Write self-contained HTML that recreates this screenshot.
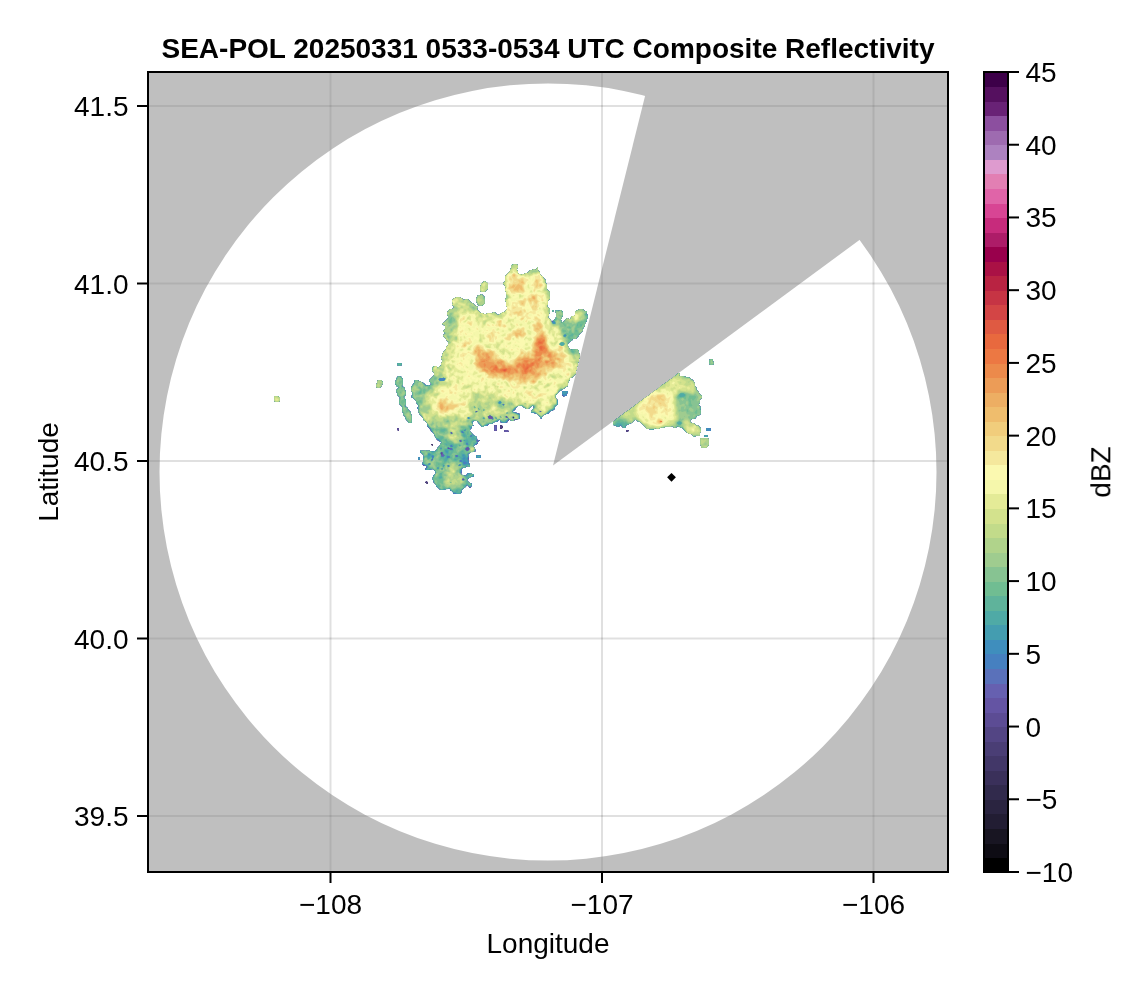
<!DOCTYPE html>
<html lang="en">
<head>
<meta charset="utf-8">
<title>SEA-POL Composite Reflectivity</title>
<style>html,body{margin:0;padding:0;background:#fff}svg{display:block}text{font-family:"Liberation Sans",sans-serif;fill:#000;-webkit-font-smoothing:antialiased}</style>
</head>
<body>
<svg width="1146" height="990" viewBox="0 0 1146 990">
<rect width="1146" height="990" fill="#fff"/>
<defs><clipPath id="ax"><rect x="148" y="72" width="800" height="800"/></clipPath></defs>
<g clip-path="url(#ax)">
<g stroke="#000" stroke-opacity="0.12" stroke-width="2">
<line x1="330.5" y1="72" x2="330.5" y2="872"/>
<line x1="602" y1="72" x2="602" y2="872"/>
<line x1="873.5" y1="72" x2="873.5" y2="872"/>
<line x1="148" y1="106" x2="948" y2="106"/>
<line x1="148" y1="283.5" x2="948" y2="283.5"/>
<line x1="148" y1="461" x2="948" y2="461"/>
<line x1="148" y1="638.5" x2="948" y2="638.5"/>
<line x1="148" y1="816" x2="948" y2="816"/>
</g>
<g opacity="0.5" fill="#808080">
<path fill-rule="evenodd" d="M146 70H950V874H146Z M159.5 472a388.5 388.5 0 1 0 777 0a388.5 388.5 0 1 0 -777 0Z"/>
<polygon points="553,465.5 660,36 960,36 960,166"/>
</g>
<g transform="scale(0.5)" fill-rule="evenodd">
<path fill="#3a305a" d="M921 988l-14 0l-2-6l-4 0l-1-1l0-4l-1-1l-2 2l-6 0l-2 2l-8 0l-6-6l-2 0l-1-1l0-4l-6-6l0-4l-2-2l2-2l0-4l3-1l3-3l-2-6l-5-3l-2 0l-2 2l-10 0l-1-3l3-1l1-3l-1-1l-4 0l-5-3l0-2l2-2l0-10l2-2l0-2l-5-5l-2 0l-1-3l3-3l2 2l2 0l2-2l2 0l2 2l2 0l2-2l2 2l12 0l3-3l0-2l6-6l0-2l4-4l-5-3l-2 0l-5-5l0-2l-2-2l-2-6l-3-3l-3-1l0-2l-8-10l0-6l-8-6l0-4l-8-8l0-2l-2-2l2-2l0-2l-4-2l0-2l3-1l1-3l-4-2l0-2l-2-2l0-4l-5-5l-2 0l-3-3l2-2l0-8l-2-2l0-6l8-12l-2-2l1-1l6 0l6 4l6 2l4 4l2 0l2 2l2-2l2 2l3-3l0-2l-4-6l10-10l0-6l-4-4l0-6l5-3l4 0l2 4l7-5l0-4l2-2l0-6l-2-2l0-2l2-2l0-4l2-2l0-2l6-6l0-4l4-4l0-8l-4-4l0-2l-6-6l4-4l0-2l-4-2l4-4l0-8l-3-1l-3-3l3-1l9-9l0-6l-2-2l0-4l2-2l0-2l5-3l4 0l3-3l0-2l-4-4l2-2l-2-6l5-5l2 0l2-2l6 0l2 2l2 0l4 4l2 0l2-2l4 0l8 8l2 0l6 6l2 0l3 3l-2 2l0 2l7 7l4 0l2 2l6 0l2-2l10 0l2-2l2 0l6 6l2 0l2-2l2 0l6-4l2 0l5-5l0-6l-2-2l0-8l-2-2l0-2l2-2l0-14l-2-2l0-2l2-2l0-2l-2-2l0-2l-4-4l4-4l0-10l10-10l0-4l2-2l0-6l5-3l6 0l3 3l0 4l-2 2l0 4l2 2l0 4l1 1l4 0l2 2l2-2l4 0l2-2l4 0l6-6l4 0l2-2l2 0l2 2l3-3l1-3l1 1l0 6l4 4l0 4l3 3l2 0l1 3l6 6l0 2l-2 2l4 4l0 10l3 3l3 1l0 14l-4 4l0 8l-2 2l0 2l3 3l3 1l0 8l-2 2l0 4l-2 2l0 2l6 6l1 3l2 0l1-3l3-1l3-5l0-10l-2-2l3-3l2 0l2 2l6-2l3 5l0 6l-4 6l0 4l2 2l-2 2l1 1l2-2l2 0l3-3l1-3l2 0l2-2l2 2l4 0l2-6l6 0l1-1l0-8l5-3l2 0l2-2l6 0l4 4l4 0l1 1l0 2l-2 2l4 4l0 4l-2 2l0 4l-4 6l0 4l-4 6l0 4l-8 8l0 2l-7 7l-6 0l-1 3l-3 1l-5 5l0 6l3 5l2 0l2 2l2-2l10 0l3 5l0 4l2 2l0 6l-2 2l0 6l-2 2l0 6l-2 2l0 6l-2 2l0 6l-9 9l-4 0l-1 1l2 2l-4 6l0 6l-3 3l-2 0l-4 4l-2 0l-4 4l-2 0l-3 3l0 2l-4 2l0 4l-2 2l6 6l0 8l-3 1l-3 3l0 4l-3 3l-6 2l-3 3l-1 3l-6 0l-2 2l-2 0l-3 3l0 4l-1 1l-3-3l0-2l-5-5l-4 0l-2-2l-6 0l-1-1l0-2l4-4l0-2l2-2l-1-3l-4 0l-6 6l-4 0l-2-2l-2 0l-4-4l-10 0l-3 3l0 2l-5 5l-3 1l1 1l6 0l2 2l4 0l2 2l1 1l0 8l-1 1l-4 0l-2 2l-4 0l-2 2l-4 0l-4-4l-6 8l-10 0l-3-3l0-4l-1-1l-3 3l-1 3l-6 0l-6 4l-6 0l-2 4l-8 0l-2 2l-3-1l0-2l-6-6l-1-3l-8 0l-1 1l0 2l-2 2l2 2l-2 2l0 4l-4 4l0 4l9 9l2 0l3 3l0 4l1 1l4 0l1 1l-4 2l0 2l-3 5l-4 0l-3 3l4 4l0 2l2 2l-3 3l-8 0l-5 5l0 2l2 2l0 4l-2 2l2 2l0 6l2 2l0 4l-3 1l-2-2l-2 0l-2 4l-6 0l-3 3l2 2l0 4l-2 2l0 2l9 3l3-3l1-3l6 0l2 2l4 0l1 1l0 4l-1 1l-6 0l-7 5l0 2l5 5l4 0l1 1l0 4l-2 2l0 2l-3 1l-1-3l-3-3l-2 0l-1 3l-8 6l0 4zM969 584l-6 0l-3-3l0-8l2-2l0-4l3-1l4-4l7 5l0 10zM963 612l-4 0l-5-5l0-2l-2-2l0-6l2-2l0-2l3-3l4 0l2-2l7 7l0 12zM1105 624l-1-3l3-1l1 1zM1425 730l-4 0l-3-3l0-6l3-3l4 0l1 1l0 4l2 2l0 2zM801 732l-4 0l-3-3l0-2l1-1l8 0l1 3zM1389 874l-2 0l-1-3l-3-3l-4 0l-2-2l-2 0l-4-4l-2 0l-1-3l-3-3l-2 0l-2-2l-4 0l-2-2l-4 4l-2 0l-4-4l-2 0l-2 2l-12 0l-2 2l-2 0l-2-2l-6 4l-4 0l-2-2l-6 4l-4 0l-2-2l-6 0l-1-3l-13-13l-2 2l-4-4l-4 0l-6 6l-6 2l-2 2l-2 0l-3 3l2 2l-1 1l-4 0l-6-6l-4 4l-2 0l-2-2l-6-2l-1-1l0-6l3-1l6-6l2 0l6-6l2 0l6-6l2 0l4-4l2 0l6-6l2 0l6-6l2 0l6-6l2 0l6-6l2 0l4-4l2 0l6-6l2 0l6-6l2 0l14-12l2 0l4-4l2 0l6-6l2 0l14-12l2 0l1 1l0 2l-2 2l1 1l10 0l2 2l6 0l4 4l2 0l5 5l0 2l2 2l0 6l4 4l-2 2l6 6l0 2l3 3l3 1l0 4l-4 4l0 6l-2 2l0 4l4 4l0 2l-2 2l2 2l0 6l-3 3l-6 2l-1 3l-3 3l-6 0l-3 3l0 2l3 3l4 0l6 6l2-2l7 7l0 6l-2 2l0 6l-1 1l-8 0zM823 846l-6 0l-1-3l-4-4l-2-6l-4-4l0-4l-2-2l0-10l-6-6l0-8l2-2l0-2l-6-6l0-4l-2-2l0-2l6-6l-5-3l-3-5l0-4l2-2l2-6l3-3l6 2l3 5l0 10l-2 2l0 2l3 1l3 3l0 4l2 2l0 6l-4 4l0 2l4 6l0 8l-2 2l0 2l3 1l3 3l0 2l6 6l0 4l2 2l0 14zM759 776l-4 0l-3-3l0-4l2-2l0-4l3-3l6 0l3 5l0 2l-2 2l0 2zM1127 794l-3-5l0-6l1-1l10 0l1 3l-2 2l0 4l-1 1l-4 0zM557 804l-6 0l-3-3l0-8l1-1l6 0l5 3l0 6zM947 852l-1-1l1-1l1 1zM993 862l-4 0l-1-1l0-10l1-1l4 0l1 1l0 10zM1003 858l-3-1l0-6l1-1l2 0l3 3l0 2zM797 862l-3-3l1-3l3 1l0 4zM1421 862l-8 0l-1-1l0-4l1-1l8 0l1 1l0 4zM1017 864l-8 0l-1-3l1-1l6 0l3 3zM1255 864l-3-1l1-3l4 0l1 1zM1415 874l-6 0l-1-3l1-1l6 0l1 1zM1413 896l-10 0l-1-1l0-4l-2-2l0-12l1-1l14 0l3 3l0 10zM865 892l-3-3l1-1l3 1zM961 916l-8 0l-1-1l0-4l1-1l8 0l1 1l0 4zM839 920l-3-1l0-4l1-1l3 1l0 4zM855 968l-5-3l3-3l3 3z"/>
<path fill="#423768" d="M921 988l-14 0l-2-6l-4 0l-1-1l0-4l-1-1l-2 2l-6 0l-2 2l-8 0l-6-6l-2 0l-1-1l0-4l-6-6l0-4l-2-2l2-2l0-4l3-1l3-3l-2-6l-5-3l-2 0l-2 2l-10 0l-1-3l3-1l1-3l-1-1l-4 0l-5-3l0-2l2-2l0-10l2-2l0-2l-5-5l-2 0l-1-3l3-3l2 2l2 0l2-2l2 0l2 2l2 0l2-2l2 2l12 0l3-3l0-2l6-6l0-2l4-4l-5-3l-2 0l-5-5l0-2l-2-2l-2-6l-3-3l-3-1l0-2l-8-10l0-6l-8-6l0-4l-8-8l0-2l-2-2l2-2l0-2l-4-2l0-2l3-1l1-3l-4-2l0-2l-2-2l0-4l-5-5l-2 0l-3-3l2-2l0-8l-2-2l0-6l8-12l-2-2l1-1l6 0l6 4l6 2l4 4l2 0l2 2l2-2l2 2l3-3l0-2l-4-6l10-10l0-6l-4-4l0-6l5-3l4 0l2 4l7-5l0-4l2-2l0-6l-2-2l0-2l2-2l0-4l2-2l0-2l6-6l0-4l4-4l0-8l-4-4l0-2l-6-6l4-4l0-2l-4-2l4-4l0-8l-3-1l-3-3l3-1l9-9l0-6l-2-2l0-4l2-2l0-2l5-3l4 0l3-3l0-2l-4-4l2-2l-2-6l5-5l2 0l2-2l6 0l2 2l2 0l4 4l2 0l2-2l4 0l8 8l2 0l6 6l2 0l3 3l-2 2l0 2l7 7l4 0l2 2l6 0l2-2l10 0l2-2l2 0l6 6l2 0l2-2l2 0l6-4l2 0l5-5l0-6l-2-2l0-8l-2-2l0-2l2-2l0-14l-2-2l0-2l2-2l0-2l-2-2l0-2l-4-4l4-4l0-10l10-10l0-4l2-2l0-6l5-3l6 0l3 3l0 4l-2 2l0 4l2 2l0 4l1 1l4 0l2 2l2-2l4 0l2-2l4 0l6-6l4 0l2-2l2 0l2 2l3-3l1-3l1 1l0 6l4 4l0 4l3 3l2 0l1 3l6 6l0 2l-2 2l4 4l0 10l3 3l3 1l0 14l-4 4l0 8l-2 2l0 2l3 3l3 1l0 8l-2 2l0 4l-2 2l0 2l6 6l1 3l2 0l1-3l3-1l3-5l0-10l-2-2l3-3l2 0l2 2l6-2l3 5l0 6l-4 6l0 4l2 2l-2 2l1 1l2-2l2 0l3-3l1-3l2 0l2-2l2 2l4 0l2-6l6 0l1-1l0-8l5-3l2 0l2-2l6 0l4 4l4 0l1 1l0 2l-2 2l4 4l0 4l-2 2l0 4l-4 6l0 4l-4 6l0 4l-8 8l0 2l-7 7l-6 0l-1 3l-3 1l-5 5l0 6l3 5l2 0l2 2l2-2l10 0l3 5l0 4l2 2l0 6l-2 2l0 6l-2 2l0 6l-2 2l0 6l-2 2l0 6l-9 9l-4 0l-1 1l2 2l-4 6l0 6l-3 3l-2 0l-4 4l-2 0l-4 4l-2 0l-3 3l0 2l-4 2l0 4l-2 2l6 6l0 8l-3 1l-3 3l0 4l-3 3l-6 2l-3 3l-1 3l-6 0l-2 2l-2 0l-3 3l0 4l-1 1l-3-3l0-2l-5-5l-4 0l-2-2l-6 0l-1-1l0-2l4-4l0-2l2-2l-1-3l-4 0l-6 6l-4 0l-2-2l-2 0l-4-4l-10 0l-3 3l0 2l-5 5l-3 1l1 1l6 0l2 2l4 0l2 2l1 1l0 8l-1 1l-4 0l-2 2l-4 0l-2 2l-4 0l-4-4l-6 8l-10 0l-3-3l0-4l-1-1l-3 3l-1 3l-6 0l-6 4l-6 0l-2 4l-8 0l-2 2l-3-1l0-2l-6-6l-1-3l-8 0l-1 1l0 2l-2 2l2 2l-2 2l0 4l-4 4l0 4l9 9l2 0l3 3l0 4l1 1l4 0l1 1l-4 2l0 2l-3 5l-4 0l-3 3l4 4l0 2l2 2l-3 3l-8 0l-5 5l0 2l2 2l0 4l-2 2l2 2l0 6l2 2l0 4l-3 1l-2-2l-2 0l-2 4l-6 0l-3 3l2 2l0 4l-2 2l0 2l9 3l3-3l1-3l6 0l2 2l4 0l1 1l0 4l-1 1l-6 0l-7 5l0 2l5 5l4 0l1 1l0 4l-2 2l0 2l-3 1l-1-3l-3-3l-2 0l-1 3l-8 6l0 4zM969 584l-6 0l-3-3l0-8l2-2l0-4l3-1l4-4l7 5l0 10zM963 612l-4 0l-5-5l0-2l-2-2l0-6l2-2l0-2l3-3l4 0l2-2l7 7l0 12zM1105 624l-1-3l3-1l1 1zM1425 730l-4 0l-3-3l0-6l3-3l4 0l1 1l0 4l2 2l0 2zM801 732l-4 0l-3-3l0-2l1-1l8 0l1 3zM1389 874l-2 0l-1-3l-3-3l-4 0l-2-2l-2 0l-4-4l-2 0l-1-3l-3-3l-2 0l-2-2l-4 0l-2-2l-4 4l-2 0l-4-4l-2 0l-2 2l-12 0l-2 2l-2 0l-2-2l-6 4l-4 0l-2-2l-6 4l-4 0l-2-2l-6 0l-1-3l-13-13l-2 2l-4-4l-4 0l-6 6l-6 2l-2 2l-2 0l-3 3l2 2l-1 1l-4 0l-6-6l-4 4l-2 0l-2-2l-6-2l-1-1l0-6l3-1l6-6l2 0l6-6l2 0l6-6l2 0l4-4l2 0l6-6l2 0l6-6l2 0l6-6l2 0l6-6l2 0l4-4l2 0l6-6l2 0l6-6l2 0l14-12l2 0l4-4l2 0l6-6l2 0l14-12l2 0l1 1l0 2l-2 2l1 1l10 0l2 2l6 0l4 4l2 0l5 5l0 2l2 2l0 6l4 4l-2 2l6 6l0 2l3 3l3 1l0 4l-4 4l0 6l-2 2l0 4l4 4l0 2l-2 2l2 2l0 6l-3 3l-6 2l-1 3l-3 3l-6 0l-3 3l0 2l3 3l4 0l6 6l2-2l7 7l0 6l-2 2l0 6l-1 1l-8 0zM823 846l-6 0l-1-3l-4-4l-2-6l-4-4l0-4l-2-2l0-10l-6-6l0-8l2-2l0-2l-6-6l0-4l-2-2l0-2l6-6l-5-3l-3-5l0-4l2-2l2-6l3-3l6 2l3 5l0 10l-2 2l0 2l3 1l3 3l0 4l2 2l0 6l-4 4l0 2l4 6l0 8l-2 2l0 2l3 1l3 3l0 2l6 6l0 4l2 2l0 14zM759 776l-4 0l-3-3l0-4l2-2l0-4l3-3l6 0l3 5l0 2l-2 2l0 2zM1127 794l-3-5l0-6l1-1l10 0l1 3l-2 2l0 4l-1 1l-4 0zM557 804l-6 0l-3-3l0-8l1-1l6 0l5 3l0 6zM1029 835l-2-2l-2 0l0 2l2 2zM947 852l-1-1l1-1l1 1zM993 862l-4 0l-1-1l0-10l1-1l4 0l1 1l0 10zM1003 858l-3-1l0-6l1-1l2 0l3 3l0 2zM797 862l-3-3l1-3l3 1l0 4zM1421 862l-8 0l-1-1l0-4l1-1l8 0l1 1l0 4zM1017 864l-8 0l-1-3l1-1l6 0l3 3zM1255 864l-3-1l1-3l4 0l1 1zM1415 874l-6 0l-1-3l1-1l6 0l1 1zM1413 896l-10 0l-1-1l0-4l-2-2l0-12l1-1l14 0l3 3l0 10zM865 892l-3-3l1-1l3 1zM961 916l-8 0l-1-1l0-4l1-1l8 0l1 1l0 4zM839 920l-3-1l0-4l1-1l3 1l0 4zM855 968l-5-3l3-3l3 3z"/>
<path fill="#4a3e75" d="M921 988l-14 0l-2-6l-4 0l-1-1l0-4l-1-1l-2 2l-6 0l-2 2l-8 0l-6-6l-2 0l-1-1l0-4l-6-6l0-4l-2-2l2-2l0-4l3-1l3-3l-2-6l-5-3l-2 0l-2 2l-10 0l-1-3l3-1l1-3l-1-1l-4 0l-5-3l0-2l2-2l0-10l2-2l0-2l-5-5l-2 0l-1-3l3-3l2 2l2 0l2-2l2 0l2 2l2 0l2-2l2 2l12 0l3-3l0-2l6-6l0-2l4-4l-5-3l-2 0l-5-5l0-2l-2-2l-2-6l-3-3l-3-1l0-2l-8-10l0-6l-8-6l0-4l-8-8l0-2l-2-2l2-2l0-2l-4-2l0-2l3-1l1-3l-4-2l0-2l-2-2l0-4l-5-5l-2 0l-3-3l2-2l0-8l-2-2l0-6l8-12l-2-2l1-1l6 0l6 4l6 2l4 4l2 0l2 2l2-2l2 2l3-3l0-2l-4-6l10-10l0-6l-4-4l0-6l5-3l4 0l2 4l7-5l0-4l2-2l0-6l-2-2l0-2l2-2l0-4l2-2l0-2l6-6l0-4l4-4l0-8l-4-4l0-2l-6-6l4-4l0-2l-4-2l4-4l0-8l-3-1l-3-3l3-1l9-9l0-6l-2-2l0-4l2-2l0-2l5-3l4 0l3-3l0-2l-4-4l2-2l-2-6l5-5l2 0l2-2l6 0l2 2l2 0l4 4l2 0l2-2l4 0l8 8l2 0l6 6l2 0l3 3l-2 2l0 2l7 7l4 0l2 2l6 0l2-2l10 0l2-2l2 0l6 6l2 0l2-2l2 0l6-4l2 0l5-5l0-6l-2-2l0-8l-2-2l0-2l2-2l0-14l-2-2l0-2l2-2l0-2l-2-2l0-2l-4-4l4-4l0-10l10-10l0-4l2-2l0-6l5-3l6 0l3 3l0 4l-2 2l0 4l2 2l0 4l1 1l4 0l2 2l2-2l4 0l2-2l4 0l6-6l4 0l2-2l2 0l2 2l3-3l1-3l1 1l0 6l4 4l0 4l3 3l2 0l1 3l6 6l0 2l-2 2l4 4l0 10l3 3l3 1l0 14l-4 4l0 8l-2 2l0 2l3 3l3 1l0 8l-2 2l0 4l-2 2l0 2l6 6l1 3l2 0l1-3l3-1l3-5l0-10l-2-2l3-3l2 0l2 2l6-2l3 5l0 6l-4 6l0 4l2 2l-2 2l1 1l2-2l2 0l3-3l1-3l2 0l2-2l2 2l4 0l2-6l6 0l1-1l0-8l5-3l2 0l2-2l6 0l4 4l4 0l1 1l0 2l-2 2l4 4l0 4l-2 2l0 4l-4 6l0 4l-4 6l0 4l-8 8l0 2l-7 7l-6 0l-1 3l-3 1l-5 5l0 6l3 5l2 0l2 2l2-2l10 0l3 5l0 4l2 2l0 6l-2 2l0 6l-2 2l0 6l-2 2l0 6l-2 2l0 6l-9 9l-4 0l-1 1l2 2l-4 6l0 6l-3 3l-2 0l-4 4l-2 0l-4 4l-2 0l-3 3l0 2l-4 2l0 4l-2 2l6 6l0 8l-3 1l-3 3l0 4l-3 3l-6 2l-3 3l-1 3l-6 0l-2 2l-2 0l-3 3l0 4l-1 1l-3-3l0-2l-5-5l-4 0l-2-2l-6 0l-1-1l0-2l4-4l0-2l2-2l-1-3l-4 0l-6 6l-4 0l-2-2l-2 0l-4-4l-10 0l-3 3l0 2l-5 5l-3 1l1 1l6 0l2 2l4 0l2 2l1 1l0 8l-1 1l-4 0l-2 2l-4 0l-2 2l-4 0l-4-4l-6 8l-10 0l-3-3l0-4l-1-1l-3 3l-1 3l-6 0l-6 4l-6 0l-2 4l-8 0l-2 2l-3-1l0-2l-6-6l-1-3l-8 0l-1 1l0 2l-2 2l2 2l-2 2l0 4l-4 4l0 4l9 9l2 0l3 3l0 4l1 1l4 0l1 1l-4 2l0 2l-3 5l-4 0l-3 3l4 4l0 2l2 2l-3 3l-8 0l-5 5l0 2l2 2l0 4l-2 2l2 2l0 6l2 2l0 4l-3 1l-2-2l-2 0l-2 4l-6 0l-3 3l2 2l0 4l-2 2l0 2l9 3l3-3l1-3l6 0l2 2l4 0l1 1l0 4l-1 1l-6 0l-7 5l0 2l5 5l4 0l1 1l0 4l-2 2l0 2l-3 1l-1-3l-3-3l-2 0l-1 3l-8 6l0 4zM969 584l-6 0l-3-3l0-8l2-2l0-4l3-1l4-4l7 5l0 10zM963 612l-4 0l-5-5l0-2l-2-2l0-6l2-2l0-2l3-3l4 0l2-2l7 7l0 12zM1105 624l-1-3l3-1l1 1zM1425 730l-4 0l-3-3l0-6l3-3l4 0l1 1l0 4l2 2l0 2zM801 732l-4 0l-3-3l0-2l1-1l8 0l1 3zM1389 874l-2 0l-1-3l-3-3l-4 0l-2-2l-2 0l-4-4l-2 0l-1-3l-3-3l-2 0l-2-2l-4 0l-2-2l-4 4l-2 0l-4-4l-2 0l-2 2l-12 0l-2 2l-2 0l-2-2l-6 4l-4 0l-2-2l-6 4l-4 0l-2-2l-6 0l-1-3l-13-13l-2 2l-4-4l-4 0l-6 6l-6 2l-2 2l-2 0l-3 3l2 2l-1 1l-4 0l-6-6l-4 4l-2 0l-2-2l-6-2l-1-1l0-6l3-1l6-6l2 0l6-6l2 0l6-6l2 0l4-4l2 0l6-6l2 0l6-6l2 0l6-6l2 0l6-6l2 0l4-4l2 0l6-6l2 0l6-6l2 0l14-12l2 0l4-4l2 0l6-6l2 0l14-12l2 0l1 1l0 2l-2 2l1 1l10 0l2 2l6 0l4 4l2 0l5 5l0 2l2 2l0 6l4 4l-2 2l6 6l0 2l3 3l3 1l0 4l-4 4l0 6l-2 2l0 4l4 4l0 2l-2 2l2 2l0 6l-3 3l-6 2l-1 3l-3 3l-6 0l-3 3l0 2l3 3l4 0l6 6l2-2l7 7l0 6l-2 2l0 6l-1 1l-8 0zM823 846l-6 0l-1-3l-4-4l-2-6l-4-4l0-4l-2-2l0-10l-6-6l0-8l2-2l0-2l-6-6l0-4l-2-2l0-2l6-6l-5-3l-3-5l0-4l2-2l2-6l3-3l6 2l3 5l0 10l-2 2l0 2l3 1l3 3l0 4l2 2l0 6l-4 4l0 2l4 6l0 8l-2 2l0 2l3 1l3 3l0 2l6 6l0 4l2 2l0 14zM759 776l-4 0l-3-3l0-4l2-2l0-4l3-3l6 0l3 5l0 2l-2 2l0 2zM1127 794l-3-5l0-6l1-1l10 0l1 3l-2 2l0 4l-1 1l-4 0zM557 804l-6 0l-3-3l0-8l1-1l6 0l5 3l0 6zM1028 837l2-2l-3-3l-2 0l-1 3zM947 852l-1-1l1-1l1 1zM993 862l-4 0l-1-1l0-10l1-1l4 0l1 1l0 10zM1003 858l-3-1l1-7l2 0l3 3l-1 2zM797 862l-3-3l1-3l3 1l0 4zM1421 862l-8 0l-1-1l0-4l1-1l8 0l1 1l0 4zM1017 864l-8 0l-1-3l1-1l6 0l3 3zM1255 864l-3-1l1-3l4 0l1 1zM1415 874l-6 0l-1-3l1-1l6 0l1 1zM1413 896l-10 0l-1-1l0-4l-2-2l0-12l1-1l14 0l3 3l0 10zM865 892l-2-4l3 1zM961 916l-8 0l-1-1l0-4l1-1l8 0l1 1l0 4zM839 920l-3-1l0-4l1-1l3 1l0 4zM855 968l-5-3l3-3l3 3l0 2z"/>
<path fill="#534584" d="M921 988l-14 0l-2-6l-4 0l-1-1l0-4l-1-1l-2 2l-6 0l-2 2l-8 0l-6-6l-2 0l-1-1l0-4l-6-6l0-4l-2-2l2-2l0-4l3-1l3-3l-2-6l-5-3l-2 0l-2 2l-10 0l-1-3l3-1l1-3l-1-1l-4 0l-5-3l0-2l2-2l0-10l2-2l0-2l-5-5l-2 0l-1-3l3-3l2 2l2 0l2-2l2 0l2 2l2 0l2-2l2 2l12 0l3-3l0-2l6-6l0-2l4-4l-5-3l-2 0l-5-5l0-2l-2-2l-2-6l-3-3l-3-1l0-2l-8-10l0-6l-8-6l0-4l-8-8l0-2l-2-2l2-2l0-2l-4-2l0-2l3-1l1-3l-4-2l0-2l-2-2l0-4l-5-5l-2 0l-3-3l2-2l0-8l-2-2l0-6l8-12l-2-2l1-1l6 0l6 4l6 2l4 4l2 0l2 2l2-2l2 2l3-3l0-2l-4-6l10-10l0-6l-4-4l0-6l5-3l4 0l2 4l7-5l0-4l2-2l0-6l-2-2l0-2l2-2l0-4l2-2l0-2l6-6l0-4l4-4l0-8l-4-4l0-2l-6-6l4-4l0-2l-4-2l4-4l0-8l-3-1l-3-3l3-1l9-9l0-6l-2-2l0-4l2-2l0-2l5-3l4 0l3-3l0-2l-4-4l2-2l-2-6l5-5l2 0l2-2l6 0l2 2l2 0l4 4l2 0l2-2l4 0l8 8l2 0l6 6l2 0l3 3l-2 2l0 2l7 7l4 0l2 2l6 0l2-2l10 0l2-2l2 0l6 6l2 0l2-2l2 0l6-4l2 0l5-5l0-6l-2-2l0-8l-2-2l0-2l2-2l0-14l-2-2l0-2l2-2l0-2l-2-2l0-2l-4-4l4-4l0-10l10-10l0-4l2-2l0-6l5-3l6 0l3 3l0 4l-2 2l0 4l2 2l0 4l1 1l4 0l2 2l2-2l4 0l2-2l4 0l6-6l4 0l2-2l2 0l2 2l3-3l1-3l1 1l0 6l4 4l0 4l3 3l2 0l1 3l6 6l0 2l-2 2l4 4l0 10l3 3l3 1l0 14l-4 4l0 8l-2 2l0 2l3 3l3 1l0 8l-2 2l0 4l-2 2l0 2l6 6l1 3l2 0l1-3l3-1l3-5l0-10l-2-2l3-3l2 0l2 2l6-2l3 5l0 6l-4 6l0 4l2 2l-2 2l1 1l2-2l2 0l3-3l1-3l2 0l2-2l2 2l4 0l2-6l6 0l1-1l0-8l5-3l2 0l2-2l6 0l4 4l4 0l1 1l0 2l-2 2l4 4l0 4l-2 2l0 4l-4 6l0 4l-4 6l0 4l-8 8l0 2l-7 7l-6 0l-1 3l-3 1l-5 5l0 6l3 5l2 0l2 2l2-2l10 0l3 5l0 4l2 2l0 6l-2 2l0 6l-2 2l0 6l-2 2l0 6l-2 2l0 6l-9 9l-4 0l-1 1l2 2l-4 6l0 6l-3 3l-2 0l-4 4l-2 0l-4 4l-2 0l-3 3l0 2l-4 2l0 4l-2 2l6 6l0 8l-3 1l-3 3l0 4l-3 3l-6 2l-3 3l-1 3l-6 0l-2 2l-2 0l-3 3l0 4l-1 1l-3-3l0-2l-5-5l-4 0l-2-2l-6 0l-1-1l0-2l4-4l0-2l2-2l-1-3l-4 0l-6 6l-4 0l-2-2l-2 0l-4-4l-10 0l-3 3l0 2l-5 5l-3 1l1 1l6 0l2 2l4 0l2 2l1 1l0 8l-1 1l-4 0l-2 2l-4 0l-2 2l-4 0l-4-4l-6 8l-10 0l-3-3l0-4l-1-1l-3 3l-1 3l-6 0l-6 4l-6 0l-2 4l-8 0l-2 2l-3-1l0-2l-6-6l-1-3l-8 0l-1 1l0 2l-2 2l2 2l-2 2l0 4l-4 4l0 4l9 9l2 0l3 3l0 4l1 1l4 0l1 1l-4 2l0 2l-3 5l-4 0l-3 3l4 4l0 2l2 2l-3 3l-8 0l-5 5l0 2l2 2l0 4l-2 2l2 2l0 6l2 2l0 4l-3 1l-2-2l-2 0l-2 4l-6 0l-3 3l2 2l0 4l-2 2l0 2l9 3l3-3l1-3l6 0l2 2l4 0l1 1l0 4l-1 1l-6 0l-7 5l0 2l5 5l4 0l1 1l0 4l-2 2l0 2l-3 1l-1-3l-3-3l-2 0l-1 3l-8 6l0 4zM969 584l-6 0l-3-3l0-8l2-2l0-4l3-1l4-4l7 5l0 10zM963 612l-4 0l-5-5l0-2l-2-2l0-6l2-2l0-2l3-3l4 0l2-2l7 7l0 12zM1105 624l-1-3l3-1l1 1zM1425 730l-4 0l-3-3l0-6l3-3l4 0l1 1l0 4l2 2l0 2zM801 732l-4 0l-3-3l0-2l1-1l8 0l1 3zM1389 874l-2 0l-1-3l-3-3l-4 0l-2-2l-2 0l-4-4l-2 0l-1-3l-3-3l-2 0l-2-2l-4 0l-2-2l-4 4l-2 0l-4-4l-2 0l-2 2l-12 0l-2 2l-2 0l-2-2l-6 4l-4 0l-2-2l-6 4l-4 0l-2-2l-6 0l-1-3l-13-13l-2 2l-4-4l-4 0l-6 6l-6 2l-2 2l-2 0l-3 3l2 2l-1 1l-4 0l-6-6l-4 4l-2 0l-2-2l-6-2l-1-1l0-6l3-1l6-6l2 0l6-6l2 0l6-6l2 0l4-4l2 0l6-6l2 0l6-6l2 0l6-6l2 0l6-6l2 0l4-4l2 0l6-6l2 0l6-6l2 0l14-12l2 0l4-4l2 0l6-6l2 0l14-12l2 0l1 1l0 2l-2 2l1 1l10 0l2 2l6 0l4 4l2 0l5 5l0 2l2 2l0 6l4 4l-2 2l6 6l0 2l3 3l3 1l0 4l-4 4l0 6l-2 2l0 4l4 4l0 2l-2 2l2 2l0 6l-3 3l-6 2l-1 3l-3 3l-6 0l-3 3l0 2l3 3l4 0l6 6l2-2l7 7l0 6l-2 2l0 6l-1 1l-8 0zM823 846l-6 0l-1-3l-4-4l-2-6l-4-4l0-4l-2-2l0-10l-6-6l0-8l2-2l0-2l-6-6l0-4l-2-2l0-2l6-6l-5-3l-3-5l0-4l2-2l2-6l3-3l6 2l3 5l0 10l-2 2l0 2l3 1l3 3l0 4l2 2l0 6l-4 4l0 2l4 6l0 8l-2 2l0 2l3 1l3 3l0 2l6 6l0 4l2 2l0 14zM759 776l-4 0l-3-3l0-4l2-2l0-4l3-3l6 0l3 5l0 2l-2 2l0 2zM1127 794l-3-5l0-6l1-1l10 0l1 3l-2 2l0 4l-1 1l-4 0zM557 804l-6 0l-3-3l0-8l1-1l6 0l5 3l0 6zM1028 837l2-2l-3-3l-2 0l-1 3l3 3zM947 852l-1-1l1-1l1 1zM993 862l-4 0l-1-1l0-10l1-1l4 0l1 1l0 10zM1003 857l-2 0l0-6l2 0l2 2zM797 862l-3-3l1-3l3 1l0 4zM1421 862l-8 0l-1-1l0-4l1-1l8 0l1 1l0 4zM1017 864l-8 0l-1-3l1-1l6 0l3 3zM1255 864l-3-1l1-3l5 1zM1415 874l-6 0l-1-3l1-1l6 0l1 1zM1413 896l-10 0l-1-1l0-4l-2-2l0-12l1-1l14 0l3 3l0 10zM961 916l-8 0l-1-1l0-4l1-1l8 0l1 1l0 4zM839 920l-3-1l0-4l1-1l3 1l0 4zM855 968l-4-3l2-3l2 3z"/>
<path fill="#5c4c94" d="M921 988l-14 0l-2-6l-4 0l-1-1l0-4l-1-1l-2 2l-6 0l-2 2l-8 0l-6-6l-2 0l-1-1l0-4l-6-6l0-4l-2-2l2-2l0-4l3-1l3-3l-2-6l-5-3l-2 0l-2 2l-10 0l-1-3l3-1l1-3l-1-1l-4 0l-5-3l0-2l2-2l0-10l2-2l0-2l-5-5l-2 0l-1-3l3-3l2 2l2 0l2-2l2 0l2 2l2 0l2-2l2 2l12 0l3-3l0-2l6-6l0-2l4-4l-5-3l-2 0l-5-5l0-2l-2-2l-2-6l-3-3l-3-1l0-2l-8-10l0-6l-8-6l0-4l-8-8l0-2l-2-2l2-2l0-2l-4-2l0-2l3-1l1-3l-4-2l0-2l-2-2l0-4l-5-5l-2 0l-3-3l2-2l0-8l-2-2l0-6l8-12l-2-2l1-1l6 0l6 4l6 2l4 4l2 0l2 2l2-2l2 2l3-3l0-2l-4-6l10-10l0-6l-4-4l0-6l5-3l4 0l2 4l7-5l0-4l2-2l0-6l-2-2l0-2l2-2l0-4l2-2l0-2l6-6l0-4l4-4l0-8l-4-4l0-2l-6-6l4-4l0-2l-4-2l4-4l0-8l-3-1l-3-3l3-1l9-9l0-6l-2-2l0-4l2-2l0-2l5-3l4 0l3-3l0-2l-4-4l2-2l-2-6l5-5l2 0l2-2l6 0l2 2l2 0l4 4l2 0l2-2l4 0l8 8l2 0l6 6l2 0l3 3l-2 2l0 2l7 7l4 0l2 2l6 0l2-2l10 0l2-2l2 0l6 6l2 0l2-2l2 0l6-4l2 0l5-5l0-6l-2-2l0-8l-2-2l0-2l2-2l0-14l-2-2l0-2l2-2l0-2l-2-2l0-2l-4-4l4-4l0-10l10-10l0-4l2-2l0-6l5-3l6 0l3 3l0 4l-2 2l0 4l2 2l0 4l1 1l4 0l2 2l2-2l4 0l2-2l4 0l6-6l4 0l2-2l2 0l2 2l3-3l1-3l1 1l0 6l4 4l0 4l3 3l2 0l1 3l6 6l0 2l-2 2l4 4l0 10l3 3l3 1l0 14l-4 4l0 8l-2 2l0 2l3 3l3 1l0 8l-2 2l0 4l-2 2l0 2l6 6l1 3l2 0l1-3l3-1l3-5l0-10l-2-2l3-3l2 0l2 2l6-2l3 5l0 6l-4 6l0 4l2 2l-2 2l1 1l2-2l2 0l3-3l1-3l2 0l2-2l2 2l4 0l2-6l6 0l1-1l0-8l5-3l2 0l2-2l6 0l4 4l4 0l1 1l0 2l-2 2l4 4l0 4l-2 2l0 4l-4 6l0 4l-4 6l0 4l-8 8l0 2l-7 7l-6 0l-1 3l-3 1l-5 5l0 6l3 5l2 0l2 2l2-2l10 0l3 5l0 4l2 2l0 6l-2 2l0 6l-2 2l0 6l-2 2l0 6l-2 2l0 6l-9 9l-4 0l-1 1l2 2l-4 6l0 6l-3 3l-2 0l-4 4l-2 0l-4 4l-2 0l-3 3l0 2l-4 2l0 4l-2 2l6 6l0 8l-3 1l-3 3l0 4l-3 3l-6 2l-3 3l-1 3l-6 0l-2 2l-2 0l-3 3l0 4l-1 1l-3-3l0-2l-5-5l-4 0l-2-2l-6 0l-1-1l0-2l4-4l0-2l2-2l-1-3l-4 0l-6 6l-4 0l-2-2l-2 0l-4-4l-10 0l-3 3l0 2l-5 5l-3 1l1 1l6 0l2 2l4 0l2 2l1 1l0 8l-1 1l-8 1l-4 3l-4 0l-4-4l-6 8l-10 0l-3-3l0-4l-1-1l-3 3l-1 3l-6 0l-6 4l-6 0l-2 4l-8 0l-2 2l-3-1l0-2l-6-6l-1-3l-8 0l-1 1l0 2l-2 2l2 2l-2 2l0 4l-4 4l0 4l9 9l2 0l3 3l0 4l1 1l4 0l1 1l-4 2l0 2l-3 5l-4 0l-3 3l4 4l0 2l2 2l-3 3l-8 0l-5 5l0 2l2 2l0 4l-2 2l2 2l0 6l2 2l0 4l-3 1l-2-2l-2 0l-2 4l-6 0l-3 3l2 2l0 4l-2 2l0 2l9 3l3-3l1-3l6 0l2 2l4 0l1 1l0 4l-1 1l-6 0l-7 5l0 2l5 5l4 0l1 1l0 4l-2 2l0 2l-3 1l-1-3l-3-3l-2 0l-1 3l-8 6l0 4zM969 584l-6 0l-3-3l0-8l2-2l0-4l3-1l4-4l7 5l0 10zM963 612l-4 0l-5-5l0-2l-2-2l0-6l2-2l0-2l3-3l4 0l2-2l7 7l0 12zM1105 624l-1-3l3-1l1 1zM1425 730l-4 0l-3-3l0-6l3-3l4 0l1 1l0 4l2 2l0 2zM801 732l-4 0l-3-3l0-2l1-1l8 0l1 3zM1389 874l-2 0l-1-3l-3-3l-4 0l-2-2l-2 0l-4-4l-2 0l-1-3l-3-3l-2 0l-2-2l-4 0l-2-2l-4 4l-2 0l-4-4l-2 0l-2 2l-12 0l-2 2l-2 0l-2-2l-6 4l-4 0l-2-2l-6 4l-4 0l-2-2l-6 0l-1-3l-13-13l-2 2l-4-4l-4 0l-6 6l-6 2l-2 2l-2 0l-3 3l2 2l-1 1l-4 0l-6-6l-4 4l-2 0l-2-2l-6-2l-1-1l0-6l3-1l6-6l2 0l6-6l2 0l6-6l2 0l4-4l2 0l6-6l2 0l6-6l2 0l6-6l2 0l6-6l2 0l4-4l2 0l6-6l2 0l6-6l2 0l14-12l2 0l4-4l2 0l6-6l2 0l14-12l2 0l1 1l0 2l-2 2l1 1l10 0l2 2l6 0l4 4l2 0l5 5l0 2l2 2l0 6l4 4l-2 2l6 6l0 2l3 3l3 1l0 4l-4 4l0 6l-2 2l0 4l4 4l0 2l-2 2l2 2l0 6l-3 3l-6 2l-1 3l-3 3l-6 0l-3 3l0 2l3 3l4 0l6 6l2-2l7 7l0 6l-2 2l0 6l-1 1l-8 0zM823 846l-6 0l-1-3l-4-4l-2-6l-4-4l0-4l-2-2l0-10l-6-6l0-8l2-2l0-2l-6-6l0-4l-2-2l0-2l6-6l-5-3l-3-5l0-4l2-2l2-6l3-3l6 2l3 5l0 10l-2 2l0 2l3 1l3 3l0 4l2 2l0 6l-4 4l0 2l4 6l0 8l-2 2l0 2l3 1l3 3l0 2l6 6l0 4l2 2l0 14zM759 776l-4 0l-3-3l0-4l2-2l0-4l3-3l6 0l3 5l0 2l-2 2l0 2zM1127 794l-3-5l0-6l1-1l10 0l1 3l-2 2l0 4l-1 1l-4 0zM557 804l-6 0l-3-3l0-8l1-1l6 0l5 3l0 6zM1028 837l2-2l-3-3l-2 0l-1 3l3 3zM947 852l-1-1l1-1l1 1zM993 862l-4 0l-1-1l0-10l1-1l4 0l1 1l0 10zM797 862l-3-3l1-3l3 1zM1421 862l-8 0l-1-1l0-4l1-1l8 0l1 1l0 4zM1017 864l-8 0l-1-3l1-1l6 0l3 3zM1255 863l-2 0l0-2l4 0zM1415 874l-6 0l-1-3l1-1l6 0l1 1zM1413 896l-10 0l-1-1l0-4l-2-2l0-12l1-1l14 0l3 3l0 10zM961 916l-8 0l-1-1l0-4l1-1l8 0l1 1l0 4zM839 920l-3-1l0-4l1-1l3 1l0 4zM853 965l-1 0l1-2l1 2z"/>
<path fill="#6454a3" d="M921 988l-14 0l-2-6l-4 0l-1-1l0-4l-1-1l-2 2l-6 0l-2 2l-8 0l-6-6l-2 0l-1-1l0-4l-6-6l0-4l-2-2l2-2l0-4l3-1l3-3l-2-6l-5-3l-2 0l-2 2l-10 0l-1-3l4-2l0-2l-1-1l-4 0l-2-2l-3-1l0-2l2-2l0-10l2-2l0-2l-5-5l-2 0l-1-3l3-3l2 2l2 0l2-2l2 0l2 2l2 0l2-2l2 2l12 0l3-3l0-2l6-6l0-2l4-4l-7-3l-5-5l0-2l-2-2l-2-6l-3-3l-3-1l0-2l-8-10l0-6l-8-6l0-4l-8-8l0-2l-2-2l2-2l0-2l-4-2l0-2l3-1l1-3l-4-2l0-2l-2-2l0-4l-5-5l-2 0l-3-3l2-2l0-8l-2-2l0-6l8-12l-2-2l1-1l6 0l6 4l6 2l4 4l2 0l2 2l2-2l2 2l3-3l0-2l-4-6l10-10l0-6l-4-4l0-6l5-3l4 0l2 4l7-5l0-4l2-2l0-6l-2-2l0-2l2-2l0-4l2-2l0-2l6-6l0-4l4-4l0-8l-4-4l0-2l-6-6l4-4l0-2l-4-2l4-4l0-8l-3-1l-3-3l3-1l9-9l0-6l-2-2l0-4l2-2l0-2l5-3l4 0l3-3l0-2l-4-4l2-2l-2-6l5-5l2 0l2-2l6 0l2 2l2 0l4 4l2 0l2-2l4 0l8 8l2 0l6 6l2 0l3 3l-2 2l0 2l7 7l4 0l2 2l6 0l2-2l10 0l2-2l2 0l6 6l2 0l2-2l2 0l6-4l2 0l5-5l0-6l-2-2l0-8l-2-2l0-2l2-2l0-14l-2-2l0-2l2-2l0-2l-2-2l0-2l-4-4l4-4l0-10l10-10l0-4l2-2l0-6l5-3l6 0l3 3l0 4l-2 2l0 4l2 2l0 4l1 1l4 0l2 2l2-2l4 0l2-2l4 0l6-6l4 0l2-2l2 0l2 2l3-3l1-3l1 1l0 6l4 4l0 4l3 3l2 0l1 3l6 6l0 2l-2 2l4 4l0 10l3 3l3 1l0 14l-4 4l0 8l-2 2l0 2l3 3l3 1l0 8l-2 2l0 4l-2 2l0 2l6 6l1 3l2 0l1-3l3-1l3-5l0-10l-2-2l3-3l2 0l2 2l6-2l3 5l0 6l-4 6l0 4l2 2l-2 2l1 1l2-2l2 0l3-3l1-3l2 0l2-2l2 2l4 0l2-6l6 0l1-1l0-8l5-3l2 0l2-2l6 0l4 4l4 0l1 1l0 2l-2 2l4 4l0 4l-2 2l0 4l-4 6l0 4l-4 6l0 4l-8 8l0 2l-7 7l-6 0l-1 3l-3 1l-5 5l0 6l3 5l2 0l2 2l2-2l10 0l3 5l0 4l2 2l0 6l-2 2l0 6l-2 2l0 6l-2 2l0 6l-2 2l0 6l-9 9l-4 0l-1 1l2 2l-4 6l0 6l-3 3l-2 0l-4 4l-2 0l-4 4l-2 0l-3 3l0 2l-4 2l0 4l-2 2l6 6l0 8l-3 1l-3 3l0 4l-3 3l-6 2l-3 3l-1 3l-6 0l-2 2l-2 0l-3 3l0 4l-1 1l-3-3l0-2l-5-5l-4 0l-2-2l-6 0l-1-1l0-2l4-4l0-2l2-2l-1-3l-4 0l-6 6l-4 0l-2-2l-2 0l-4-4l-10 0l-3 3l0 2l-5 5l-3 1l1 1l6 0l2 2l4 1l2 1l1 1l0 8l-1 1l-8 1l-4 3l-4 0l-4-4l-3 3l-1 3l-2 2l-2 0l-8 0l-3-3l0-4l-1-1l-3 3l-1 3l-6 0l-6 4l-6 0l-2 4l-8 0l-2 2l-3-1l0-2l-6-6l-1-3l-8 0l-1 1l0 2l-2 2l2 2l-2 2l0 4l-4 4l0 4l9 9l2 0l3 3l0 4l1 1l4 0l1 1l-4 2l0 2l-3 5l-4 0l-3 3l4 4l0 2l2 2l-3 3l-8 0l-5 5l0 2l2 2l0 4l-2 2l2 2l0 6l2 2l0 4l-3 1l-2-2l-2 0l-2 4l-6 0l-3 3l2 2l0 4l-2 2l0 2l9 3l3-3l1-3l6 0l2 2l4 0l1 1l0 4l-1 1l-6 0l-7 5l0 2l5 5l4 0l1 1l0 4l-2 2l0 2l-3 1l-1-3l-3-3l-2 0l-1 3l-8 6l0 4zM969 584l-6 0l-3-3l0-8l2-2l0-4l3-1l4-4l7 5l0 10zM963 612l-4 0l-5-5l0-2l-2-2l0-6l2-2l0-2l3-3l4 0l2-2l7 7l0 12zM1105 624l-1-3l3-1l1 1zM1425 730l-4 0l-3-3l0-6l3-3l4 0l1 1l0 4l2 2l0 2zM801 732l-4 0l-3-3l0-2l1-1l8 0l1 3zM1389 874l-2 0l-1-3l-3-3l-4 0l-2-2l-2 0l-4-4l-2 0l-1-3l-3-3l-2 0l-2-2l-4 0l-2-2l-4 4l-2 0l-4-4l-2 0l-2 2l-12 0l-2 2l-2 0l-2-2l-6 4l-4 0l-2-2l-6 4l-4 0l-2-2l-6 0l-1-3l-13-13l-2 2l-4-4l-4 0l-6 6l-6 2l-2 2l-2 0l-3 3l2 2l-1 1l-4 0l-6-6l-4 4l-2 0l-2-2l-6-2l-1-1l0-6l3-1l6-6l2 0l6-6l2 0l6-6l2 0l4-4l2 0l6-6l2 0l6-6l2 0l6-6l2 0l6-6l2 0l4-4l2 0l6-6l2 0l6-6l2 0l14-12l2 0l4-4l2 0l6-6l2 0l14-12l2 0l1 1l0 2l-2 2l1 1l10 0l2 2l6 0l4 4l2 0l5 5l0 2l2 2l0 6l4 4l-2 2l6 6l0 2l3 3l3 1l0 4l-4 4l0 6l-2 2l0 4l4 4l0 2l-2 2l2 2l0 6l-3 3l-6 2l-1 3l-3 3l-6 0l-3 3l0 2l3 3l4 0l6 6l2-2l7 7l0 6l-2 2l0 6l-1 1l-8 0zM823 846l-6 0l-1-3l-4-4l-2-6l-4-4l0-4l-2-2l0-10l-6-6l0-8l2-2l0-2l-6-6l0-4l-2-2l0-2l6-6l-5-3l-3-5l0-4l2-2l2-6l3-3l6 2l3 5l0 10l-2 2l0 2l3 1l3 3l0 4l2 2l0 6l-4 4l0 2l4 6l0 8l-2 2l0 2l3 1l3 3l0 2l6 6l0 4l2 2l0 14zM759 776l-4 0l-3-3l0-4l2-2l0-4l3-3l6 0l3 5l0 2l-2 2l0 2zM1127 794l-3-5l0-6l1-1l10 0l1 3l-2 2l0 4l-1 1l-4 0zM557 804l-6 0l-3-3l0-8l1-1l6 0l5 3l0 6zM959 819l-2-2l0 2zM969 821l0-2l-2 0l0 2zM953 825l2-2l-4 0l0 2zM1015 827l0-2l-2 0l0 2zM1003 835l-2-2l0 2zM1015 835l0-2l-4 0l0 2zM1028 837l2-2l-3-3l-2 0l-1 3l3 3zM947 852l-1-1l1-1l1 1zM993 862l-5-1l1-11l5 1zM797 861l-2-2l0-2l2 0zM1421 862l-8 0l-1-1l0-4l1-1l8 0l1 1l0 4zM931 861l0-2l-2 2zM1017 864l-8 0l-1-3l7-1l3 3zM1415 874l-6 0l-1-3l1-1l6 0l1 1zM1413 896l-10 0l-1-1l0-4l-2-2l0-12l1-1l14 0l3 3l0 10zM900 897l-3-2l-2 0l0 2zM883 909l2-2l0-2l-4 0l0 2zM961 916l-8 0l-1-1l0-4l1-1l8 0l1 1l0 4zM839 920l-3-1l0-4l1-1l3 1l0 4zM865 921l0-2l-2 0l0 2zM885 939l0-2l-2 0l0 2z"/>
<path fill="#6660b0" d="M921 988l-14 0l-1-1l0-4l-1-1l-4 0l-2-6l-2 2l-6 0l-2 2l-8 0l-6-6l-2 0l-1-1l0-4l-6-6l0-4l-2-2l2-2l0-4l3-1l3-3l-2-6l-5-3l-2 0l-2 2l-10 0l-1-3l4-2l0-2l-10-4l0-2l2-2l0-10l2-2l0-2l-5-5l-2 0l-1-3l3-3l2 2l2 0l2-2l2 0l2 2l2 0l2-2l2 2l12 0l3-3l0-2l6-6l0-2l4-4l-7-4l-5-4l0-2l-2-2l-2-6l-3-3l-3-1l0-2l-4-4l0-2l-4-4l0-6l-8-6l0-4l-8-8l0-2l-2-2l2-2l0-2l-4-2l0-2l4-2l0-2l-4-2l0-2l-2-2l0-4l-5-5l-2 0l-3-3l2-2l0-8l-2-2l0-6l8-12l-2-2l1-1l6 0l6 4l6 2l4 4l2 0l2 2l2-2l2 2l3-3l0-2l-4-6l10-10l0-6l-4-4l0-6l5-3l4 0l2 4l7-5l0-4l2-2l0-6l-2-2l0-2l2-2l0-4l2-2l0-2l6-6l0-4l4-4l0-8l-4-4l0-2l-6-6l4-4l0-2l-4-2l4-4l0-8l-3-1l-3-3l3-1l9-9l0-6l-2-2l0-4l2-2l0-2l5-3l4 0l3-3l0-2l-4-4l2-2l-2-6l5-5l2 0l2-2l6 0l2 2l2 0l4 4l2 0l2-2l4 0l8 8l2 0l6 6l2 0l3 3l-2 2l0 2l7 7l4 0l2 2l6 0l2-2l10 0l2-2l2 0l6 6l2 0l2-2l2 0l6-4l2 0l5-5l0-6l-2-2l0-8l-2-2l0-2l2-2l0-14l-2-2l0-2l2-2l0-2l-2-2l0-2l-4-4l4-4l0-10l10-10l0-4l2-2l0-6l5-3l6 0l3 3l0 4l-2 2l0 4l2 2l0 4l1 1l4 0l2 2l2-2l4 0l2-2l4 0l6-6l4 0l2-2l2 0l2 2l3-3l1-3l1 1l0 6l4 4l0 4l3 3l2 0l1 3l6 6l0 2l-2 2l4 4l0 10l3 3l3 1l0 14l-4 4l0 8l-2 2l0 2l3 3l3 1l0 8l-2 2l0 4l-2 2l0 2l6 6l1 3l2 0l1-3l3-1l3-5l0-10l-2-2l3-3l2 0l2 2l6-2l3 5l0 6l-4 6l0 4l2 2l-2 2l1 1l2-2l2 0l3-3l1-3l2 0l2-2l2 2l4 0l2-6l6 0l1-1l0-8l5-3l2 0l2-2l6 0l4 4l4 0l1 1l0 2l-2 2l4 4l0 4l-2 2l0 4l-4 6l0 4l-4 6l0 4l-8 8l0 2l-7 7l-6 0l-1 3l-3 1l-5 5l0 6l3 5l2 0l2 2l2-2l10 0l3 5l0 4l2 2l0 6l-2 2l0 6l-2 2l0 6l-2 2l0 6l-2 2l0 6l-9 9l-4 0l-1 1l2 2l-4 6l0 6l-3 3l-2 0l-4 4l-2 0l-4 4l-2 0l-3 3l0 2l-4 2l0 4l-2 2l6 6l0 8l-3 1l-3 3l0 4l-3 3l-6 2l-3 3l-1 3l-6 0l-2 2l-2 0l-3 3l0 4l-1 1l-3-3l0-2l-5-5l-4 0l-2-2l-6 0l-1-1l0-2l4-4l0-2l2-2l-1-3l-4 0l-6 6l-4 0l-2-2l-2 0l-4-4l-10 0l-7 9l-4 2l1 1l6 0l2 2l6 2l1 1l0 8l-1 1l-8 0l-4 4l-4 0l-4-4l-3 3l0 2l-3 3l-2 0l-8 0l-3-3l0-4l-1-1l-3 3l-1 3l-6 0l-6 4l-6 0l-2 4l-8 0l-2 2l-3-1l0-2l-6-6l-1-3l-8 0l-1 1l0 2l-2 2l2 2l-2 2l0 4l-4 4l0 4l9 9l2 0l3 3l1 6l2-1l3 1l-5 2l1 2l-3 5l-4 0l-3 3l4 4l0 2l2 2l-3 3l-8 0l-5 5l0 2l2 2l-2 6l2 2l0 6l2 2l0 4l-3 1l-2-2l-2 0l-2 4l-6 0l-3 3l2 2l-2 8l9 3l3-3l1-3l6 0l2 2l4 0l1 1l0 4l-1 1l-6 0l-7 5l0 2l5 5l4 0l1 1l0 4l-3 4l-2 0l-4-5l-2 0l-1 3l-8 6l0 4zM969 584l-6 0l-3-3l0-8l2-2l0-4l3-1l4-4l7 5l0 10zM963 612l-4 0l-5-5l0-2l-2-2l0-6l2-2l0-2l3-3l4 0l2-2l7 7l0 12zM1105 624l-1-3l3-1l1 1zM1425 730l-4 0l-3-3l0-6l3-3l4 0l1 1l0 4l2 2l0 2zM801 732l-4 0l-3-3l0-2l1-1l8 0l1 3zM1389 874l-2 0l-1-3l-3-3l-4 0l-2-2l-2 0l-4-4l-2 0l-1-3l-3-3l-2 0l-2-2l-4 0l-2-2l-4 4l-2 0l-4-4l-2 0l-2 2l-12 0l-2 2l-2 0l-2-2l-6 4l-4 0l-2-2l-6 4l-4 0l-2-2l-6 0l-1-3l-13-13l-2 2l-4-4l-4 0l-6 6l-6 2l-2 2l-2 0l-3 3l2 2l-1 1l-4 0l-6-6l-4 4l-2 0l-2-2l-6-2l-1-1l0-6l3-1l6-6l2 0l6-6l2 0l6-6l2 0l4-4l2 0l6-6l2 0l6-6l2 0l6-6l2 0l6-6l2 0l4-4l2 0l6-6l2 0l6-6l2 0l14-12l2 0l4-4l2 0l6-6l2 0l14-12l2 0l1 1l0 2l-2 2l1 1l10 0l2 2l6 0l4 4l2 0l5 5l0 2l2 2l0 6l4 4l-2 2l6 6l0 2l3 3l3 1l0 4l-4 4l0 6l-2 2l0 4l4 4l0 2l-2 2l2 2l0 6l-3 3l-6 2l-1 3l-3 3l-6 0l-3 3l0 2l3 3l4 0l6 6l2-2l7 7l0 6l-2 2l0 6l-1 1l-8 0zM823 846l-6 0l-1-3l-4-4l-2-6l-4-4l0-4l-2-2l0-10l-6-6l0-8l2-2l0-2l-6-6l0-4l-2-2l0-2l6-6l-5-3l-3-5l0-4l2-2l2-6l3-3l6 2l3 5l0 10l-2 2l0 2l3 1l3 3l0 4l2 2l0 6l-4 4l0 2l4 6l0 8l-2 2l0 2l3 1l3 3l0 2l6 6l0 4l2 2l0 14zM759 776l-4 0l-3-3l0-4l2-2l0-4l3-3l6 0l3 5l0 2l-2 2l0 2zM1127 794l-3-5l0-6l1-1l10 0l1 3l-2 2l0 4l-1 1l-4 0zM557 804l-6 0l-3-3l0-8l1-1l6 0l5 3l0 6zM960 819l-3-3l-1 1l1 3zM970 821l-1-3l-3 1l1 3zM954 825l2-2l-1-1l-5 1l1 3zM1084 823l-1-1l-5 1l1 1zM1016 827l-1-3l-3 1l1 3zM984 837l1-4l-2 0l-2-2l-6 2l2 2l0 2zM1004 835l-3-3l-1 1l1 3zM1016 835l-1-3l-5 1l1 3zM1028 837l2-2l-3-3l-2 0l-1 3l3 3zM947 852l-1-1l1-1l1 1zM993 861l-4 0l0-10l4 0zM1421 862l-8 0l-1-1l0-4l1-1l8 0l1 1l0 4zM932 861l-1-3l-3 3zM1017 863l-8 0l0-2l6 0zM905 867l0-2l-4 0l0 2zM943 873l0-2l-2 0l0 2zM1415 874l-6 0l-1-3l1-1l6 0l1 1zM1413 896l-10 0l-1-1l0-4l-2-2l0-12l1-1l14 0l3 3l0 10zM923 883l0-2l-4 0l0 2zM900 897l-3-3l-3 1l1 3zM937 901l2-2l0-2l-2-2l-4 0l-2 2l0 2l2 2zM884 909l2-4l-5-1l-1 3l3 3zM961 916l-8 0l-1-1l0-4l1-1l8 0l1 1l0 4zM839 920l-3-1l0-4l1-1l3 1l0 4zM866 921l-1-3l-3 1l1 3zM886 939l-1-3l-3 1l1 3zM927 961l2-2l-2-2l-2 0l0 4z"/>
<path fill="#5a71ba" d="M921 988l-14 0l-1-5l-5-1l-2-6l-2 2l-6 0l-2 2l-8 0l-6-6l-2 0l-1-1l0-4l-6-6l0-4l-2-2l2-2l0-4l3-1l3-3l-2-6l-5-3l-2 0l-2 2l-10 0l0-3l3-2l0-2l-10-4l0-2l2-2l0-10l2-2l0-2l-5-5l-2 0l-1-3l3-3l2 2l2 0l2-2l2 0l2 2l2 0l2-2l2 2l12 0l3-3l0-2l6-6l0-2l4-4l-3-1l-9-7l0-2l-2-2l-2-6l-3-3l-3-1l-4-8l-4-4l0-6l-8-6l0-4l-8-8l0-2l-2-2l2-2l0-2l-4-2l0-2l4-2l0-2l-4-2l0-2l-2-2l0-4l-5-5l-2 0l-3-3l2-2l0-8l-2-2l0-6l8-12l-2-2l1-1l6 0l6 4l6 2l4 4l2 0l2 2l2-2l2 2l3-3l0-2l-4-6l10-10l0-6l-4-4l0-6l5-3l4 0l2 4l7-5l0-4l2-2l0-6l-2-2l0-2l2-2l0-4l2-2l0-2l6-6l0-4l4-4l0-8l-4-4l0-2l-6-6l4-4l0-2l-4-2l4-4l0-8l-3-1l-3-3l3-1l9-9l0-6l-2-2l0-4l2-2l0-2l5-3l4 0l3-3l0-2l-4-4l2-2l-2-6l5-5l2 0l2-2l6 0l2 2l2 0l4 4l2 0l2-2l4 0l8 8l2 0l6 6l2 0l3 3l-2 2l0 2l7 7l4 0l2 2l6 0l2-2l10 0l2-2l2 0l6 6l2 0l2-2l2 0l6-4l2 0l5-5l0-6l-2-2l0-8l-2-2l0-2l2-2l0-14l-2-2l0-2l2-2l0-2l-2-2l0-2l-4-4l4-4l0-10l10-10l0-4l2-2l0-6l5-3l6 0l3 3l0 4l-2 2l0 4l2 2l0 4l1 1l4 0l2 2l2-2l4 0l2-2l4 0l6-6l4 0l2-2l2 0l2 2l3-3l1-3l1 1l0 6l4 4l0 4l3 3l2 0l1 3l6 6l0 2l-2 2l4 4l0 10l3 3l3 1l0 14l-4 4l0 8l-2 2l0 2l3 3l3 1l0 8l-2 2l0 4l-2 2l0 2l6 6l1 3l2 0l1-3l3-1l3-5l0-10l-2-2l3-3l2 0l2 2l6-2l3 5l0 6l-4 6l0 4l2 2l-2 2l1 1l2-2l2 0l3-3l1-3l2 0l2-2l2 2l4 0l2-6l6 0l1-1l0-8l5-3l2 0l2-2l6 0l4 4l4 0l1 1l0 2l-2 2l4 4l0 4l-2 2l0 4l-4 6l0 4l-4 6l0 4l-8 8l0 2l-7 7l-6 0l-1 3l-3 1l-5 5l0 6l3 5l2 0l2 2l2-2l10 0l3 5l0 4l2 2l0 6l-2 2l0 6l-2 2l0 6l-2 2l0 6l-2 2l0 6l-9 9l-4 0l-1 1l2 2l-4 6l0 6l-3 3l-2 0l-4 4l-2 0l-4 4l-2 0l-3 3l0 2l-4 2l0 4l-2 2l6 6l0 8l-3 1l-3 3l0 4l-3 3l-6 2l-3 3l-1 3l-6 0l-2 2l-2 0l-3 3l0 4l-1 1l-3-3l0-2l-5-5l-4 0l-2-2l-6 0l-1-1l0-2l4-4l0-2l2-2l-1-3l-4 0l-6 6l-4 0l-2-2l-2 0l-4-4l-10 0l-7 9l-4 2l1 1l6 1l8 3l1 1l0 8l-9 1l-4 4l-4 0l-4-4l-6 7l-8 1l-5-3l0-4l-1-1l-4 6l-6 0l-6 4l-6 0l-2 3l-8 1l-2 2l-3-1l0-2l-6-6l-1-3l-8 0l-1 1l0 2l-2 2l2 2l-2 2l0 4l-4 4l0 4l9 9l2 0l3 3l-1 8l2 0l1 2l-3 4l-4 1l-3 3l4 4l0 2l2 2l-3 3l-8 0l-5 5l0 2l2 2l-2 6l2 2l0 6l2 2l0 4l-3 1l-2-2l-2 0l-2 4l-6 0l-3 3l2 2l-2 8l9 3l3-3l1-3l6 0l2 2l4 0l1 1l0 4l-1 1l-6 0l-7 5l0 2l5 5l4 0l1 1l0 4l-3 4l-2 0l-4-5l-2 0l-1 3l-8 6l0 4zM969 584l-6 0l-3-3l0-8l2-2l0-4l3-1l4-4l7 5l0 10zM963 612l-4 0l-5-5l0-2l-2-2l0-6l2-2l0-2l3-3l4 0l2-2l7 7l0 12zM1105 624l-1-3l3-1l1 1zM1425 730l-4 0l-3-3l0-6l3-3l4 0l1 1l0 4l2 2l0 2zM801 732l-4 0l-3-3l0-2l1-1l8 0l1 3zM1389 874l-2 0l-1-3l-3-3l-4 0l-2-2l-2 0l-4-4l-2 0l-1-3l-3-3l-2 0l-2-2l-4 0l-2-2l-4 4l-2 0l-4-4l-2 0l-2 2l-12 0l-2 2l-2 0l-2-2l-6 4l-4 0l-2-2l-6 4l-4 0l-2-2l-6 0l-1-3l-13-13l-2 2l-4-4l-4 0l-6 6l-6 2l-2 2l-2 0l-3 3l2 2l-1 1l-4 0l-6-6l-4 4l-2 0l-2-2l-6-2l-1-1l0-6l3-1l6-6l2 0l6-6l2 0l6-6l2 0l4-4l2 0l6-6l2 0l6-6l2 0l6-6l2 0l6-6l2 0l4-4l2 0l6-6l2 0l6-6l2 0l14-12l2 0l4-4l2 0l6-6l2 0l14-12l2 0l1 1l0 2l-2 2l1 1l10 0l2 2l6 0l4 4l2 0l5 5l0 2l2 2l0 6l4 4l-2 2l6 6l0 2l3 3l3 1l0 4l-4 4l0 6l-2 2l0 4l4 4l0 2l-2 2l2 2l0 6l-3 3l-6 2l-1 3l-3 3l-6 0l-3 3l0 2l3 3l4 0l6 6l2-2l7 7l0 6l-2 2l0 6l-1 1l-8 0zM823 846l-6 0l-1-3l-4-4l-2-6l-4-4l0-4l-2-2l0-10l-6-6l0-8l2-2l0-2l-6-6l0-4l-2-2l0-2l6-6l-5-3l-3-5l0-4l2-2l2-6l3-3l6 2l3 5l0 10l-2 2l0 2l3 1l3 3l0 4l2 2l0 6l-4 4l0 2l4 6l0 8l-2 2l0 2l3 1l3 3l0 2l6 6l0 4l2 2l0 14zM759 776l-4 0l-3-3l0-4l2-2l0-4l3-3l6 0l3 5l0 2l-2 2l0 2zM1127 794l-1-3l-2-2l0-6l1-1l10 0l1 3l-2 2l0 4l-1 1l-4 0zM557 804l-6 0l-3-3l0-8l1-1l6 0l5 3l0 6zM1007 811l2-2l-4 0zM960 819l-3-3l-1 1l1 3zM970 821l-1-3l-3 1l1 3zM954 825l2-2l-1-1l-4 0l-1 1l1 3zM1084 823l-1-1l-4 0l-1 1l1 1l4 0zM1016 827l-1-3l-3 1l1 3zM987 839l-1-6l-3-1l-2-2l-2 0l-2 2l-3 1l2 2l1 3l6 0l2 1zM1004 835l-3-3l-1 1l1 3zM1016 835l-1-3l-4 0l-1 1l1 3l4 0zM1028 837l2-2l-3-3l-2 0l-1 3l3 3zM947 852l-1-1l1-1l1 1zM991 855l-1-2l1-1l1 1zM991 860l-1-1l1-3l1 3zM1421 862l-8 0l-1-1l0-4l1-1l8 0l1 3zM932 861l-1-3l-3 3l1 1zM906 867l-1-3l-5 1l1 3zM944 873l-1-3l-3 1l1 3zM1415 874l-6 0l-1-3l1-1l6 0l1 1zM1413 896l-10 0l-1-1l0-4l-2-2l0-12l1-1l14 0l3 3l0 10zM924 883l-1-3l-5 1l1 3zM959 881l-2 1l-2-1l2-1zM935 889l0-2l-2 0l0 2zM905 899l0-2l-4 0l-4-3l-3 1l1 3zM938 901l2-2l0-2l-3-3l-4 0l-3 3l0 2l3 3zM884 897l-1-1l-3 1l1 1zM887 913l2-2l-3-4l0-2l-1-1l-4 0l-1 3l2 2l1 4zM915 913l0-2l-4 0l0 2zM961 916l-8 0l-1-1l0-4l1-1l8 0l1 1l0 4zM839 920l-3-1l0-4l1-1l3 1l0 4zM866 921l-1-3l-3 1l1 3zM886 939l-1-3l-3 1l1 3zM928 961l2-2l-3-3l-2 0l-1 5z"/>
<path fill="#4680c0" d="M921 988l-8 0l-2-1l-4 0l-1-4l-5-2l-2-5l-2 2l-6 0l-2 2l-8 0l-6-6l-3-1l0-4l-4-4l-2-6l-2-2l2-2l0-4l3-1l3-3l-2-6l-5-3l-2 0l-2 2l-10-1l0-2l3-2l0-2l-7-4l-2 0l-1-2l2-2l0-10l2-2l0-2l-5-5l-2 0l-1-3l3-3l2 2l2 0l2-2l2 0l2 2l2 0l2-2l2 2l12 0l3-3l0-2l6-6l0-2l4-4l-3-1l-9-7l0-2l-2-2l-2-6l-5-4l-2-6l-2 0l-5-6l0-6l-8-6l0-4l-8-8l0-2l-2-2l2-2l0-2l-3-2l0-2l3-2l0-2l-4-2l0-2l-2-2l0-4l-5-5l-2 0l-3-3l2-2l0-8l-2-2l0-6l8-12l-2-2l1-1l6 0l6 4l6 2l4 4l2 0l2 2l2-2l2 2l3-3l0-2l-4-6l10-10l0-6l-4-4l0-6l5-3l4 0l2 4l7-5l0-4l2-2l0-6l-2-2l0-2l2-2l0-4l2-2l0-2l6-6l0-4l4-4l0-8l-4-4l0-2l-6-6l4-4l0-2l-4-2l4-4l0-8l-3-1l-3-3l3-1l9-9l0-6l-2-2l0-4l2-2l0-2l5-3l4 0l3-3l0-2l-4-4l2-2l-2-6l5-5l2 0l2-2l6 0l2 2l2 0l4 4l2 0l2-2l4 0l8 8l2 0l6 6l2 0l3 3l-2 2l0 2l7 7l4 0l2 2l6 0l2-2l10 0l2-2l2 0l6 6l2 0l2-2l2 0l6-4l2 0l5-5l0-6l-2-2l0-8l-2-2l0-2l2-2l0-14l-2-2l0-2l2-2l0-2l-2-2l0-2l-4-4l4-4l0-10l10-10l0-4l2-2l0-6l5-3l6 0l3 3l0 4l-2 2l0 4l2 2l0 4l1 1l4 0l2 2l2-2l4 0l2-2l4 0l6-6l4 0l2-2l2 0l2 2l3-3l1-3l1 1l0 6l4 4l0 4l3 3l2 0l1 3l6 6l0 2l-2 2l4 4l0 10l3 3l3 1l0 14l-4 4l0 8l-2 2l0 2l3 3l3 1l0 8l-2 2l0 4l-2 2l0 2l6 6l1 3l2 0l1-1l0-2l3-1l3-5l0-10l-2-2l3-3l2 0l2 2l6-2l3 5l0 6l-4 6l0 4l2 2l-2 2l1 1l2-2l2 0l3-3l1-3l2 0l2-2l2 2l4 0l2-6l6 0l1-1l0-8l5-3l2 0l2-2l6 0l4 4l4 0l1 1l0 2l-2 2l4 4l0 4l-2 2l0 4l-4 6l0 4l-4 6l0 4l-8 8l0 2l-7 7l-6 0l-1 3l-3 1l-5 5l0 6l3 5l2 0l2 2l2-2l10 0l3 5l0 4l2 2l0 6l-2 2l0 6l-2 2l0 6l-2 2l0 6l-2 2l0 6l-9 9l-4 0l-1 1l2 2l-4 6l0 6l-3 3l-2 0l-4 4l-2 0l-4 4l-2 0l-3 3l0 2l-4 2l0 4l-2 2l6 6l0 8l-3 1l-3 3l0 4l-3 3l-2 0l-2 2l-2 0l-4 5l-6 1l-2 2l-2 0l-3 3l-1 5l-8-10l-13-3l0-2l4-4l0-2l2-2l-1-3l-4 0l-6 6l-4 0l-2-2l-2 0l-4-4l-10 0l-7 9l-4 2l15 5l1 1l-1 8l-2 1l-6 0l-4 4l-4 0l-6-5l-2-5l-4 0l-1 1l1 3l6 1l-2 6l-4 3l-8-1l-2-2l-2-5l-4 5l-2 1l-4 0l-6 4l-6 0l-4 4l-6 0l-2 2l-3-1l0-2l-6-6l-1-3l-8 0l-1 1l0 2l-2 2l2 2l-2 2l0 4l-4 4l0 4l9 9l2 0l3 3l0 4l-2 2l0 2l3 1l1 1l-4 4l-3 1l-3 3l4 4l1 4l-1 2l-9 1l-5 5l0 2l2 2l-2 2l0 4l1 2l1 6l2 2l0 4l-3 1l-2-2l-2 0l-2 4l-6 0l-3 3l1 2l-1 8l9 3l3-3l1-3l6 0l2 2l4 0l1 1l0 4l-7 1l-7 5l0 2l5 5l5 1l0 4l-3 3l-2 0l-4-4l-2 0l-3 5l-3 1l-3 3l0 4zM969 584l-6 0l-3-3l0-8l2-2l0-4l3-1l4-4l7 5l0 10zM963 612l-4 0l-5-5l0-2l-2-2l0-6l2-2l0-2l3-3l4 0l2-2l7 7l0 12zM1105 624l-1-3l3-1l1 1zM1425 730l-4 0l-3-3l0-6l3-3l4 0l1 1l0 4l2 2l0 2zM801 732l-4 0l-3-3l0-2l1-1l8 0l1 3zM1389 874l-2 0l-1-3l-3-3l-4 0l-2-2l-2 0l-4-4l-2 0l-1-3l-3-3l-2 0l-2-2l-4 0l-2-2l-4 4l-2 0l-4-4l-2 0l-2 2l-12 0l-2 2l-2 0l-2-2l-6 4l-4 0l-2-2l-6 4l-4 0l-2-2l-6 0l-1-3l-13-13l-2 2l-4-4l-4 0l-6 6l-6 2l-2 2l-2 0l-3 3l2 2l-1 1l-4 0l-6-6l-4 4l-2 0l-2-2l-6-2l-1-1l0-6l3-1l6-6l2 0l6-6l2 0l6-6l2 0l4-4l2 0l6-6l2 0l6-6l2 0l6-6l2 0l6-6l2 0l4-4l2 0l6-6l2 0l6-6l2 0l14-12l2 0l4-4l2 0l6-6l2 0l14-12l2 0l1 1l0 2l-2 2l1 1l10 0l2 2l6 0l4 4l2 0l5 5l0 2l2 2l0 6l4 4l-2 2l6 6l0 2l3 3l3 1l0 4l-4 4l0 6l-2 2l0 4l4 4l0 2l-2 2l2 2l0 6l-3 3l-6 2l-1 3l-3 3l-6 0l-3 3l0 2l3 3l4 0l6 6l2-2l7 7l0 6l-2 2l0 6l-1 1l-8 0zM823 846l-6 0l-1-3l-4-4l-2-6l-4-4l0-4l-2-2l0-10l-6-6l0-8l2-2l0-2l-6-6l0-4l-2-2l0-2l6-6l-5-3l-3-5l0-4l2-2l2-6l3-3l6 2l3 5l0 10l-2 2l0 2l3 1l3 3l0 4l2 2l0 6l-4 4l0 2l4 6l0 8l-2 2l0 2l3 1l3 3l0 2l6 6l0 4l2 2l0 14zM759 776l-4 0l-3-3l0-4l2-2l0-4l3-3l6 0l3 5l0 2l-2 2l0 2zM1127 793l-1-2l-2-2l0-6l1-1l10 0l1 3l-2 2l0 4l-5 1zM557 804l-6 0l-3-3l0-8l1-1l6 0l5 3l0 6zM1008 811l2-2l-1-1l-5 1l3 3zM960 819l-3-3l-1 1l1 3zM970 821l-1-3l-3 1l1 3zM954 825l2-2l-1-1l-4 0l-1 1l1 3zM1084 823l-1-1l-4 0l-1 1l1 1l4 0zM1016 827l-1-3l-3 1l1 3zM988 839l-2-6l-3-1l-2-2l-2 0l-2 2l-3 1l2 2l1 3l6 0l2 2zM1004 835l-3-3l-1 1l1 3zM1028 837l2-2l-3-3l-2 0l-1 3l3 3zM969 837l0-2l-2 0l0 2zM993 837l0-2l-2 0l0 2zM947 852l-1-1l1-1l1 1zM1421 862l-8 0l-1-1l0-4l1-1l8 0l1 5zM932 861l-1-3l-3 3l1 1zM927 865l-2-2l-2 0l0 2zM906 867l-1-3l-4 0l-1 1l1 3l4 0zM944 873l-1-3l-3 1l1 3zM1415 874l-6 0l-1-3l1-1l6 0l1 1zM1413 896l-10 0l-1-1l0-4l-2-2l0-12l1-1l14 0l3 3l0 10zM924 883l-1-3l-4 0l-1 1l1 3l4 0zM957 882l-1-1l1-1l2 1zM936 889l-1-3l-3 1l1 3zM905 893l-2-2l-2 0l0 2zM906 899l-1-3l-6 0l-2-2l-3 1l1 3l4 0l2 2zM938 901l2-2l0-2l-3-3l-4 0l-3 3l0 2l3 3l4 0zM884 897l-1-1l-3 1l1 1zM888 913l2-2l-4-4l0-2l-1-1l-4 0l-1 3l2 2l0 4zM916 913l-1-3l-5 1l1 3zM961 916l-8 0l-1-1l0-4l1-1l8 0l1 1l0 4zM899 915l0-2l-4 0l0 2zM839 920l-3-1l0-4l1-1l3 1l0 4zM866 921l-1-4l-3 2l1 3zM924 923l-1-2l-4 0l0 2zM931 927l0-2l-4 0l0 2zM921 931l0-2l-2 0l-2 2zM899 933l0-2l-4 0l0 2zM886 939l-1-3l-3 1l1 3zM928 961l2-2l-3-3l-2 0l-1 1l0 4l1 1zM904 965l-1-1l-3 1l1 1z"/>
<path fill="#3f8ebd" d="M921 988l-8 0l-2-2l-4 1l-1-4l-5-2l-2-5l-2 2l-6 0l-2 2l-8 0l-6-6l-2-1l-1-4l-4-4l-2-6l-2-2l2-2l0-4l6-4l-2-6l-5-3l-2 0l-2 2l-8 0l-2-1l1-2l2-2l0-2l-7-5l-2 0l-1-1l2-2l0-8l2-6l-5-5l-3-1l0-2l2-2l1-1l2 2l2 0l2-2l2 0l2 2l2 0l2-2l2 2l12 0l3-3l0-2l6-6l0-2l4-4l-12-8l-2-6l-2-2l0-2l-5-4l-1-6l-3-1l-5-5l0-6l-8-6l0-4l-8-8l0-2l-2-2l2-2l0-2l-3-2l0-2l3-2l0-2l-4-2l0-2l-2-2l0-4l-10-8l2-2l0-8l-2-2l0-6l8-12l-2-2l1-1l6 0l2 2l2 0l2 2l6 2l4 4l2 0l2 2l2-2l2 2l3-3l0-2l-4-6l10-10l0-6l-4-4l0-6l5-3l4 0l2 4l7-5l0-4l2-2l0-6l-2-2l0-2l2-2l0-4l2-2l0-2l6-6l0-4l4-4l0-8l-4-4l0-2l-6-6l4-4l0-2l-4-2l4-4l0-8l-3-1l-3-3l3-1l9-9l0-6l-2-2l0-4l2-2l0-2l5-3l4 0l3-3l0-2l-4-4l2-2l-2-6l5-5l2 0l2-2l6 0l2 2l2 0l4 4l2 0l2-2l4 0l8 8l2 0l6 6l2 0l3 3l-2 2l0 2l7 7l4 0l2 2l6 0l2-2l10 0l2-2l2 0l6 6l2 0l2-2l2 0l6-4l2 0l5-5l0-6l-2-2l0-8l-2-2l0-2l2-2l0-14l-2-2l0-2l2-2l0-2l-2-2l0-2l-4-4l4-4l0-10l10-10l0-4l2-2l0-6l5-3l6 0l3 3l0 4l-2 2l0 4l2 2l0 4l1 1l4 0l2 2l2-2l4 0l2-2l4 0l6-6l4 0l2-2l2 0l2 2l3-3l1-3l1 1l0 6l4 4l0 4l3 3l2 0l1 3l6 6l0 2l-2 2l4 4l0 10l3 3l3 1l0 14l-4 4l0 8l-2 2l0 2l3 3l3 1l0 8l-2 2l0 4l-2 2l0 2l6 6l1 3l2 0l1-1l0-2l3-1l3-5l0-10l-2-2l3-3l2 0l2 2l6-2l3 5l0 6l-4 6l0 4l2 2l-2 2l1 1l2-2l2 0l3-3l1-3l2 0l2-2l2 2l4 0l2-6l6 0l1-1l0-8l5-3l2 0l2-2l6 0l4 4l4 0l1 1l0 2l-2 2l4 4l0 4l-2 2l0 4l-4 6l0 4l-4 6l0 4l-8 8l0 2l-7 7l-6 0l-1 3l-3 1l-5 5l0 6l3 5l2 0l2 2l2-2l10 0l3 5l0 4l2 2l0 6l-2 2l0 6l-2 2l0 6l-2 2l0 6l-2 2l0 6l-9 9l-4 0l-1 1l2 2l-4 6l0 6l-3 3l-2 0l-4 4l-2 0l-4 4l-2 0l-3 3l0 2l-4 2l0 4l-2 2l6 6l0 8l-3 1l-3 3l-1 4l-2 2l-4 3l-2 0l-4 5l-2-1l-2 2l-2 0l-2 2l-2 0l-3 3l-1 4l-3-2l0-2l-5-5l-6-2l-7-1l0-2l4-4l0-2l2-2l-1-3l-4 0l-6 6l-4 0l-2-2l-2 0l-4-4l-10 0l-7 7l0 2l-4 2l15 5l1 3l0 4l-1 2l-2 1l-6 0l-2 1l-2 3l-4 0l-6-6l-2-4l-4 0l-1 1l1 3l4 0l1 1l-1 6l-4 2l-6 1l-2-1l-2-2l-2-5l-6 6l-4 0l-6 4l-6 0l-4 4l-6 0l-2 2l-3-1l0-2l-6-6l-1-3l-8 0l-1 1l0 2l-2 2l2 2l-2 2l-1 4l-3 4l0 4l8 8l3 1l3 3l0 4l-2 2l0 2l4 2l-10 8l4 4l1 4l-2 2l-2 1l-6 0l-5 5l0 2l2 2l-2 2l0 4l2 6l-1 2l3 2l0 4l-3 1l-2-2l-2 0l-2 4l-6 0l-3 3l1 2l-1 4l0 4l1 1l4 0l2 2l3-1l3-4l6-1l2 2l4 0l1 1l-1 4l-6 1l-7 5l0 2l5 5l4 1l1 4l-3 3l-2 0l-4-4l-2 0l-3 5l-3 1l-3 3zM969 584l-6 0l-3-3l0-8l2-2l0-4l3-1l4-4l7 5l0 10zM963 612l-4 0l-5-5l0-2l-2-2l0-6l2-2l0-2l3-3l4 0l2-2l7 7l0 12zM1105 624l-1-3l3-1l1 1zM1425 730l-4 0l-3-3l0-6l3-3l4 0l1 1l0 4l2 2l0 2zM801 732l-4 0l-3-3l0-2l1-1l8 0l1 3zM1389 874l-2 0l-1-3l-3-3l-4 0l-2-2l-2 0l-4-4l-2 0l-1-3l-3-3l-2 0l-2-2l-4 0l-2-2l-4 4l-2 0l-4-4l-2 0l-2 2l-12 0l-2 2l-2 0l-2-2l-6 4l-4 0l-2-2l-6 4l-4 0l-2-2l-6 0l-1-3l-13-13l-2 2l-4-4l-4 0l-6 6l-6 2l-2 2l-2 0l-3 3l2 2l-1 1l-4 0l-6-6l-4 4l-2 0l-2-2l-6-2l-1-1l0-6l3-1l6-6l2 0l6-6l2 0l6-6l2 0l4-4l2 0l6-6l2 0l6-6l2 0l6-6l2 0l6-6l2 0l4-4l2 0l6-6l2 0l6-6l2 0l14-12l2 0l4-4l2 0l6-6l2 0l14-12l2 0l1 1l0 2l-2 2l1 1l10 0l2 2l6 0l4 4l2 0l5 5l0 2l2 2l0 6l4 4l-2 2l6 6l0 2l3 3l3 1l0 4l-4 4l0 6l-2 2l0 4l4 4l0 2l-2 2l2 2l0 6l-3 3l-6 2l-1 3l-3 3l-6 0l-3 3l0 2l3 3l4 0l6 6l2-2l7 7l0 6l-2 2l0 6l-1 1l-8 0zM823 846l-6 0l-1-3l-4-4l-2-6l-4-4l0-4l-2-2l0-10l-6-6l0-8l2-2l0-2l-6-6l0-4l-2-2l0-2l6-6l-5-3l-3-5l0-4l2-2l2-6l3-3l6 2l3 5l0 10l-2 2l0 2l3 1l3 3l0 4l2 2l0 6l-4 4l0 2l4 6l0 8l-2 2l0 2l3 1l3 3l0 2l6 6l0 4l2 2l0 14zM889 761l2-2l0-2l-2 0l-2-2l-2 2l-6 0l-2 2l2 2zM759 776l-4 0l-3-3l0-4l2-2l0-4l3-3l6 0l3 5l0 2l-2 2l0 2zM1133 791l-6 0l-2-2l0-7l11 1l0 2l-3 2zM557 804l-6 0l-3-3l0-8l1-1l6 0l5 3l0 6zM1052 807l-1-1l-3 1l1 1zM1008 811l2-2l-1-1l-5 1l3 3zM951 815l-2-2l0 2zM960 819l-3-3l-1 1l1 3zM970 821l-1-3l-3 1l1 3zM954 825l2-2l-1-1l-4 0l-1 1l1 3zM1084 823l-1-1l-4 0l-1 1l1 1l4 0zM1016 827l-1-3l-3 1l1 3zM988 839l-2-6l-5-3l-2 0l-5 3l3 5l6 0l2 2zM1004 835l-3-3l-1 1l1 3zM1028 837l2-2l-3-3l-2 0l-1 3l3 3zM939 837l0-2l-4 0l0 2zM970 837l-1-3l-3 1l1 3zM994 837l-1-3l-3 1l1 3zM1421 862l-3-1l-1-2l-1 2l-3 1l-1-5l9 0zM932 861l-1-3l-3 3l1 1zM928 865l-3-3l-3 1l1 3zM906 867l-1-3l-4 0l-1 1l1 3l4 0zM944 873l0-2l-1-1l-3 1l1 3zM1415 874l-6 0l-1-3l1-1l6 0l1 1zM1413 896l-10 0l-1-1l0-4l-2-2l0-12l1-1l14 0l3 3l0 10zM924 883l-1-3l-4 0l-1 1l1 3l4 0zM930 881l-1-1l-3 1l1 1zM957 882l-1-1l1-1l1 1zM936 889l-1-3l-3 1l1 3zM906 893l-3-3l-3 1l1 3zM906 899l-1-3l-6 0l-2-2l-3 1l1 3l4 0l2 2zM938 901l2-2l0-2l-3-3l-4 0l-3 3l0 2l3 3l4 0zM884 897l-1-1l-3 1l1 1zM888 913l2-2l-4-4l0-2l-1-1l-4 0l-1 3l2 2l0 4l1 1l4 0zM857 909l2-2l-2 0zM866 921l-1-4l2-2l0-4l-2 0l-2 2l2 2l0 2l-3 2l1 3zM916 913l-1-3l-4 0l-1 1l1 3l4 0zM961 916l-8 0l-1-5l9-1zM900 915l-1-3l-5 1l1 3zM839 920l-3-1l1-5l3 1zM924 923l-1-3l-5 1l1 3zM932 927l1-2l-6-2l-1 2l1 3l4 0zM861 929l0-2l-4 0l0 2zM922 931l-1-3l-2 0l-3 3zM887 933l2-2l-2 0zM900 933l-1-3l-5 1l1 3zM877 937l0-2l-2 0l0 2zM886 939l-1-3l-3 1l1 3zM928 961l2-2l-3-3l-2 0l-1 1l0 4l1 1zM904 965l-1-1l-3 1l1 1z"/>
<path fill="#449db0" d="M921 988l-8-1l-2-1l-4 0l-1-3l-4-2l-3-5l-2 2l-16 2l-8-7l-1-4l-4-4l-2-6l-2-2l2-2l1-4l5-4l-2-6l-5-3l-4 1l-2 0l-2 1l-4 0l-1-1l3-4l0-2l-4-3l-7-3l2-2l0-8l2-6l-7-6l-1-2l2-2l1-1l2 2l2 0l2-2l2 0l2 2l2 0l2-2l2 2l6 1l6-1l3-3l0-2l6-6l0-2l4-4l-3-1l-4-5l-5-2l-2-4l0-2l-2-2l0-2l-5-6l-1-4l-3-1l-4-5l-1-6l-8-6l0-4l-8-8l0-2l-2-2l2-2l0-2l-2-4l2-2l0-2l-4-2l0-2l-2-2l0-4l-9-8l1-2l0-4l0-4l-2-2l0-6l8-12l-2-2l1-1l6 0l2 2l2 0l2 2l2 0l2 2l2 0l4 5l2-1l2 2l2-2l2 2l3-3l0-2l-4-6l10-10l0-6l-4-4l0-6l5-3l4 0l2 4l7-5l0-4l2-2l0-6l-2-2l0-2l2-2l0-4l2-2l0-2l6-6l0-4l4-4l0-8l-4-4l0-2l-6-6l4-4l0-2l-4-2l4-4l0-8l-3-1l-3-3l3-1l9-9l0-6l-2-2l0-4l2-2l0-2l5-3l4 0l3-3l0-2l-4-4l2-2l-2-6l5-5l2 0l2-2l6 0l2 2l2 0l4 4l2 0l2-2l4 0l8 8l2 0l6 6l2 0l3 3l-2 2l0 2l7 7l4 0l2 2l6 0l2-2l10 0l2-2l2 0l6 6l2 0l2-2l2 0l6-4l2 0l5-5l0-6l-2-2l0-8l-2-2l0-2l2-2l0-14l-2-2l0-2l2-2l0-2l-2-2l0-2l-4-4l4-4l0-10l10-10l0-4l2-2l0-6l5-3l6 0l3 3l0 4l-2 2l0 4l2 2l0 4l1 1l4 0l2 2l2-2l4 0l2-2l4 0l6-6l4 0l2-2l2 0l2 2l3-3l1-3l1 1l0 6l4 4l0 4l3 3l2 0l1 3l6 6l0 2l-2 2l4 4l0 10l3 3l3 1l0 14l-4 4l0 8l-2 2l0 2l3 3l3 1l0 8l-2 2l0 4l-2 2l0 2l6 6l0 2l3 2l0 2l6 0l0-2l-2-2l-2 0l-1-2l3-1l3-5l0-10l-2-2l3-3l2 0l2 2l6-2l3 5l0 6l-4 6l0 4l2 2l-2 2l1 1l2-2l2 0l3-3l1-3l2 0l2-2l2 2l4 0l2-6l6 0l1-1l0-8l5-3l2 0l2-2l6 0l4 4l4 0l1 1l0 2l-2 2l4 4l0 4l-2 2l0 4l-4 6l0 4l-4 6l0 4l-8 8l0 2l-7 7l-6 0l-1 3l-3 1l-5 5l0 6l3 5l2 0l2 2l2-2l10 0l3 5l0 4l2 2l0 6l-2 2l0 6l-2 2l0 6l-2 2l0 6l-2 2l0 6l-9 9l-4 0l-1 1l2 2l-4 6l0 6l-3 3l-2 0l-4 4l-2 0l-4 4l-2 0l-3 3l0 2l-4 2l0 4l-2 2l5 6l0 8l-5 4l0 2l-3 4l-4 3l-2-1l-4 5l-2 0l-2 2l-6 2l-3 3l-1 4l-3-2l0-2l-5-5l-6-3l-6 0l-1-2l4-4l0-2l2-2l-1-3l-4 0l-6 6l-4 0l-2-2l-2 0l-4-4l-10 0l-7 7l-1 2l-3 2l15 6l1 2l-1 4l-2 3l-8 1l-1-2l2-2l-3-3l-2 0l-1 3l5 4l-2 3l-4 0l-7-7l-1-3l-4 0l-1 1l1 3l4 0l1 1l-2 6l-3 2l-6 0l-2-1l-3-3l-1-3l-6 5l-4 1l-6 4l-6 0l-4 3l-6 1l-2 2l-2-1l-8-11l-8-1l-2 2l-1 4l2 2l-6 10l0 4l7 8l4 1l3 3l-1 2l1 2l-2 2l0 2l3 2l-9 8l4 4l0 4l-1 2l-2 1l-6 0l-5 5l1 4l-3 4l2 4l-1 2l2 2l-2 2l4 2l1 4l-3 1l-2-2l-2 0l-2 4l-6 0l-3 3l-1 6l2 5l4 0l2 2l4-1l4-4l4-1l2 2l4 0l1 1l-1 3l-10 4l-3 3l0 2l5 5l4 1l0 4l-2 2l-2 0l-4-3l-2 0l-3 5l-3 1l-3 3zM969 584l-6 0l-3-3l0-8l2-2l0-4l3-1l4-4l7 5l0 10zM963 612l-4 0l-5-5l0-2l-2-2l0-6l2-2l0-2l3-3l4 0l2-2l7 7l0 12zM1105 624l-1-3l3-1l1 1zM1131 673l2-2l-2-2l-2 0l-2 2l0 2zM1425 730l-4 0l-3-3l0-6l3-3l4 0l1 1l0 4l2 2l0 2zM801 732l-4 0l-3-3l0-2l1-1l8 0l1 3zM1389 874l-2 0l-1-3l-3-3l-4 0l-2-2l-2 0l-4-4l-2 0l-1-3l-3-3l-2 0l-2-2l-4 0l-2-2l-4 4l-2 0l-4-4l-2 0l-2 2l-12 0l-2 2l-2 0l-2-2l-6 4l-4 0l-2-2l-6 4l-4 0l-2-2l-6 0l-1-3l-13-13l-2 2l-4-4l-4 0l-6 6l-2 0l-6 4l-2 0l-3 3l2 2l-1 1l-4 0l-6-6l-4 4l-2 0l-2-2l-6-2l-1-1l0-6l3-1l6-6l2 0l6-6l2 0l6-6l2 0l4-4l2 0l6-6l2 0l6-6l2 0l6-6l2 0l6-6l2 0l4-4l2 0l6-6l2 0l6-6l2 0l14-12l2 0l4-4l2 0l6-6l2 0l14-12l2 0l1 1l0 2l-2 2l1 1l10 0l2 2l6 0l4 4l2 0l2 2l5 7l0 6l4 4l-2 2l6 6l0 2l3 3l3 1l0 4l-4 4l0 6l-2 2l0 4l4 4l0 2l-2 2l2 2l0 6l-3 3l-6 2l-1 3l-3 3l-6 0l-3 3l0 2l3 3l4 0l6 6l2-2l7 7l0 6l-2 2l0 6l-1 1l-8 0zM823 846l-6 0l-1-3l-4-4l-2-6l-4-4l0-4l-2-2l0-10l-6-6l0-8l2-2l0-2l-6-6l0-4l-2-2l0-2l6-6l-5-3l-3-5l0-4l2-2l2-6l3-3l6 2l3 5l0 10l-2 2l0 2l3 1l3 3l0 4l2 2l0 6l-4 4l0 2l4 6l0 8l-2 2l0 2l3 1l3 3l0 2l6 6l0 4l2 2l0 14zM890 761l2-2l0-2l-3-1l-2-2l-2 2l-6 0l-3 3l3 3zM759 776l-4 0l-3-3l0-4l2-2l0-4l3-3l6 0l3 5l0 2l-2 2l0 2zM1129 789l-4-1l0-5l10 0l0 2zM557 804l-6 0l-3-3l0-8l1-1l6 0l5 3l0 6zM1001 807l2-2l-2-2l-2 0l-2 2l0 2zM1052 807l-1-1l-3 1l1 1zM1008 811l2-2l-1-1l-4 0l-1 1l3 3zM952 815l-3-3l-1 1l1 3zM960 819l-3-3l-1 1l1 3zM970 821l-1-3l-3 1l1 3zM954 825l2-2l-1-1l-4 0l-1 1l1 3zM1084 823l-1-1l-4 0l-1 1l1 1l4 0zM1016 827l-1-3l-3 1l1 3zM988 839l-2-6l-5-3l-2 0l-5 3l3 5l6 0l2 2zM1004 835l-3-3l-1 1l1 3zM940 837l-1-3l-5 1l1 3zM970 837l-1-3l-3 1l1 3zM994 837l-1-3l-3 1l1 3zM1413 861l0-4l2 0l-1 4zM932 861l-1-3l-3 3l1 1zM928 865l-3-3l-3 1l1 3l4 0zM906 867l-1-3l-4 0l-1 1l1 3l4 0zM944 873l0-2l-1-1l-3 1l0 2l1 1zM1415 874l-6 0l-1-3l7-1zM1413 896l-10 0l-1-1l0-4l-2-2l0-12l1-1l14 0l3 3l0 10zM924 883l-1-3l-4 0l-1 1l1 3l4 0zM930 881l-1-1l-3 1l1 1zM936 889l-1-3l-2 0l-1 1l1 3zM906 893l-3-3l-3 1l1 3l4 0zM922 891l-1-1l-3 1l1 1zM906 899l-1-3l-6 0l-2-2l-3 1l1 3l4 0l2 2l4 0zM938 901l2-2l0-2l-3-3l-4 0l-3 3l0 2l3 3l4 0zM884 897l-1-1l-3 1l1 1zM894 903l-1 0l0 1zM888 913l2-2l-4-4l0-2l-1-1l-4 0l-1 3l2 2l0 4l1 1l4 0zM859 909l1-2l-3-1l0 4zM866 921l0-4l2-2l0-4l-3-1l-3 3l2 2l0 2l-2 2l0 2l1 1zM916 913l0-2l-1-1l-4 0l-1 1l1 3l4 0zM928 911l-1-1l-1 1l1 1zM961 915l-8 0l0-4l8 0zM900 915l-1-3l-4 0l-1 1l0 2l1 1zM839 919l-2 0l0-4l2 0zM930 929l5-2l0-2l-8-6l2 0l1-2l-1-3l-3 3l1 4l-1 4l1 4zM925 923l-2-3l-4 0l-1 1l1 3l4 0zM862 929l-1-3l-5 1l1 3zM922 931l-1-3l-2 0l-3 3l1 1zM888 933l2-2l-1-1l-3 1l0 2zM900 933l-1-3l-5 1l1 3zM878 937l-1-3l-3 1l1 3zM886 939l-1-3l-3 1l1 3zM928 961l2-2l-3-3l-2 0l-1 1l0 4l1 1zM904 965l-1-1l-3 1l1 1z"/>
<path fill="#4faaa6" d="M921 988l-8-1l-2-2l-4 0l-1-2l-3-2l-4-5l-2 1l-6 1l-6 2l-4-1l-8-7l-1-3l-4-4l0-2l-4-6l2-2l2-4l4-4l-2-6l-5-3l-6 0l-2 2l-4-1l0-2l2-2l1-2l-5-4l-6-2l1-2l1-8l1-4l0-2l-6-6l-1-2l1-2l1-1l2 2l2 0l4-2l2 2l2 0l2-2l2 2l5 1l1 1l6-2l3-3l0-2l6-6l0-2l4-4l-7-7l-4-1l-3-4l-2-6l-5-6l-1-4l-3-1l-4-5l-1-6l-3-3l-3-1l-2-2l0-4l-8-8l0-2l-2-2l2-2l-2-6l2-2l0-2l-4-2l1-2l-3-2l0-4l-9-8l2-2l0-4l-1-4l-2-2l0-6l8-12l-2-2l3-1l4 0l6 4l2 0l8 7l4 1l2-2l2 2l3-3l0-2l-4-6l10-10l0-6l-4-4l0-6l5-3l4 0l2 4l7-5l0-4l2-2l0-6l-2-2l0-2l2-2l0-4l2-2l0-2l6-6l0-4l4-4l0-8l-4-4l0-2l-6-6l4-4l0-2l-4-2l4-4l0-8l-3-1l-3-3l3-1l9-9l0-6l-2-2l0-4l2-2l0-2l5-3l4 0l3-3l0-2l-4-4l2-2l-2-6l5-5l2 0l2-2l6 0l2 2l2 0l4 4l2 0l2-2l4 0l8 8l2 0l6 6l2 0l3 3l-2 2l0 2l7 7l4 0l2 2l6 0l2-2l10 0l2-2l2 0l6 6l2 0l2-2l2 0l6-4l2 0l5-5l0-6l-2-2l0-8l-2-2l0-2l2-2l0-14l-2-2l0-2l2-2l0-2l-2-2l0-2l-4-4l4-4l0-10l10-10l0-4l2-2l0-6l5-3l6 0l3 3l0 4l-2 2l0 4l2 2l0 4l1 1l4 0l2 2l2-2l4 0l2-2l4 0l6-6l4 0l2-2l2 0l2 2l3-3l1-3l1 1l0 6l4 4l0 4l3 3l2 0l1 3l6 6l0 2l-2 2l4 4l0 10l3 3l3 1l0 14l-4 4l0 8l-2 2l0 2l3 3l3 1l0 8l-2 2l0 4l-2 2l0 2l6 6l0 2l2 2l1 3l7-1l0-2l-6-4l4-2l0-2l2-2l0-10l-2-2l3-3l6 2l2-2l2 0l3 5l0 6l-4 6l0 4l2 2l-2 2l1 1l2-2l2 0l3-3l1-3l2 0l2-2l2 2l4 0l2-6l6 0l1-1l0-8l5-3l2 0l2-2l6 0l4 4l4 0l1 1l0 2l-2 2l4 4l0 4l-2 2l0 4l-2 2l0 2l-2 2l0 4l-4 6l0 4l-8 8l0 2l-7 7l-6 0l-1 1l0 2l-3 1l-5 5l0 6l3 5l2 0l2 2l2-2l10 0l3 5l0 4l2 2l0 6l-2 2l0 6l-2 2l0 6l-2 2l0 6l-2 2l0 6l-9 9l-4 0l-1 1l2 2l-4 6l0 6l-9 7l-2 0l-6 4l-3 3l0 2l-4 2l0 4l-2 2l4 4l1 10l-6 4l1 2l-4 4l-3 2l-2 0l-4 4l-2 0l-2 3l-6 2l-3 3l-1 3l-2-1l-1-2l-5-5l-6-3l-6 0l-1-2l6-8l0-2l-1-1l-4 0l-6 6l-2 0l-6-2l-4-4l-10 0l-11 11l3 2l2 0l10 5l1 1l-2 2l0 4l-1 1l-8 0l-1-1l2-2l-3-3l-2 0l-1 3l4 4l-1 3l-4 0l-7-7l-1-3l-4 0l-1 3l6 2l0 2l-3 2l0 2l-4 2l-6-1l-3-3l-1-3l-6 5l-4 1l-6 4l-6-1l-12 7l-2-1l-8-11l-8-1l-2 1l-1 5l2 2l-3 5l-2 1l-1 8l4 4l2 4l5 1l2 3l-1 2l1 2l-1 2l0 2l3 2l-4 2l-5 6l4 4l0 4l-3 3l-6 0l-5 3l-1 2l1 4l-3 3l-4-7l-2-1l-2 1l-1 2l2 4l-3 2l2 2l-6 1l-1 3l1 1l6 0l2 6l2 1l10-2l1 2l0 2l-3 1l-2-2l-2-1l-2 4l-6 0l-4 4l-1 6l3 5l4 0l2 2l4 0l2-3l4-1l2-2l2 2l4 0l1 1l-4 4l-7 3l-3 3l0 2l2 2l3 3l3 1l1 2l0 2l-2 2l-2 0l-4-4l-2 1l-4 5l-5 4zM969 584l-6 0l-3-3l0-8l2-2l0-4l3-1l4-4l7 5l0 10zM963 612l-4 0l-5-5l0-2l-2-2l0-6l2-2l0-2l3-3l4 0l2-2l7 7l0 2l0 10zM1105 624l-1-3l3-1l1 1zM1132 673l2-2l-3-3l-2 0l-3 3l1 3zM1425 730l-4 0l-3-3l0-6l3-3l4 0l1 1l0 4l2 2l0 2zM801 732l-4 0l-3-3l0-2l9-1l1 3zM1389 873l-2 1l-1-3l-3-3l-4 0l-2-2l-2 0l-6-5l-4-5l-2 0l-2-2l-4 0l-2-2l-4 4l-2 0l-4-4l-2 0l-2 2l-12 0l-2 2l-2 0l-2-2l-6 4l-4 0l-2-2l-2 2l-4 1l-4 1l-2-2l-6 0l-1-3l-13-13l-2 2l-4-4l-4 0l-6 6l-2 0l-6 4l-2 0l-3 3l2 2l-1 1l-4 0l-6-7l-4 0l2 0l0 2l-2 2l-2 1l-2-3l-6-1l-1-1l0-6l3-1l6-6l2 0l6-6l2 0l6-6l2 0l4-4l2 0l6-6l2 0l6-6l2 0l6-6l2 0l6-6l2 0l4-4l2 0l6-6l2 0l6-6l2 0l14-12l2 0l4-4l2 0l6-6l2 0l14-12l2 0l1 1l0 2l-2 2l1 1l8 0l4 2l6 0l11 9l0 2l2 2l0 6l4 4l-2 2l6 6l0 2l3 3l3 1l0 4l-4 4l0 6l-2 2l0 4l4 4l-2 4l2 2l0 6l-3 3l-6 2l-1 3l-3 2l-6 1l-3 3l0 2l3 3l4 0l6 6l2-2l7 7l0 6l-2 2l0 6l-1 1l-8 0zM823 846l-6 0l-1-3l-4-4l-2-6l-4-4l0-4l-2-2l0-10l-6-6l0-8l2-2l0-2l-6-6l0-4l-2-2l0-2l6-6l-3-1l-5-7l0-4l2-2l2-6l3-3l6 2l3 5l0 10l-2 2l0 2l3 1l3 3l0 4l2 2l0 6l-4 4l0 2l4 6l0 8l-2 2l0 2l3 1l3 3l0 2l6 6l0 4l2 2l0 14zM890 761l2-2l0-2l-3-1l-2-2l-2 2l-6 0l-3 3l3 3l10 0zM759 776l-4 0l-3-3l0-4l2-2l0-4l3-3l6 0l3 5l0 2l-2 2l0 2zM557 804l-6 0l-3-3l0-8l1-1l6 0l5 3l0 6zM1002 807l2-2l-3-3l-2 0l-3 3l1 3zM1052 807l-1-1l-3 1l1 1zM1008 811l2-2l-1-1l-4 0l-1 1l3 3zM952 815l-3-3l-1 1l1 3zM960 819l-3-3l-1 1l1 3zM970 821l-1-3l-3 1l1 3zM954 825l2-2l-1-1l-4 0l-1 1l1 3zM1084 823l-1-1l-4 0l-1 1l1 1l4 0zM1016 827l-1-3l-3 1l1 3zM988 839l-2-6l-5-3l-2 0l-5 3l3 5l6 0l2 2zM1004 835l-3-3l-1 1l1 3zM940 837l-1-3l-4 0l-1 1l1 3l4 0zM970 837l-1-3l-3 1l1 3zM994 837l-1-3l-3 1l1 3zM932 861l-1-3l-3 3l1 1zM928 865l-3-3l-2 0l-1 1l1 3l4 1zM906 867l-1-3l-4 0l-1 1l1 3l4 0zM945 873l0-2l-2-1l-3 1l0 2l1 1l2 0zM1415 873l-6 0l0-2l6 0zM1413 896l-10 0l-1-1l0-4l-2-2l0-12l1-1l14 0l3 3l0 10zM924 883l-1-3l-4 0l-1 1l1 3l4 0zM931 881l-2-1l-3 1l3 1zM937 889l-2-4l-2 0l-1 2l1 3l2 0zM906 893l-3-4l-2 1l-1 1l1 3l4 0zM922 891l-3-1l-1 1l1 1zM906 899l-1-3l-6 0l-2-2l-3 1l1 3l4 1l2 1l4 1zM938 901l2-2l0-2l-3-3l-4 0l-3 3l0 2l3 3l4 0zM884 897l-1-1l-2 0l-1 1l1 1l2 0zM896 905l0-4l-5-1l-1 1l2 4l3 2zM888 913l2-2l-4-4l0-2l-1-1l-4 0l-1 3l2 2l0 4l1 1l4 0zM866 921l0-4l2-2l0-4l-3-1l-2 2l-2-1l1-2l-3-3l-2 0l-1 3l1 5l4-3l3 4l0 2l-2 2l0 2l1 1zM917 913l0-2l-2-1l-4 0l-1 1l1 3l4 0zM893 917l6-1l1-1l0-2l-1-1l-4-1l-2 2zM959 914l-4 0l-1-1l1-1l4 0l1 1zM935 921l-2 0l0-1zM862 929l-1-3l-5 1l1 3zM922 931l-1-3l-2 0l-3 3l1 1l4 0zM888 933l2-2l-3-1l-1 3l1 1zM900 933l-1-3l-4 0l-1 1l1 3l4 0zM878 937l-1-3l-3 1l1 3zM886 939l-1-3l-3 1l1 3zM928 961l2-2l-3-3l-2 0l-1 1l0 4l1 1zM904 965l-1-1l-3 1l1 1z"/>
<path fill="#5fb39b" d="M919 986l-7-1l1-1l3-1l-1-3l-2 0l-1 3l-1 1l-4 0l-4-3l-4-5l-4 1l-6 0l-4 2l-4 0l-8-8l-1-2l-4-4l1-2l-4-6l2-2l0-2l5-6l-1-6l-6-4l-6 0l-2 2l-4 0l3-4l1-2l-2-2l6-1l1-3l-1-1l-4 0l-2 5l-6-3l-2-2l-1-5l3-8l-4-6l-3-2l0-4l1-1l2 2l2 0l4-2l2 2l2 0l2-1l5 2l3 4l6-4l4-4l0-2l9-12l-7-8l-4-1l-3-3l-2-6l-3-4l-3-6l-3-2l-5-10l-3-3l-3-1l-2-6l-8-8l0-2l-2-2l2-2l-1-6l1-4l-3-2l0-2l-3-2l0-4l-8-8l1-2l0-4l-1-4l-2-2l0-6l5-6l3-6l-1-2l2-1l4 0l2 2l6 2l8 8l4 0l2-2l2 2l4-3l-1-2l-4-6l10-10l0-6l-4-4l1-2l-1-4l5-3l4 0l2 4l7-5l0-4l2-2l0-6l-2-2l0-2l2-2l0-4l2-2l0-2l6-6l0-4l4-4l0-8l-4-4l0-2l-6-6l4-4l-1-3l-3-1l4-4l0-8l-3-1l-3-3l3-1l9-9l0-6l-2-2l0-4l2-2l0-2l5-3l4 0l3-3l0-2l-4-4l2-2l-2-6l5-5l2 0l2-2l6 0l2 2l2 0l4 4l2 0l2-2l4 0l8 8l2 0l6 6l2 0l3 3l-2 2l0 2l7 7l4 0l2 2l6 0l2-2l10 0l2-2l2 0l6 6l2 0l2-2l2 0l6-4l2 0l5-5l0-6l-2-2l0-8l-2-2l0-2l2-2l0-14l-2-2l0-2l2-2l0-2l-2-2l0-2l-4-4l4-4l0-10l10-10l0-4l2-2l0-6l5-3l6 0l3 3l0 4l-2 2l0 4l2 2l0 4l1 1l4 0l2 2l2-2l4 0l2-2l4 0l6-6l4 0l2-2l2 0l2 2l3-3l1-3l1 1l0 6l4 4l0 4l3 3l3 1l0 2l6 6l0 2l-2 2l4 4l0 10l3 3l3 1l0 14l-4 4l0 8l-2 2l0 2l3 3l3 1l0 8l-2 2l0 4l-2 2l0 2l6 6l0 2l2 2l1 3l6 0l1-1l0-2l-3-3l-2 0l-1-1l4-2l0-2l2-2l0-10l-2-2l3-3l2 0l2 2l2 0l2-2l2 0l1 3l2 2l0 6l-4 6l0 4l2 2l-2 2l1 1l2-2l2 0l3-3l1-3l2 0l2-2l2 2l4 0l2-6l6 0l1-1l0-8l5-3l2 0l2-2l6 0l4 4l4 0l1 1l0 2l-2 2l3 4l1 4l-2 2l0 4l-4 6l0 4l-4 6l0 4l-8 8l0 2l-7 7l-6 0l-2 1l1 2l-3 1l-5 5l0 6l3 5l2 0l2 2l2-2l10 0l3 5l0 4l2 2l0 6l-2 2l0 6l-2 2l0 6l-2 2l0 6l-2 2l0 6l-9 9l-4 0l-1 1l2 2l-4 6l0 6l-3 3l-2 0l-4 4l-4 1l-4 3l-3 3l0 2l-4 2l0 4l-2 2l4 4l0 10l-5 3l0 3l-4 4l-6 2l-6 6l-6 3l-3 3l-1 2l-2 0l-6-7l-6-4l-6 0l-1-1l7-8l0-2l-2-1l-2-1l-8 7l-4 0l-2-2l-2 0l-4-4l-2-1l-8 1l-7 5l-4 6l2 2l13 6l-1 2l0 4l-3 1l-6 0l-1-1l2-2l-3-3l-2 0l-1 3l4 4l-1 3l-4 0l-7-7l-1-3l-4 0l-1 3l6 2l-1 2l-6 5l-6-1l-4-5l-16 9l-7 0l-7 3l-4 4l-10-12l-6-2l-4 1l-1 4l0 2l2 2l-3 4l-4-1l-1 1l2 4l0 6l4 4l0 2l-4 2l-1 2l2 2l3 0l-2 2l1 3l8-1l1 2l1 4l-4 2l-3 6l4 4l0 4l-3 3l-6 0l-6 3l-1 2l1 4l-2 0l-1-2l-3-3l-5-1l-1-2l3-2l-1-1l-2 1l0 11l-8-4l-4 0l-1 1l1 4l4 0l2-2l2 2l4 4l-4 1l-1 3l6 2l2 6l5 1l0 1l-1 2l-5 0l-5 4l0 6l1 2l2 3l4 0l2 2l3 1l3 4l-1 4l5 5l3 1l1 2l-2 3l-4-1l-2-2l0-3l-4 5l-2 0l0 4l-6 4l-3 6zM969 584l-6 0l-3-3l0-8l2-2l0-4l3-1l4-4l7 5l0 10zM963 612l-4 0l-5-5l0-2l-2-2l0-6l2-2l0-2l3-3l4 0l2-2l7 7l0 4l0 8zM1105 624l-1-3l3-1l1 1zM1132 673l2-2l-3-3l-2 0l-3 3l1 3l4 0zM1127 691l2-2l0-2l-2-2l-6 0l-2 2l0 2l2 2zM1425 730l-4 0l-3-3l0-6l3-3l4 0l1 1l0 4l2 2l0 2zM801 731l-4 0l-2-2l0-2l8 0l0 2zM1387 874l-1-3l-3-3l-4 0l-2-2l-2 0l-6-5l-4-5l-8-2l-2-2l-4 4l-2 0l-4-4l-2 0l-2 2l-12 0l-2 2l-2 0l-2-2l-6 4l-4 0l-2-2l-2 2l-8 1l-2-1l-6 0l-1-3l-13-13l-2 2l-4-4l-4 0l-6 6l-2 0l-2 2l-2 0l-2 1l-2 0l-4 4l2 2l-4 0l-2-2l0-4l-2-2l-8-1l-2 2l-2 3l-4-1l-1-1l0-6l3-1l6-6l2 0l6-6l2 0l6-6l2 0l4-4l2 0l6-6l2 0l6-6l2 0l6-6l2 0l6-6l2 0l4-4l2 0l6-6l2 0l6-6l2 0l14-12l2 0l4-4l2 0l6-6l2 0l14-12l2 0l1 3l-2 2l1 1l8 0l4 2l6 0l11 9l0 2l2 2l0 6l4 4l-2 2l6 6l0 2l3 3l3 1l0 4l-4 4l0 6l-2 2l0 4l3 4l-1 4l2 2l0 6l-3 3l-6 2l-2 4l-4 2l-4 0l-3 3l0 2l3 3l4 0l6 6l2-2l7 7l0 6l-2 2l0 6l-1 1l-8 0zM823 846l-6 0l-1-3l-4-4l-2-6l-4-4l0-4l-2-2l0-10l-6-6l0-8l2-2l0-2l-6-6l0-4l-2-2l0-2l6-6l-1-1l-2 0l-5-7l0-4l2-2l2-6l3-3l6 2l1 3l2 2l0 10l-2 2l0 2l1 1l2 0l3 3l0 4l2 2l0 6l-4 4l0 2l4 6l0 8l-2 2l0 2l1 1l2 0l3 3l0 2l6 6l0 4l2 2zM890 761l2-2l0-2l-5-3l-2 2l-6 0l-3 3l3 3l10 0zM759 776l-4 0l-3-3l0-4l2-2l0-4l3-3l6 0l3 5l0 2l-2 2l0 2zM1368 793l2-2l0-2l-3-2l-6 0l-2 2l0 4l2 1zM557 804l-6 0l-3-3l0-8l1-1l6 0l5 3l0 6zM1002 807l2-2l-3-3l-2 0l-3 3l1 3l4 0zM1052 807l-1-1l-3 1l1 1zM1008 811l2-2l-1-1l-4 0l-1 1l3 3zM952 815l-3-3l-1 1l1 3zM960 819l-3-3l-1 1l1 3zM970 821l-1-3l-3 1l1 3zM954 825l2-2l-1-1l-4 0l-1 1l1 3zM1084 823l-1-1l-4 0l-1 1l1 1l4 0zM1016 827l-1-3l-3 1l1 3zM988 839l-2-6l-5-3l-2 0l-5 3l3 5l6 0l2 2zM1004 835l-3-3l-1 1l1 3zM940 837l-1-3l-4 0l-1 1l1 3l4 0zM970 837l-1-3l-3 1l1 3zM994 837l-1-3l-3 1l1 3zM1361 849l2-2l0-2l-2-1l-2-1l-2 2l-2 0l0 2l2 2zM1235 853l0-1l2 1zM932 861l0-2l-1-1l-4 3l2 1zM931 873l0-3l-3-3l1-2l-4-4l-2 0l-1 2l0 2l5 2l-1 4l1 2l2 1zM906 867l-1-3l-4 0l-1 1l1 3l4 0zM951 877l-2-1l-1-3l3 0l2 2zM884 877l-1-1l0 1zM1413 896l-10 0l-1-1l0-4l-2-2l0-12l1-1l14 0l3 3l0 10zM937 891l2-2l0-1l-2 0l0-5l-2-4l-2 0l-2 2l-2-1l-3 1l3 1l2 0l1 7l1 1zM924 883l0-2l-1-1l-4 0l-1 1l1 3l4 0zM894 889l-1-1l-2 1l2 1zM907 893l1-2l-3-3l-4 1l-2 2l2 4l4-1zM922 891l-3-1l-1 1l1 1zM911 895l0-2l-2 1l0 1zM897 907l1-6l1-2l2 2l4 0l1-2l-1-3l-6 0l-2-2l-2 0l-2 5l-2-1l-2 2l1 5l3 3l2 1l2-1zM938 901l2-2l0-2l-3-4l-4 1l-3 3l0 2l3 3l4 0zM884 897l-1-2l-2 0l-1 2l1 2l2 0zM897 900l-3-1l5 0zM888 913l3-2l-4-4l0-2l-2-1l-4 0l-1 3l2 2l0 4l1 2l4 0zM866 921l0-4l2-2l0-4l-5-3l-6-2l-3 7l3 5l2-1l2-5l3 3l0 2l-2 2l0 2l1 1zM891 923l3-2l2-4l5-2l-2-4l-3 0l-1-2l-3 2l-1 4l-2 3l-2-1l2 2l0 4zM959 914l-4-1l4-1zM912 921l1-2l-2-1l-2 1l0 2zM922 931l0-2l-1-1l-2 0l-3 3l1 1l4 0zM888 933l2-2l-3-2l-1 2l0 2l1 1zM900 933l-1-3l-4 0l-1 1l1 3l4 0zM939 934l-2 0l-3-3l5-1zM878 937l-1-3l-3 1l0 2l1 1l2 0zM886 939l-1-3l-3 1l1 3zM939 955l-4 0l6-8l2 1l5 1zM881 957l3-2l-1-2l-2 0l-3 2l1 1zM928 961l2-2l-3-3l-2 0l-1 1l0 4l1 1zM904 965l-1-1l-3 1l1 1z"/>
<path fill="#70bd92" d="M909 982l-6-2l-4-5l-4 2l-4 0l-4-3l0 3l-4 2l-5-4l2-2l0-2l-3-3l-2 3l-2-1l-4-5l0-2l-3-6l2-2l0-2l4-6l1-2l-2-4l-6-4l-2 0l-5-2l-1-4l5-2l-1-3l-4 0l-2 3l-2 0l-4-1l-2-4l0-3l1-4l3-4l2 1l4 5l6-4l1 2l-2 2l0 2l1 1l3-1l1-4l1-2l1-4l-4-2l4-2l1-2l5-4l0-4l6-6l-1-2l4-4l-2-4l4-4l1-2l-2-2l-4 0l-2 2l0 2l-2-1l-4 0l-7-13l-1-4l-6-5l-5-9l-3-3l-3-1l-3-8l-7-6l1-2l-2-2l1-2l-1-6l1-4l-2-2l0-2l-1-2l-2 0l-1-4l-8-8l2-2l-1-6l-3-4l1-2l-1-4l6-6l2-6l-1-2l2-1l4 0l2 2l6 2l8 8l4 0l2-1l2 2l2-3l4-1l-2-1l-5-7l10-10l0-6l-4-4l1-2l-1-4l5-3l4 0l2 4l7-5l0-4l2-2l0-6l-2-2l0-2l2-2l0-4l2-2l0-2l6-6l0-4l4-4l0-8l-4-4l0-2l-6-6l4-4l0-2l-4-2l4-4l0-8l-3-1l-3-3l3-1l9-9l0-6l-2-2l0-4l2-2l0-2l5-3l4 0l3-3l0-2l-4-4l2-2l-2-6l5-5l2 0l2-2l6 0l2 2l2 0l4 4l2 0l2-2l4 0l8 8l2 0l6 6l2 0l3 3l-2 2l0 2l7 7l4 0l2 2l6 0l2-2l10 0l2-2l2 0l6 6l2 0l2-2l2 0l6-4l2 0l5-5l0-6l-2-2l0-8l-2-2l0-2l2-2l0-4l0-10l-2-2l0-2l2-2l0-2l-2-2l0-2l-4-4l4-4l0-10l10-10l0-4l2-2l0-6l5-3l6 0l3 3l0 4l-2 2l0 4l2 2l0 4l1 1l4 0l2 2l2-2l4 0l2-2l4 0l6-6l4 0l2-2l2 0l2 2l3-3l1-3l1 1l0 6l4 4l0 4l3 3l3 1l0 2l6 6l0 2l-2 2l4 4l0 10l3 3l3 1l0 14l-4 4l0 8l-2 2l0 2l3 3l3 1l0 8l-2 2l0 4l-2 2l0 2l6 6l0 2l3 5l6 0l1-1l0-2l-3-4l-3 0l3 0l2-2l0-2l2 0l-1-4l0-8l-2-2l3-2l4 2l2-1l2-2l2 0l1 3l2 2l0 6l-2 2l0 2l-2 4l-1 2l3 2l-2 2l1 1l2-2l2 0l3-3l0-2l5-3l2 2l4 0l2-6l6 0l1-1l0-8l5-3l2 0l2-2l6 0l4 4l5 1l0 2l-4 4l1 2l4 1l0 3l-2 2l0 4l-2 2l1 2l-2 2l0 4l-5 6l1 4l-9 8l0 2l-6 7l-6 0l-2 1l-3-4l1-3l1 1l3 0l2-4l-2-2l-2 1l-2 2l-2 0l-3 5l1 2l4 3l2-1l0 2l-6 3l-1 3l0 6l2 2l0 2l4 2l1 2l0 2l2 2l2 0l1-2l-3-2l0-2l10-1l3 5l0 4l2 2l0 6l-2 2l0 6l-2 2l0 6l-2 2l0 6l-2 2l0 6l-7 7l-7 3l2 2l-4 6l0 6l-3 3l-2 0l-6 4l-2 0l-6 5l-2 4l-3 2l-2 6l4 4l0 10l-5 2l-1 4l-2 2l-7 4l-7 6l-5 3l-4 4l-14-10l-6 0l-1-1l5-4l0-2l3-2l-1-3l-4-2l-8 7l-4 1l-2-3l-2 0l-4-4l-2 0l-8 1l-8 5l-3 6l1 2l13 6l-1 2l0 4l-2 1l-6 0l-1-1l2-2l-3-3l-2 0l-1 3l4 4l-1 3l-4-1l-2-1l-5-5l-1-3l-4 0l-1 3l6 2l-7 6l-8-2l-2-3l-4 1l-12 7l-4 0l-4 1l-10 6l-4-4l-2-4l-2-2l-6-3l-6 1l-2 2l0 2l3 4l-3 3l-4-1l-2 2l2 4l1 6l3 4l-4 5l-3 1l1 3l-2 1l-1-2l1-2l-6-10l2 0l1-2l1-2l-2-2l-3 2l-7 2l1 4l3 2l-1 4l2 2l3 2l3 0l0 2l-2 2l-4 2l3 2l0 5l5 3l0 2l-5 4l0 2l4 4l4-1l3-3l0-2l-3-4l4-4l1-4l3-3l6-1l0 2l-5 2l1 6l-1 2l4 4l-1 4l-2 3l-12 2l-2 3l-3-2l-2-6l-3-1l-4 3l-4 6l-6 1l-1 1l0 4l-4 6l7 1l4-4l2 0l2 1l-3 2l0 2l5 2l2 6l6 2l-6 1l-6 5l0 6l4 5l4 0l3 3l4 6l-1 3l-2 1l2 2l-1 2l-1 2l-4 1l-1 1l2 4l-7 4l-2-2l-6 1zM969 584l-6 0l-3-3l0-8l2-2l0-4l3-1l4-4l7 5l0 10zM963 612l-4 0l-5-5l0-2l-2-2l0-6l2-2l0-2l3-3l4 0l2-2l6 7l1 6l0 6zM1105 624l0-3l2 0zM1156 651l0-2l-1-1l-1 3l1 2zM1161 653l2-1l1-3l-3-1l-1 1zM1140 655l-1-1l-1 1l1 1zM1155 663l0-2l-2-1l-2 0l0 3zM1140 665l-1-1l0 2zM1132 673l2-2l-3-3l-2 0l-3 3l1 3l4 0zM1128 691l2-2l0-2l-3-3l-6 0l-3 3l0 2l3 3zM1425 730l-4 0l-3-3l1-6l2-3l5 1l0 4l2 2l0 2zM1387 874l-1-3l-3-3l-4 0l-2-2l-2 0l-10-11l-8-2l-2-1l-4 4l-2 0l-4-4l-2 0l-2 2l-10 0l-4 2l-2 0l-2-2l-6 4l-4 0l-2-2l-2 2l-16 0l-1-3l-13-13l-2 1l-4-3l-4 0l-6 6l-8 2l-3-3l-1-1l-2 2l-4-3l-4 2l-2-4l-2 0l-6 5l-1 3l-3 1l-1-7l3-1l6-6l2 0l6-6l2 0l6-6l2 0l4-4l2 0l6-6l2 0l6-6l2 0l6-6l2 0l6-6l2 0l4-4l2 0l6-6l2 0l6-6l2 0l14-12l2 0l4-4l2 0l6-6l2 0l14-12l2 0l1 3l-2 2l1 1l8 0l4 2l6 1l11 8l0 2l2 2l0 6l3 4l-1 2l6 6l0 2l5 4l1 2l0 2l-4 4l0 6l-2 2l0 4l3 4l-1 4l2 2l-1 6l-2 3l-6 2l-2 3l-4 3l-4 0l-3 3l0 2l3 3l4 0l6 6l2-2l7 7l0 6l-2 2l0 6l-1 1l-10 0zM823 845l-6 0l0-2l-4-4l-2-6l-4-4l0-4l-2-2l0-10l-6-6l0-8l2-2l0-2l-6-6l0-4l-2-2l0-2l6-6l-6-4l0-2l-2-2l0-4l4-6l0-2l2-2l6 2l0 2l2 2l0 10l-2 2l0 2l6 4l0 4l2 2l0 6l-4 4l0 2l2 2l2 6l0 6l-2 2l0 2l2 2l2 0l2 2l0 2l6 6l0 4l2 2zM890 761l2-2l0-2l-5-3l-2 2l-6 0l-3 3l3 3l10 0zM759 776l-4 0l-3-3l0-4l2-2l0-4l3-3l6 0l3 5l0 2l-2 2l0 2zM841 787l1-4l-1-1l-3 5zM1364 795l5-1l2-3l0-2l-4-3l-6 0l-3 3l-1 4l1 2zM557 804l-6 0l-3-3l0-8l1-1l6 0l5 3l0 6zM1002 807l2-2l-3-3l-2 0l-3 3l1 3l4 0zM1052 807l-1-1l-3 1l1 1zM1008 811l2-2l-1-1l-4 0l-1 1l3 3zM952 815l-3-3l-1 1l1 3zM960 819l-3-3l-1 1l1 3zM970 821l-1-3l-3 1l1 3zM954 825l2-2l-1-1l-4 0l-1 1l1 3zM1084 823l-1-1l-4 0l-1 1l1 1l4 0zM1016 827l-1-3l-3 1l1 3zM988 839l-2-6l-5-3l-2 0l-5 3l2 2l1 3l6 0l2 2zM1004 835l-3-3l-1 1l1 3zM940 837l-1-3l-4 0l-1 1l1 3l4 0zM970 837l-1-3l-3 1l0 2l1 1l2 0zM994 837l-1-3l-3 1l1 3zM1362 849l2-2l-1-3l-4-2l-5 3l0 2l3 3l4 0zM888 863l3-2l0-2l-2-1l-8 1l0 4l6 1zM937 869l0-6l-2 0l-1 2l0 4l1 1zM906 867l-1-3l-4 0l-1 1l1 3l4 0zM951 876l-1-1l1-1zM1413 896l-10 0l-1-1l0-4l-2-2l0-12l1-1l14 0l3 3l0 10zM888 933l2-2l-3-2l4-4l3-2l3-6l4-1l2 1l1-2l-1-2l-2 0l0-2l6-8l1-2l-1-2l0-4l2 3l2-1l2-2l1-4l-1-2l-4 1l-6-4l-4 0l-4-3l-2-4l-2 0l-2 2l3 2l1 2l-5 2l1 2l4 3l4-1l2 1l1 3l-5-2l-2 5l-4-1l-2 6l-6 1l-1 3l1 2l0 8l-2 2l0 1l4-2l3 1l2 6l-5 4l2 1l0 3l2 2zM924 883l0-2l-1-1l-4 0l-1 1l1 3l4 0zM922 891l-3-2l-1 2l1 1zM884 899l0-4l-1-2l-2 0l-2 4l1 2l1 1zM905 895l-3 0l5 0zM853 911l-4 2l-2-4l-1-2l-3-2l0-4l2 1l6-1l2 1l4-1l6 4l-2 1l-4-1l-2 5zM901 905l-2 1l0-4l3 1zM889 909l0-1l1 1zM879 929l0-2l-4 0l2 3zM922 931l1-2l-2-1l-2 0l-3 3l1 1l4 0zM900 933l-1-3l-4 0l-1 1l1 3l4 0zM939 933l-3 0l1-2l2 0zM878 937l0-2l-1-2l-4 2l0 2l2 2l2 0zM857 938l-1-1l1-1zM886 939l0-2l-1-1l-3 1l1 3l2 0zM884 957l1-2l-2-4l1-4l-1-1l-2 0l-2 3l1 2l-3 4l0 2l2 2zM941 953l-2 2l-1-2l4-4l3 0l0 2zM928 961l2-2l-3-3l-2 0l-1 1l0 4l1 1zM904 965l-1-1l-3 1l1 1zM941 970l-2 1l-2-2l-1-4l1 0l4 2z"/>
<path fill="#87c392" d="M917 905l-2 2l-2-4l-1-4l5-8l2 2l4-2l-2-2l-2-1l-10 0l-6-5l-8-2l-2-3l-4 0l-2-5l-2-1l-10-1l0 4l-2 0l-7-12l1-3l2-1l4 3l4-2l2 1l0 4l10 2l2-4l2 0l1-2l-1-3l-4-2l-4 1l-2-1l-6 2l-4-1l-4 2l-2-3l-4 0l-12-14l-2-1l-4-8l-6-6l0-2l-2-2l2-6l0-6l-2-2l0-2l2-2l4 1l0-5l-4-1l-2 2l-4 0l-8-9l1-2l0-6l-4-4l2-2l-1-2l2-4l6-8l-1-4l5 0l2 2l6 1l8 9l5 0l0 4l1 2l4-3l0-5l4 0l2-2l-1-2l-3-3l-2 1l0-2l-2-2l9-10l0-6l-4-4l2-2l-1-4l4-3l4 0l2 4l7-5l0-4l2-2l0-4l-2-6l2-2l0-4l2-2l0-2l6-6l0-4l4-4l0-8l-10-12l5-4l-1-2l-4-2l4-4l0-8l-3-1l-3-3l3-1l10-9l-1-6l-2-2l0-2l0-2l2-2l0-2l5-3l4 0l3-3l0-2l-4-4l2-2l-2-6l5-5l2 0l2-2l6 0l2 2l2 0l4 4l2 0l2-2l4 0l8 8l2 0l6 6l2 0l3 3l-2 2l0 2l7 7l4 0l2 2l6 0l2-2l10 0l2-2l2 0l6 6l2 0l6-4l6-2l5-5l0-6l-2-2l0-8l-2-2l2-6l0-12l-2-2l2-6l-2-2l0-2l-4-4l4-4l0-10l10-10l0-4l2-2l0-6l3-1l2-2l6 0l3 3l0 4l-2 2l0 4l2 2l0 4l1 1l4 0l2 2l2-2l4 0l2-2l4 0l6-6l4 0l2-2l2 0l2 2l3-3l1-3l1 1l0 6l4 4l0 4l3 3l3 1l0 2l5 6l1 2l-2 2l4 4l0 10l3 3l3 1l0 14l-4 4l0 8l-2 2l0 2l3 3l3 1l0 8l-2 2l0 4l-2 2l0 2l6 6l0 2l3 5l6 0l1-3l-1-2l4-6l-3-4l0-8l-1-2l2-1l4 1l4-3l2 1l0 2l2 2l0 6l-2 2l0 2l-1 2l-1 4l-2-2l0 1l4 3l-2 2l4 2l4 5l4 3l8 3l1-3l-1-1l-2-2l-6 3l-2-2l1-2l-1-3l-4-3l-2 2l0-2l2 0l3-4l1-2l4-3l2 2l4 0l2-6l6 0l1-1l0-8l5-3l2 0l2-2l6 0l4 4l5 1l-1 2l-4 4l4 6l0 2l-2 2l-2 0l-2 4l-4-1l-2 2l-4 0l-3 3l-4 10l-1 8l-2 2l-4-2l-1-4l-1-1l-3 3l-1 4l-4-2l-7 6l1 3l4 1l4-6l1 2l-2 4l3 4l-2 4l1 10l2 2l1 4l2 0l0 2l2 4l4 2l5-4l-2-2l1-2l4-1l1 3l2 2l0 4l2 2l0 6l-2 2l0 6l-2 2l0 6l-2 2l0 6l-2 2l0 6l-7 7l-7 3l2 2l-2 2l-2 4l0 6l-11 7l-2-1l-4 3l-2 1l-2 6l-4 2l-1 6l4 4l-1 10l-4 1l-4 7l-6 3l-7 7l-5 2l-4 4l-2-1l-12-9l-6 0l7-8l-1-4l-4-1l-10 8l-2 0l-2-3l-8-5l-8 2l-6 3l-5 6l0 4l9 3l4 3l0 6l-2 1l-6 0l-1-1l2-2l-3-3l-3 1l0 2l4 4l-1 2l-4-1l-4-2l-3-3l-1-3l-4 0l-1 1l0 2l5 1l1 1l-1 1l-8 4l-8-4l-4 1l-1-4l-3-1l-1 1l0 2l4 2l-9 5l-2 2l-4-1l-6 2l-8 5l-8-10l-10-2l-3 1l-2 2l0 2l4 4l-3 3l-4-2l-2 0l-2 6l-8-3l-5 0l0 2l4 2l-2 2l-3 1l-1 1l0 2l3 4l0 4l6 6l-4 4l2 2l-1 6l7 2l-1 2zM969 584l-6 0l-3-3l0-8l2-2l0-4l3-1l4-4l7 5l0 10zM963 612l-4 0l-5-5l0-2l-2-2l0-6l2-2l0-2l3-3l4 0l2-2l6 8l1 5l0 6zM903 645l1-10l-1 0l-4 4l-1 4l1 2l2 1zM1161 666l-2 1l-2-2l-3-8l9-3l2-4l2-1l1-4l3 0l-4 10l-3 2l1 1l1 3zM1146 651l-2 0l1 1zM1133 663l-2-3l-6-1l0 3l2 3l4-1zM1151 678l-4-1l0-6l2-2l4 2l2 2zM1128 691l2-2l0-2l-3-3l-6 0l-3 3l0 2l3 3l6 0zM1425 729l-4 0l-2-2l1-4l-1-2l2-2l4 0l0 4l2 2l0 2zM1387 873l-1-2l-3-3l-4 0l-2-2l-2 0l-10-12l-2 1l-4-2l0-2l-4 0l-4 4l-2 1l-4-4l-2 0l-2 2l-10-1l-6 3l-2-2l-6 4l-4 0l-2-2l-2 2l-16 0l-1-3l-13-13l-2 1l-4-3l-4 0l-6 6l-2 0l-2 1l-2 0l-6-5l-2 1l-2-1l-2-2l-6-2l-6 3l-1-2l3-3l2 0l6-6l2 0l6-6l2 0l4-4l2 0l6-6l2 0l6-6l2 0l6-6l2 0l6-6l2 0l4-4l2 0l6-6l2 0l6-6l2 0l6-6l2 0l6-6l2 0l4-4l2 0l6-6l2 0l6-6l2 0l6-6l2 1l1 2l-2 2l1 1l8 0l2 2l6 2l2-1l11 8l0 2l2 2l0 6l3 4l-1 2l6 6l0 2l6 6l0 2l-4 4l0 6l-3 2l0 4l3 2l-1 6l2 2l-1 2l1 4l-2 3l-6 1l-2 3l-4 3l-4 0l-3 4l1 4l2 1l4 0l6 6l2-2l7 7l0 6l-2 2l0 6l-1 1l-10 0zM801 808l-1-1l2-12l-6-6l1-2l-3-4l0-2l6-6l-3-6l-2 2l-3-4l2-8l3-5l2 0l5 5l-1 3l-2-1l-2 2l-1 4l1 1l2 0l2-4l1 5l-2 2l1 4l-1 2l1 2l2-3l2 0l4 9l-1 4l-4 4l0 2l2 2l-1 2l-4 2l-2 4l2 2zM871 759l2-2l-1-2l-3 0l-1 4zM890 761l2-2l0-2l-5-3l-2 2l-6 0l-3 3l3 3l10 0zM759 776l-4 0l-2-2l-1-5l2-2l0-4l3-3l6 0l1 3l2 2l0 2l-2 2l0 2zM836 765l-1-1l-2 1l2 1zM837 789l6-2l2-6l-1-2l-5-5l-3 1l5 4l-1 2l-6 6zM850 785l1-4l2 0l-4-4l-3 2l0 4l1 3l2 1zM802 785l-1-3l-1 3l1 1zM1372 797l1-8l-6-3l-6 0l-4 3l-2 4l0 2l2 3l8-3l2 1l4 3zM1383 813l2-2l-3-4l0-4l-1-4l2-2l2 4l2 0l5-6l0-2l-3-2l-2 1l-8-1l-3 8l3 6l-2 6l2 2zM557 804l-6 0l-3-3l0-8l1-1l6 0l5 3l0 6zM1002 807l2-2l-3-3l-2 0l-3 3l1 3l4 1zM809 810l-2-1l0-2l2-3l1 3zM1052 807l-1-1l-3 1l1 1zM803 810l-1-1l1-2l2 2zM1008 811l2-2l-1-1l-4 0l-2 1l4 3zM821 844l-2 0l-5-5l-3-7l-3-3l1-2l0-2l-3-2l0-10l-2-2l1-2l2 0l2 5l5 3l-2 6l1 2l4-3l3 3l3 8l-1 10zM952 815l-3-3l-1 1l1 3zM960 819l-3-3l-1 1l1 3zM970 821l-1-3l-3 1l0 2l1 1zM1377 823l-2-5l-2 1l2 6zM1394 827l1-6l-2-2l-4 6l1 2l3 1zM954 825l2-2l-1-1l-4 0l-1 1l1 3zM1084 823l-1-1l-4 0l-1 1l1 1l4 0zM1016 827l0-2l-1-1l-3 1l1 3zM988 839l-2-6l-3-1l-2-2l-2 0l-5 3l2 2l1 3l6 0l2 2zM1004 835l-3-3l-1 1l1 3zM941 837l-1-2l-1-1l-4 0l-1 1l1 3l4 0zM970 837l-1-3l-2 0l-1 1l-1 2l2 1l2 0zM1379 837l1-2l-1-1zM1227 849l-1-6l3 0l2-2l2 0l-4 4l-1 4zM897 843l-2-1l-1 1l1 1zM1362 849l2-2l0-2l-3-3l-2-1l-6 4l0 2l4 4l4 0zM941 868l-2-1l-2-8l-1 0l1 0l2 0l0 4l3 4zM933 862l0-2l2 1zM906 867l-1-3l-4 0l-1 1l1 3l4 0zM1413 896l-10 0l-1-1l0-4l-2-2l0-12l1-1l14 0l3 3l0 10zM885 886l-1-3l1-2l2 2zM925 883l0-2l-2-2l-4 1l-1 1l1 3l4 0zM945 890l-2-1l2-2zM881 890l0-1l1 0zM887 893l-3-2l1-2l3 2zM893 896l-4-1l1-2l3 1zM947 903l-8 1l-3-1l4-4l0-2l-2-2l1-2l2-2l4 1l5 5zM871 939l-2 0l-4-4l-4 0l-2-2l-1-2l4-2l-1-3l-4 0l-2 2l-6-1l1-4l-2-2l0-2l1-2l2-2l2 0l2 4l2 1l4-3l0 4l2 2l2-1l4-8l4-3l1-2l-2-2l0-2l4-2l1-7l2 1l0 4l3 2l-2 2l-1 4l2 2l-3 4l-1 6l2 1l4-1l1 2l0 2l-3 1l-8-3l-2 2l1 2l-1 4l2 4l0 2zM851 911l-2 1l-2-3l2-2l0-2l-4 0l-2-2l8-2l2 2l7 0l-1 1l-2 0l-2 1l-1 4zM907 917l-2-2l1-4l-2-2l1-2l4-1l4 1l2 2l-4 0l-2 2l0 4zM907 979l-2 1l-6-5l-6 1l-6-5l-2 0l-1 2l1 4l-2 1l-4-3l3-2l0-2l-3-4l2-1l4 3l1-2l0-4l1-4l-2-6l0-6l1-2l-1-1l-6 2l-2 5l-4 4l-2 1l-2-3l1-4l3-4l-1-2l1-3l2 1l2-1l2-3l1-6l3 1l3 3l-5 2l1 2l3 1l2-5l2 0l0-2l1-2l-1-2l6-5l2 2l2-1l-1-4l1-4l3 2l3 4l8 1l3-1l1-2l0 2l2 2l3 0l1 3l-4 0l-3 3l1 1l4 0l2-2l2 3l-7 6l0 6l5 5l4 1l4 6l-2 1l-2-2l-3 1l0 4l1 1l2 0l2-1l2 0l-1 2l1 4l-7 2l2 6l-3 2l-8-1zM900 933l-1-3l-4 0l-1 1l1 3l4 0zM875 933l-1 0l1-1l2 1zM873 968l-3-3l-1-7l1 1l4 2l1 2zM933 960l-2 1l0-4l2 1zM904 965l-3-1l-1 1l1 1zM939 969l-1-2l1 0l1 0z"/>
<path fill="#9fcc8f" d="M913 887l-4 0l-4-4l-12-7l-3-1l-3-3l-2-1l10-4l1-2l-1-8l-12-3l-6 1l-2-3l-2-2l-2 7l-10-3l-10-13l-2 0l-2-4l-2-6l-4-4l-2-6l1-2l-1-4l1-6l3 0l2-3l0-7l1-4l-5 0l0 2l-1 0l1-2l-4-1l-5 1l-1 3l-2-1l-2-4l0-2l0-6l-5-4l7-12l4 3l3 1l-1 1l0 2l4 3l0 2l-6 2l-4 4l2 5l2-2l4 1l8-3l4 0l4-5l2 0l6-5l3-1l-1-4l5-4l0-6l5-3l2-5l-6-3l-1-7l-4-4l2-2l0-4l3-2l4-1l2 4l7-5l0-4l2-2l0-4l0-2l-2-2l0-2l2-2l0-4l2-2l0-2l6-6l0-4l4-4l1-6l0-2l-5-4l0-2l-6-6l6-4l-3-3l-3-1l4-4l0-8l-6-4l3-1l8-7l1 0l0 6l5 4l6-6l3 0l0-2l0-2l-3-4l-4-2l-1-2l3-4l-4-1l-1 1l-2 6l-1 1l0-3l-3-2l0-4l3-2l0-2l2-1l2-2l4 0l4-3l-1-2l-4-4l2-2l-2-6l5-5l2 0l2-2l6 0l2 2l2 0l4 4l2 0l2-2l4 0l8 8l2 0l6 6l3 1l2 2l-2 2l0 2l7 7l4 0l2 2l6 0l2-2l10 0l2-2l2 1l6 5l2 0l6-4l6-2l5-5l0-6l-2-2l0-8l-2-2l0-2l2-2l1-4l-1-10l-2-2l2-6l-2-2l0-2l-4-4l4-4l0-10l10-10l0-4l2-2l0-6l3 0l2-3l6 0l2 2l1 1l0 4l-2 2l0 4l2 2l0 4l1 1l4 0l2 2l2-2l4 0l2-2l4 0l6-6l4 0l2-2l2 0l2 2l3-3l1-3l1 1l0 6l4 4l0 4l3 3l3 1l0 2l5 6l0 2l-1 2l4 4l0 10l3 3l2 1l1 14l-4 4l0 8l-2 2l0 2l3 3l2 1l1 8l-2 2l0 4l-2 2l0 2l6 6l2 6l3 2l4 0l1-2l-1-4l4-4l2 1l4 5l-3 2l3 8l6-1l1 1l-3 1l-2 5l2 5l2 1l-1 6l1 1l6 3l1 2l-2 2l3 8l1 4l2 2l2 8l3 3l4 3l4-2l4 0l2-4l0 4l2 2l1 6l-2 2l0 6l-2 2l0 6l-2 2l0 6l-2 2l0 6l-7 7l-7 3l2 2l-3 2l-1 4l0 6l-11 7l-2-1l-2 0l-4 4l-2 5l-4 3l-1 6l3 4l0 8l-6 4l-3 6l-5 2l-8 8l-4 2l-4 3l-6-3l-4-4l-7-4l5-6l0-4l-6-2l-2 2l-2 1l-6 6l-2 0l-1-3l-7-5l-2 0l-14 4l-6 7l0 4l2 1l8 3l3 2l0 6l-1 1l-6 0l-1-1l2-2l-3-3l-3 1l-1 2l5 4l-1 2l-8-3l-3-3l-1-3l-4 0l-2 1l1 2l5 2l-4 2l-2 1l-2-2l-2 3l-6-3l-4 0l-1-3l-3-1l-2 1l1 2l4 2l-7 3l-2 0l-2-1l4-1l1-3l-3-5l-2 0l-2-2l-2 0l-2 2l-3 1l2 2l0 2l1 2l6 0l-1 2l2 2l-1 2l-4-1l-2 1l-4-1l-2 3l-6 4l-8-9l-6-2l-6-1l-3 2l-1 2l0 2l4 4l-2 2l-2-2l-4 0l-4 4l-6-2l-7 2l1 4l1 0l-3 4l0 2l3 4l0 4l5 6l-8 2l-2 2l1 2l1 2l4 0l2-1l0 3l-2-2zM969 584l-6 0l-3-3l0-8l2-2l0-4l3-1l4-4l7 5l0 10zM963 611l-4 0l-4-4l0-2l-2-2l0-6l2-2l0-2l2-2l4 0l2-2l4 4l-1 4l3 2l0 2l0 6zM949 617l-2-4l-3 2l5 4zM1151 648l-2-1l-4 2l-2-3l-4 0l-4-3l-2 0l-2-2l1-2l3-3l2 2l4 0l1-1l1-5l6 0l1-1l0-8l7-2l2-3l6 1l-1 2l3 0l2 2l4 0l-2 0l-3 6l3 6l-1 2l-5 4l-8 2zM1121 638l-4-1l-4-3l0-3l0-7l4 0l4-3l1 4l3 2l0 2l-2 2l-3-2l-3 0l0 2l5 4zM1133 646l-2-1l0-2l2 1zM1135 652l-1-1l1-3l2 1l0 2zM901 651l-2-1l-2 1l2 1zM1141 651l-1 0l2 0zM1147 665l-2 0l-2-8l1-2l5-5l1 3l-2 4zM1167 654l-2-1l2-2zM903 661l1-2l-1-1l-1 1l0 2zM1137 662l-3-3l1-2l4 2zM1161 665l-2 0l-1-4l1-2l4 0l2 2zM899 675l0-2l-4-2l-1 2l3 4l2-1zM1151 677l-1 0l1-4l2 2zM1128 691l2-2l0-2l-3-3l-6 0l-3 3l0 2l3 3l6 0zM1155 702l-2-1l0-2l2 0zM1425 728l-2-1l-1-2l0-4l1-1l1 1l0 2l2 2zM1399 872l-10-1l-2 2l-1-2l-3-3l-4 0l-2-2l-2 0l-10-13l-2 0l0-4l2-2l-1-6l3-2l0-2l-2 0l-2 2l-2-2l0-9l0 7l-4 6l-4 4l-1 6l-3 4l-4-3l-4 1l-10 0l-6 2l-2-1l-6 4l-4-1l-2-1l-2 1l-16 0l-1-2l-12-12l-7-4l-4 0l-6 7l-6-1l-6-6l-11-2l-1-2l4-5l2 0l6-6l2 0l4-4l2 0l6-6l2 0l6-6l2 0l6-6l2 0l6-6l2 0l4-4l2 0l6-6l2 0l6-6l2 0l14-12l2 0l4-4l2 0l6-6l2 0l6-6l2 0l6-6l3 3l-2 2l1 1l8 1l2 2l6 1l4 0l4 5l2 0l2 2l3 4l0 6l2 2l0 4l5 6l0 2l7 6l0 2l-5 4l0 2l-4 2l-2-2l3-6l0-2l-5-6l-4 3l-2 0l-16-5l-6 0l-2 0l-6 6l-2 4l2 4l2 2l2 4l0 4l2 1l6-3l3 2l-1 4l-6 0l-1 2l-1 6l1 2l3 1l6-2l2 5l2 2l4 0l1 2l-4 2l0 2l3 4l2-1l-1 3l1 4l2 1l4 0l6 6l2-1l6 6l1 6l-2 2zM890 761l2-2l0-2l-5-3l-2 2l-6-1l-3 4l3 3l10 0zM797 764l-2 1l-1-2l0-2l3-3l1 3zM759 776l-4 0l-3-3l0-4l2-2l0-4l3-3l6 0l1 3l1 2l0 2l-2 2l1 2zM845 776l-2 0l-4-4l-2 1l-1-2l0-4l3-4l2 1l2 0l2 3l2 4zM876 767l1-2l-4-2l-2 4l4 2zM853 778l-3-3l3-2l2 2zM797 783l0-2l1 0zM805 792l-5-1l1-2l2-1l2-5l2-2l3 4l0 2zM557 804l-6 0l-3-3l0-8l1-1l6 0l2 2l3 1l0 6zM1365 802l-3-3l3-3l2 1l1 2zM1005 813l-2-2l2 0l2 2l3-4l-3-2l-4 1l1-3l-3-4l-4 1l-2 3l0 2l3 2l1 4l4 1zM1375 811l-4-4l2-5l2 0l1 3zM1399 805l-2 1l0-1zM1020 809l0-2l-3 0l1 2zM1024 809l0-2l-3 0l1 2zM1052 807l-1-1l-3 1l3 1zM809 820l-2 0l0-7l1 2l3 2zM952 815l-3-3l-2 1l1 2l1 1l2 0zM1371 817l-2 2l-1-2l1-4l2-1l1 1zM1397 818l-3-3l0-2l3-2l2 2zM960 819l-3-4l-1 2l1 4l2-1zM1387 823l-2 1l-4-1l-3-4l0-2l3-2l2 1l4 3zM844 819l-2 0l1 1zM970 821l-1-3l-3 1l0 2l1 1zM1360 823l1-2l-2-2l-2 2l1 2zM954 825l2-2l-1-1l-4 0l-1 1l0 2l1 1zM1084 823l-1-1l-4 0l-1 1l1 1l4 0zM821 840l-2-1l-2-3l-2 1l-5-8l7-5l3 3l2 6zM1017 827l0-2l-2-1l-3 1l0 2l1 1zM1399 829l-3 0l3-3zM1387 834l-1-1l1-3l2-1l1 2zM1004 835l-3-3l-1 1l1 3zM1370 833l-1-1l-1 1l1 1zM943 837l-4-3l-4 0l-1 1l1 3l4 1zM970 837l0-2l-3-1l-2 1l-1 2l3 2l2 0zM1237 837l-2 2l0-2l3 0zM897 845l1-2l-1-3l-2 0l-4 3l2 2zM938 843l1-2l-2-1l-3 1l1 3zM969 843l-2-2l-2 2l2 2zM1227 848l0-5l2 0zM864 851l4-4l-3-3l-2 4l-2 1l2 3zM871 871l-1-4l-3-4l2-2l4 4l-2 4l1 2zM883 871l-6-2l-1-2l-2-2l1-2l2 0l1 4l8 2l-1 2zM906 867l-1-3l-4 0l-1 1l1 3l4 0zM1413 896l-11-1l0-4l-2-2l1-13l14 0l3 3l0 10zM929 894l-4-1l4-2l2 0l0 2zM923 895l-2 2l-3-2l5-3l1 1zM943 904l-4-1l1-6l-1-2l2-2l6 1l2 3l-2 5zM917 903l-2 0l2-3l2 1zM853 909l-3 0l1-4l2 0l1 2zM879 906l-2 0l-1-1l3-1zM875 917l-2 0l-1-2l3-4l2-1l1 1zM853 920l-3-1l0-2l1-1l3 1zM871 937l-3 0l-3-4l-4 0l-1-2l2-2l0-2l-1-2l-6 2l-2-1l-1-3l1-2l2-1l4 1l0 2l4 1l4-3l0-2l2 0l1 2l-3 4l1 4l3 6zM881 924l-1-1l2 0zM907 977l-2 1l-4-4l-2-1l-4 2l-6-3l0-5l-2-2l0-2l3-4l-3-6l2-1l4 0l0-1l-1-2l-4-2l1-4l5-2l-4-4l1-8l4-3l4 2l2-3l2-1l6 0l2 1l2 5l2 0l2 3l6 0l-1 2l-3 0l-2 4l-4 2l0 4l0 1l4-2l2 3l6 4l3 4l-3 1l-1 1l0 4l5 2l-1 2l-6 4l-1 4l-2 1l-6-1l-2 3zM917 929l-1 0l1-3l4 0zM900 933l0-2l-1-2l-4 1l-2 1l1 2l1 2l4-1zM883 935l-2 1l0-2l2 0l1 1zM887 942l-2 0l-4 0l-2-1l2-4l0 2l2 2l2 0l2-4l2 2l0 2zM871 953l0-4l2-3l2 0l1 1l-1 4l-2 2zM929 957l0-1l1 1zM871 965l0-3l1 1zM904 965l-3-1l-1 1l1 1l2 0z"/>
<path fill="#b0d38b" d="M915 886l-6 0l-4-4l-4-2l-4-3l-2-4l-4 1l-1-1l0-2l3-1l6-5l-3-4l1-4l-11-4l-2-2l-1-6l-3 0l1 8l-4 1l-3-5l0-2l2-2l-3-1l-2 1l0 10l-2 0l-4-2l1-2l4-4l-1 0l-2-6l-2 1l-2 4l-4 3l-2-1l-10-11l-2-6l-3-4l-2-4l1-1l14 4l1-1l-3-2l1-2l6-4l-1-5l-6 2l-4-2l-2 0l-2 5l-4-1l-1-1l0-2l1-2l4-2l2-10l2-2l-1-6l5-6l8-6l4 2l1-2l-1-6l6-4l4 1l3-3l0-2l-1-2l12-1l3-3l-1-4l-2 1l-2-2l-2 2l-5-1l4-4l-1-3l-2-1l-6 7l-6-3l-1-6l-3-4l1-2l1-4l2-2l4-1l2 5l8-6l-1-4l2-2l1-4l0-2l-3-2l1-2l2-2l-1-4l2-2l0-2l6-6l0-4l4-4l1-5l2 1l2-2l-2-3l-4 0l-3-3l0-2l-6-6l3-2l4 0l0 4l4 6l2 0l3-6l-3-1l-2-3l2-4l2-2l3 0l3-6l4-4l2 0l0-2l-2 1l-2-1l-6 5l-3 1l-1 2l2 4l-2 2l-2 0l-2 1l-4-3l-4 1l-1-1l5-5l2 1l4-4l6-4l2-3l6-3l1-2l-1-5l-6-7l1-4l-1-3l-6 1l-2 5l-2-1l-1-4l4-2l0-2l3-3l4 1l2-3l6 2l1-1l-1-2l-4-1l0-1l-5-4l2-2l-2-6l5-5l2 0l2-2l6 0l2 2l2 0l4 5l4-2l4 0l2 2l0 2l6 4l2 0l4 4l0 2l-6-1l-2-2l-2 1l2 4l4 3l2 2l2 0l4-3l-3-4l3 0l2 2l-2 2l0 2l8 7l4 0l2 2l6 0l2-2l10 0l2-1l8 5l2 0l2-1l2-1l2-2l2 0l2-2l2 0l5-5l0-6l-2-2l0-8l-2-2l1-2l5-4l0-2l-1-2l-2-1l-1-7l-2-2l2-6l-2-2l0-2l-4-4l4-4l0-10l10-10l1-4l2-2l0-6l2 0l2-2l6 0l2 1l1 5l-2 2l0 4l2 2l0 4l1 1l4 0l2 2l2-2l4 0l2-2l4 0l6-5l4 0l2-2l2-1l2 3l3-4l1-3l0 7l5 4l0 4l3 3l3 1l0 2l4 6l0 4l3 4l0 10l4 4l0 2l2 0l-1 6l2 6l-4 4l0 8l-2 2l0 2l3 3l2 1l-3 4l1 2l2 2l-1 2l0 4l-2 2l0 2l6 6l1 6l4 4l8-2l2 1l2 1l0 4l2 2l2 10l2 2l1 4l4 4l1 2l-1 2l3 4l2 8l2 2l0 6l2 4l8 6l4-3l4 1l2-1l2 3l0 4l-1 2l0 6l-3 2l1 6l-2 2l0 6l-2 2l0 6l-7 6l-7 4l2 2l-3 2l-1 10l-11 6l-2-1l-2 0l-5 5l-1 4l-5 4l0 6l3 4l-1 8l-7 4l0 4l-2 2l-4 2l-8 7l-8 6l-2-1l-13-10l0-2l4-4l0-4l-1-1l-6-1l-2 2l-3 0l-1 2l-4 5l-2-1l0-2l-8-6l-6 1l-9 3l-5 5l-2 0l-2 3l0 2l-4 2l-4-1l-1 1l0 2l1 1l12-1l2 1l8 3l0 6l-2 1l-4 0l-1-1l2-2l-3-3l-4 1l0 2l1 2l-1 2l-4-2l-4-5l-8-1l2 4l-6 4l-4-2l-4 1l-2-4l-2-1l-4 2l0-2l-2-1l-2 0l-2-3l-2 0l-2 3l-3 1l2 2l0 4l-3 3l-2-1l-1-6l-5-3l-8 9l-10-3l-2 0l0-2l4-1l1-6l-1-1l-2 1l1 2l-1 1l-2 2l-10 0l-1 1l0 2l2 2l-3 2l-1 2l5 4l-4 4l-15 0l-1 2l2 4l-1 6l3 4l0 4l3 4l-2 2l-4 2l-1 5zM1071 545l4-2l-2-2l-8 0l-2 2l0 2l4-1zM969 584l-6 0l-3-3l0-8l2-2l0-4l3-1l4-4l7 5l0 10zM963 610l-4-1l-2-1l-3-7l2-8l5-1l2-2l2 3l0 4l3 6l0 4zM1159 620l0-1l1 0zM1153 645l-2 1l-6-4l-4 3l-8-6l2-3l2 2l4 0l1-1l1-4l6-1l1-1l1-8l6-2l6 1l4 3l1 2l-1 2l1 6l0 2zM1113 648l0-5l2-2l2 1l0 3zM893 657l-2 0l-1-6l-1-2l-2 0l-3-2l3-1l6-4l-1 7l3 2l0 4zM895 650l-1-1l1-2l2 2zM912 679l1-1l0-4l-2 1zM1128 691l2-2l0-2l-3-3l-6 0l-3 3l0 2l3 3l6 0zM1317 858l-6-2l-2 1l-16 0l-2-4l-11-10l-7-4l-2-3l-4 1l-2 6l-2 2l-2-2l-4 0l-4-5l-12-4l0-1l2-3l2 0l6-6l2 0l4-4l2 0l6-6l2 0l6-6l2 0l6-6l2 0l6-6l2 0l4-4l2 0l14-12l2 0l14-12l2 0l4-4l2 0l6-6l2 0l6-5l2 0l6-7l2 3l-1 2l1 1l5 1l3 3l8 1l4 0l3 4l3 1l4 5l1 6l1 2l1 8l-5 5l-2 0l-16-4l-6 0l-4 2l-4 3l-3 6l3 10l-2 6l3 4l-1 8l2 2l1 2l0 8l-2 6l-5 3l0 5l-2 2l-10 2l-8-1l-12 4zM877 763l-3-2l1-3l3 3zM759 775l-4 0l-2-2l0-4l2-2l0-4l2-2l4 0l4 4l-5 2l0 2l3 2zM841 767l-2 2l-1-2l3-2l2 0l0 2zM843 774l-1-3l1-2l2 2zM829 784l-4-1l-2-2l2-2l0-2l2-4l2-1l3 1l1 4l5 2l-1 1l-4 0l-4 1l-2-4l-1 2l4 4zM807 789l-2 0l2-4zM955 793l0-4l-1 4l1 1zM843 793l-2 0l-2-2l4-1l2 1zM557 804l-6 0l-3-3l1-9l6 0l2 2l3 1l0 6zM1399 798l-1-1l1-4l2-1l2 1l0 2zM952 799l-1-1l0 1zM1006 817l3-2l0-4l1-2l-2-2l1-3l-2-1l-2 2l-2-4l-7 0l-3 4l3 4l0 4l7 4zM1020 811l5-1l1-1l0-2l-3-2l-6 0l-2 2l1 2l3 4zM1052 807l-1-1l-3 1l1 1l2 0zM954 825l3-2l0-2l2 0l2-2l2 5l2-1l-3-6l1-2l-2-4l-2-2l-1 2l-2 6l1 4l-6 1l-1 1l0 2l1 1zM952 815l-3-3l-2 1l0 2l2 2l2 0zM970 821l-1-3l-2-1l-2 2l0 2l2 1zM1084 823l-1-1l-4 0l-1 1l1 1l4 0zM815 833l-2-2l2-4l2-1l2 6zM1004 835l-3-4l-2 2l0 2l2 1l2 0zM912 841l2-2l1-2l-2-3l-4 7zM868 837l-1-1l-1 1l1 1zM991 840l-2 1l0-5l2 3l2 0zM1013 838l-2 0l-2-1l6 0zM1399 871l-4-1l-6 0l-2 1l-4-3l-4 0l-5-3l-7-10l-2-6l1-2l-1-4l5-6l5 0l4 4l2 5l6 1l6 5l2-1l2 2l5 10l-2 2zM899 849l1-6l-3-4l-2-2l-4 2l-2-2l-2 4l3 6l7 0zM1027 840l-2-1l2 0zM987 841l-1 0l2 0zM961 844l0-2l1 1zM967 850l-2 0l-2-3l2-1l4 1zM906 867l-1-3l-4-1l-2 2l2 4l4-1zM917 871l2-2l-1-2l-3-2l-2 2l2 3zM1413 895l-10 0l0-4l-2-2l0-12l14 0l2 2l0 10zM1414 889l-1-3l-2-1l-4 4l4 1zM943 903l-1 0l-1-2l-1-6l7 0l1 2l-1 4zM859 925l-4 0l2-1l3 1zM865 930l-2 0l0-4l2 0zM895 974l-2-3l-2-2l-3-6l4-4l0-4l3-4l-1-2l-3-4l4-2l2 1l3-1l-3-4l0-4l3-2l2-6l7-1l2 7l4 0l1 2l-1 3l-3 3l-2 6l1 2l-3 2l1 4l2-6l4 3l1-1l0-4l1-1l6 5l3 4l-2 2l0 4l4 2l-2 2l-7 5l-2-1l-4 2l-2-2l-6 2l-2-1zM893 938l-1-1l1-6l1 6zM873 951l-1-2l1-2l1 2zM904 965l-3-2l-2 2l2 1l2 0zM909 975l-2 0l2-1z"/>
<path fill="#c2db8a" d="M907 881l-6-2l-4-4l-2-4l2-3l2 0l2 2l4-1l2-2l-2-3l-7-3l2-6l-1-2l-1 0l1 0l2-4l0-6l8 1l7-3l1-4l-1-2l-3-3l-2 0l-4 11l-2-1l-2-3l-4 0l0-4l-4-3l-2 5l-6-1l-2 7l-6 0l-6-2l0-2l-3-2l0-2l3-4l-2 0l-7 4l1 5l-4 5l-4 2l-4-4l-5-6l-6-12l1-1l12 4l2-1l1-2l-2-4l5-3l0-5l-2-4l-6 2l-6-2l0-2l5-4l-2-4l0-8l1-2l4-4l6-3l0 4l4-1l3-6l-2-4l1-1l8-2l5-5l0-4l9-1l3-3l0-4l-3 0l-3-2l0-2l-3-6l-2-1l-3 1l0 4l-3 3l-2 0l-4-2l0-5l-2-2l-1-6l3-3l4-2l2 6l2 0l8 4l2-2l0-3l-2 0l-8-2l6-2l1-2l-2-4l2-2l1-3l2 0l1-3l-1-2l-4 0l2-3l0-5l1-2l0-2l6-6l0-4l4-4l1-4l2 1l3-3l-2-4l5-8l-2-2l-4-1l-1-1l7-6l2-4l6-3l2-3l0-2l-2-4l1-4l-3-10l-4-2l0-2l2-6l4 0l4-6l-6-5l-4-1l-3-2l2-2l-2-6l5-5l2 0l2-1l6 0l4 2l2 2l0 2l-4 2l6 2l1-2l0-2l3-1l3 1l1 2l-2 4l0 3l2-1l0-2l2-1l3 1l-2 4l1 4l8 7l6-3l8 7l4 0l2 2l6 0l2-2l10 1l2-2l2 4l2 0l6 2l4-2l2-3l4-2l2 0l5-5l0-6l-2-2l0-8l-1-2l6-6l0-2l-5-6l0-4l-2-2l2-6l-2-2l0-2l-3-4l3-4l0-10l10-10l1-4l3-2l0-2l3-2l1-4l7 2l1 4l-2 2l0 4l2 2l0 4l5 2l2 1l2-2l4 0l2-2l6 1l2 2l1 0l-2-2l1-2l4 3l4-3l6 0l4-2l3 2l0 4l3 3l3 1l0 2l3 6l0 4l4 4l0 7l-3 1l-1 3l6 3l-1 4l5 9l-3 5l0 8l-2 2l0 2l3 4l-2 4l2 4l1 6l-2 2l0 2l5 6l2 6l2 4l2 1l10-1l1 6l3 2l1 4l0 4l3 5l1 5l3 2l-1 2l1 2l-8 1l-3 3l0 2l3 3l6 0l3-3l1-2l-2-2l0-2l2 2l2 4l0 4l3 2l0 2l-1 2l3 8l3 1l4 3l2 2l0 4l4 1l1-1l-3-6l2-1l6 3l1 2l-1 8l-1 0l-3-2l-2 2l0 2l4 2l1 4l-2 2l0 6l-2 2l-1 6l-2 0l-8 9l-3 1l1 2l-3 2l-1 10l-4 1l-4 3l-6 0l-5 6l-2 4l-4 4l0 6l2 4l0 8l-5 1l-3 3l-1 2l0 2l-2 2l-2 0l-8 9l-8 5l-4-2l-10-8l0-2l5-2l-1-7l-2-2l-2 1l-4-1l-6 2l-4 7l-2-3l-8-5l-6 0l-6 3l-4 1l-2-6l-4-3l-6-1l-4 4l-3-4l-3-2l-2-4l-2 0l-2 2l-4 1l-6 3l-1 2l1 3l2 1l2 5l8 4l4 0l4-2l6-1l3 2l-1 4l-2 2l-4 1l-2 4l-10 2l-3 3l1 2l-3 2l-1 0l-1-2l-1-2l-6-2l-4 0l-2-2l-2 0l-2 3l-2 0l-1 1l1 2l-2 3l-7-7l-2-4l2-4l5-2l0-2l-3-2l3-2l4 3l4-2l1-5l-2-2l0-2l2-2l-1-2l-2 0l-2 2l-4 0l-2 2l0 2l7 2l-3 3l-5 1l-1 2l-2-2l-3-4l0-4l-2-4l-3 0l-3 6l1 4l-1 2l2 6l-5 0l-2 2l0 3l-3-7l0-2l2 0l1 2l4-4l-4-4l-2 0l-4 3l-1-3l1-2l-2 0l0 10l6 2l-2 1l0 1l1 6l-5 4l-6 1l-1 1l0 4l-3 3l-4 0l-2 2l-4-5l-1 2l-1 2l2 1l2-1l4 3l4-1l2 2l-2 3l-8 0l-4-1l-4 2l-1 2l3 4l-2 4l-3 2l0 4l3 6l3 2l-1 2l-3 0l-3 2l-2 0zM1075 541l-2-2l2-4zM969 583l-6 0l-2-2l0-8l2-2l0-4l2 0l4-4l6 4l0 10zM974 573l-1-1l-1 1l1 1zM957 606l-3-5l0-2l3-4l4 3l2 0l1 3zM947 610l-4-1l4 0zM925 615l0-2l-2 0l-1 2zM1153 644l-2 1l-2-1l-4-5l-4 4l-3-2l5-5l2 3l1-2l-3-4l7-2l1-7l4 1l2-2l6 1l3 3l-2 4l-5 6l2 2zM897 628l-2 0l0-3l2 1zM963 631l-2-1l-1 1l3 2zM917 633l-2-2l-2 2l2 1zM975 633l0-2l-2 2zM1163 639l-1 0l0-2l3-1zM889 647l-2 1l-2-1l5-2zM909 649l-3 0l3-2l2 2zM893 653l-2 2l0-5l1 1zM905 652l0-2l1 1zM899 663l-1-2l1 0zM891 675l-4-4l5 0l1 4zM914 679l0-4l-1-2l-2 0l-2 2l0 4l2 1l2 0zM895 681l-2-2l0-4l3 4l0 2zM894 711l1-2l-4-1l-1 3l3 1zM1317 857l-6-1l-18-1l0-4l-8-4l-14-13l-7 1l1 6l-2 1l-4-1l-1-4l-3 0l-7-2l-5-4l2 0l6-7l2 0l4-3l2 0l6-6l2 0l6-7l2 0l6-6l2 0l6-6l2 0l4-4l2 0l6-6l2 0l6-6l2 0l14-11l2 0l12-11l2 0l6-5l2 1l6-7l1 2l-1 2l2 2l3 0l3 5l8 1l6-1l1 3l-1 2l-4 0l2 3l4-4l4 1l3 4l1 4l0 4l1 6l-2 4l-3 2l-10-3l-14-2l-2-1l-2 2l-1 4l-4 4l-2 4l2 4l0 12l2 8l-2 8l4 4l0 2l-1 7l-4 2l-2 5l-5 4l-15 1l-10 3zM885 755l-3 0l3-2zM757 767l0-3l1 1zM757 774l-3-3l3-4l3 4zM831 777l-2-2l2 0zM952 805l3-8l4-2l-1-6l-1-2l-6 1l-4-1l2 0l2 4l-2 2l1 8l-2 2l0 2l1 1zM876 789l-1-1l-3 1zM557 803l-6 0l-2-2l0-8l6 0l2 2l2 0l0 6zM982 797l-1-3l-2-1l-1 4l3 1zM985 805l-2 0l2 2zM1079 807l0-2l-3 0zM1013 811l-2 2l-2-2l2-2l0-4l2 2l1 4zM1052 807l-1-1l-3 1l1 2l2 0zM843 815l-2-2l2-1l2 1zM1025 816l-3-1l1-3l5 1zM1084 823l-1-1l-4-1l-2 2l2 2l4-1zM957 837l-6 1l-3-1l2-2l3-6l-3-2l3-1l2-2l2 1l0 2l-1 4l3 4zM961 826l-1-1l1-1zM1015 831l-2 0l-1-2l3 0l1 2zM1019 836l-2-3l3-4l5-1l4 3l-8 2zM1033 837l-2 0l-2-4l0-2l5 0l1 4zM1005 837l-2-5l2 1l1 2zM1003 838l-3-1l4 0zM989 839l0-1l1 1zM1399 870l-4-2l-4 1l-12-1l-2-2l-2 0l-5-9l-2-2l1-6l-2-4l0-2l4-3l4 0l6 7l8 1l4 4l4 1l4 10l-2 2zM861 843l-2-2l-2 2l2 2zM895 854l-8-2l-1-5l1-1l2 4l6-2l2 5zM967 849l-2 1l0-2zM869 854l-1-1l1-2l1 2zM912 857l-7-2l-1 2l7 2zM921 874l-1-1l1 0zM1405 888l-2 0l-1-1l0-8l3 0l2 2l4-2l1 2zM913 885l-3 0l-2-2l-1-2l2-2l4 1l1 3zM1413 894l-4 0l-2-1l2-1l4 0l1 1zM945 901l-2 1l-2-3l0-2l2-2l4 0l1 2zM905 955l-2-2l-4 1l-2-1l-2-6l-2-2l2-1l4 1l2-1l-3-7l1-2l2-2l2-1l1-3l1-1l2-1l2 2l-2 4l0 4l2 2l2 4l-2 3l-4 1l1 4zM923 966l-2 0l-1-1l0-4l-3-1l-2 0l-1-1l6-6l-2-2l1-1l3 1l2 4l-1 6l3 2zM905 958l-3-1l1-4l2 2zM907 969l-4-2l-4 3l-4-2l-2 0l-3-5l3-2l2-4l2-1l3 3l-1 7l4 1l1-2l-1-2l2-3l4-2l2 0l4 6l0 3l-4-3l-1 1l0 2z"/>
<path fill="#d3e28d" d="M1035 535l-2 0l2-3zM925 842l-1-1l1-4l-4 0l-4-4l0-2l-2 1l-4-3l-4 4l-4 0l-2 0l-6-2l-4 4l-4-1l-8 3l-3-4l-1-4l-2-1l-10 5l-2 6l-6 3l-2 0l-5-7l-3-6l1-2l3-1l4 2l4 1l2-2l-1-4l1-2l2 0l2-2l-2-10l-2-1l-6 1l-2-1l2-5l-1-6l1-2l2 0l1-2l-3-2l0-2l3-2l1-2l0 2l2 1l6-1l4-8l0-4l4-1l6-4l4 0l2-1l4 1l6-3l-2-2l-10-2l6-1l3-3l1-4l-2-2l-3 0l-3-6l0-2l3-4l1-6l-3-6l-3-1l0-1l2-3l2 1l2-2l0-2l2-2l3 0l-1-3l-2 2l-2-1l-1-2l0-2l1-1l4 2l4-3l0-3l-5-3l0-10l4-4l1-3l4 1l2-6l4-3l6 2l2-4l0-3l-2-3l-6 1l-2-3l-5-1l7-6l0-2l2-2l2 1l2-1l3-6l-1-6l0-4l-2-4l1-2l3-2l1-2l-1-3l-2-1l-6 0l0-4l4 0l2-3l3-1l3-5l4 0l2-1l-1-2l-3-1l-4 5l-2-2l-4-4l3-2l-1-3l-2 0l-2 2l-4 3l-3-2l2-2l-2-6l5-4l4-2l4 4l1 2l-1 2l10 4l4-1l2 6l4 0l1 3l-3 2l0 2l6 4l2-2l4 2l6-3l8 7l4-1l2 2l6 1l2-2l6 0l8 4l14 4l1-4l-1-2l0-2l4-2l4 2l-1-4l4-4l0-6l-2-2l0-10l7-6l-2-4l-4-3l-1-5l-2-2l2-6l-1-2l-1-4l1-16l3-4l11-12l6-2l2 0l0 6l3 2l0 4l7 4l2-2l2 0l3 0l1 2l1-2l-1-2l2 0l2 0l2 3l2 1l8-5l4 1l6-3l2 1l1 4l3 3l2 1l3 8l-1 2l4 4l0 6l-3 4l-1 4l6 2l0 2l-1 2l3 4l-1 4l3 2l0 2l-1 2l-1 8l-2 2l0 2l2 2l-1 8l3 4l1 4l-3 2l0 2l5 4l3 12l4 2l8-1l2 1l0 4l4 6l0 2l-1 2l1 2l4 4l0 2l-1 2l3 6l-6 1l-3 3l0 2l3 3l6 0l4-4l0 3l-1 2l1 2l3 2l-1 4l2 2l1 4l8 4l1 2l1 4l5 4l-4 4l6 2l2 4l-1 2l-1 6l-1 2l-1 5l-2 0l-4 3l-4 6l-3 2l0 2l-3 2l0 4l-1 6l-3 0l-2 2l-2 1l-2-4l-2 1l-7 8l-1 4l-4 4l-3 4l4 8l-1 8l-4-1l-4 5l-2 4l-6 2l1 2l-2 2l-3 4l-3 2l-3 1l-2-1l-1-2l3-2l-8-4l-3-4l1-8l4 2l2-2l0-2l-4-2l-3 0l-5 5l-10 1l-4 6l-2-2l-1-2l1-2l-2-3l-2 0l-2 2l-8-1l-6 5l-3-1l-7-10l-4 1l-2-2l-4 3l-2-1l-1-1l0-4l-1-1l-6-1l-2 1l-2 3l-6 2l-2 0l-4 2l-3-4l1-4l2 1l3-1l-3-6l-4-1l-7 3l1 4l-3 4l1 2l-2 2l-6 4l-6-5l-5-1l0-2l1-2l2 0l2 1l4-3l2 1l2-1l-1-2l-7-4l-4-4l-4 2l-6-2l-2 0l0 2l1 2l0 6l2 6l-5 3l-4 1l-2 4l2 10l1 2l3 2l2 4l0 2l-6 4l-4 1l-1 1l-1 4l-2 2l-4-1zM967 582l-4 0l-1-5l1-3l2 1l3 0l-5-2l1-4l5-5l3 3l-2 6l0 4zM923 599l-3 0l0-2l2 0l2 2zM959 601l-2 2l0-5zM930 623l2-2l1-2l-4-1l0 5l0 1zM1151 643l-2-2l-2-6l-3-2l5-1l2-6l4 1l4-2l4 0l1 2l-6 8l0 4zM965 633l-2-4l-4-2l-1 6l5 2zM976 635l1-2l-1-2l-3-1l-1 3zM982 639l-3-1l-1 1zM970 647l4-6l-3 0l-4 2l0 5l2 1zM962 681l-1-3l-1 3l1 1zM995 693l0-1l0 2zM901 697l-4-1l-1 1l3 1zM1131 703l1-2l-1 0zM887 712l-1-3l1-4l2 2l0 2zM1155 718l-2-4l2 1zM1157 722l-1-3l1-1zM903 739l-5-6l-1-2l-2 0l2 6l4 3zM873 741l-4-1l-2-3l2-3l4-2l1 1zM885 735l-2 0l2-1zM877 743l-2 1l-2-3l4-2l3 2zM875 750l-2 0l0-1l2-3l1 3zM1110 755l-1-2l-4-1l-2 1l2 2zM1317 856l-7-1l-3-2l-8 1l-5-5l-7-2l-4-4l-4-2l-2-3l-8-7l-3-6l3-2l0-2l0-8l12-11l2 0l6-6l2 0l4-4l2 0l6-6l2 0l6-6l2 1l4-4l4-2l8 0l4-9l2-1l6-6l2 0l4-4l4 1l2-1l2 0l4 2l2-1l4 4l6 2l1 3l-4 4l5 3l8-2l1-1l-1-4l2-1l5 7l-1 12l-2 2l-4-4l-4 1l-3-1l-1-2l-1 0l1 2l-2 1l-8-1l-4-2l-3 2l-2 6l-5 6l-1 2l3 6l-2 4l3 14l-1 10l3 4l-1 6l-5 4l-2 4l-5 1l-4 3l-8 0zM1377 760l-1-1l2 0zM1362 767l1-2l-2-2l-2 2l0 2zM902 769l-1-2l-2 0l0 2l2 1zM1130 767l-1-1l-1 1l1 2zM1098 771l-1-3l-2 1l-2 2l2 1zM936 775l3-2l-2-1l-7 3zM1051 775l-2-1l-1 1l1 1zM875 791l2-2l0-2l-2-1l-8 3l2 3l2 0zM557 802l-4 0l-3-1l0-4l1-3l6 3l1 2zM1104 801l-1-2l-2 0l-1 2l1 2zM973 836l-2-1l-5-6l1-5l6-4l4 0l2-1l2-2l2-7l2-1l2-3l3 5l3 1l3 5l-3 3l0 2l4-2l6 4l2-1l2 1l1-1l0-2l3-2l2-1l4 3l-1 2l-3 1l-2 2l-2-1l-2 3l-6 0l-6 5l-2 0l-6-5l-2 1l-8-4l-4 4l0 2l2-1l2 1l-2 0l-2 2zM951 810l-2-1l2-1zM965 812l0-2l1 1zM1261 821l0-2l2-2l1 2zM953 821l-2 0l1-2l1-1l2 1l-1 2zM1075 824l-5-3l0-2l3 0l3 4zM1005 822l-1-1l2 0zM1253 833l-4-2l0-4l2-2l2 0l2-2l4 2l2 4l-2 2l-2-2l-2 3zM953 828l-2-1l4 0zM1079 828l-1-1l1-1l1 1zM854 833l-1-1l0 1zM955 834l-2 0l0-2l2 0zM863 839l-1 0l1 0zM907 839l-2 1l0-2zM1263 840l-2 0l0-2l2 1zM909 853l-6 2l-2-2l2-6l6-1l3-3l2 0l1 2l-1 4l-4 2zM1381 867l-6-2l-2-4l-2-8l2-4l2 0l-4-1l-2-3l0-2l6-1l4 5l-2 2l2 4l2 0l8-4l4 4l2 0l0 4l4 3l1 3l-5 2l-6 0zM925 849l-3 0l-2-2l3-1zM893 853l-3-2l3-1l2 1zM909 866l-6-3l-3-4l1-2l10 4zM907 879l-6-1l-3-3l-1-5l2 0l2 2l4-2l2 3l2-3l2 0l2 1l1 2l-1 1zM945 900l-2 0l-1-1l1-3l4 1zM907 946l-3-1l-2-4l-2-4l1-2l8 6l0 4zM901 951l-3 0l-1-2l2-2l2 0l2 2zM921 959l-2-2l4-1l0 2zM897 964l-4-1l4-5l2 3zM923 964l-2-1l2-1zM905 966l0-3l1 2z"/>
<path fill="#e4eb97" d="M931 839l-4-3l-6-1l-2-6l-2-1l-2 2l-4-2l-2 0l-2 4l-4-1l-4 1l-6-2l-2 4l-6 0l-4-2l-2 2l-3-3l-1-7l-2-1l-6 5l-2 0l-2-5l1-4l-1-11l-6-3l1-2l-3-2l0-1l2 0l2-3l0-4l-2-2l2-1l4 2l2-1l8 6l0-4l5-4l1-2l-2-2l-6 1l-3-1l3-9l2 0l6-5l4 1l10-1l2 4l2-4l4 1l2-3l-1-4l2-2l-1 0l-5-2l0 2l-1 2l-6-2l-1-2l4-6l-3-4l0-3l-4 0l-1-3l3-2l2 3l0-1l-2-2l0-6l1-4l-1-2l2-10l6 1l1-3l-2-2l0-2l2-6l-1-3l-4-3l0-5l6 2l3-1l0-6l3-1l2-3l-3-4l0-2l3-2l6 3l3-5l-1-7l-8-3l2-3l4-1l2-8l2-6l-2-10l4-8l-2-7l-1-1l4-4l1-2l4-1l2 1l-1 4l-3 2l2 2l6-1l4-5l6 5l4-2l2 2l4-4l2 0l2 1l-5 4l3 3l2-3l1 4l0 2l-3 1l-2 3l2 4l3 2l1 4l1-2l-2-4l1-5l4-1l2 2l2-1l3-3l-3-4l0-2l3 2l2 2l0 2l5 4l-2 2l-8 3l1 7l1 2l3-2l2-4l3-3l8-2l1-1l1-2l-2-4l-4 1l-4-5l2-2l6 2l8 5l2 0l10 3l2 0l0-2l8-8l0-2l-2-2l3-4l0-6l-2-2l1-4l2 3l1-1l-1-2l-2 0l0-5l4-5l4-2l-4-6l-4-2l0-4l-3-2l3-8l-1-4l1-8l-1-4l0-4l3-4l4-3l2-1l2 2l2-2l0-1l-2-3l4-3l3 1l5 8l8 4l4-1l4 2l4-2l4 2l6-2l2-3l4 1l6-2l2 0l1 3l3 4l2 0l-1 2l3 4l-1 6l4 2l1 2l-1 4l-4 8l1 2l4 2l-1 2l3 4l0 4l3 4l-1 2l0 6l-3 4l0 6l-1 2l-2-1l-1 1l2 6l4 4l-1 4l0 4l4 0l2 2l1 4l0 4l1 6l-3 8l0 4l1 1l1-3l3-3l2 0l-1-5l1-1l6 0l4 1l3 4l2 6l-3 2l0 2l6 3l1 3l-5 2l4 2l2 2l0 2l-4 1l-3 3l0 2l3 3l8 1l2 4l0 2l-2 2l0 2l4 2l4 4l5 2l4 8l3 2l-8 2l5 4l1 5l4-4l3 1l0 2l-5 6l3 2l-1 6l-4-1l-4 2l-2 7l-4 5l-6 3l1 2l-1 2l-2-1l-4 4l-9 1l-1 2l3 4l-1 2l-3 4l-1 4l-5 4l-1 8l-1-2l0-2l-3-1l-1 1l0 2l-3 4l1 6l3 0l1 2l-1 2l-4 5l-6-1l-2 2l1 6l-3 4l-2 1l-2-1l0-3l-6-3l-1-2l1-1l2-1l0-1l-2 0l-2 2l-1-1l0-4l1-1l4 1l1-4l-1-4l-4-4l-8 8l-10 1l-2 1l-2 5l-1-7l-3-2l-8 1l-2-5l-4-4l-3 2l0 2l1 3l2 1l1 2l-5 4l-1 0l-3-6l0-4l2-2l-2-2l-1 4l-1 2l-4-5l-4-1l-6 4l-2-4l-2-2l-6-2l-5 2l-1 3l-2 0l-1-3l-2-2l-3-7l-4 2l-2-2l-4 2l-4-4l-3 7l-3 1l-8-5l-2-4l-2-1l-2 3l-2 1l-8-3l-1 2l-1 12l-2 2l0 2l-2 2l-3 6l2 12l6 6l-1 2l-6 4l-2 0zM969 572l-2 1l-2-2l0-2l4-3l1 3zM965 581l-2-2l0-2l4 2l-1 2zM1063 583l-1 0l1 1zM1043 593l-2-3l-2-1l0 5l2 0zM907 609l-2 0l2-2l-3-6l9-4l2 1l1 3zM1088 605l-1 0l0 1zM929 612l-12-4l0-2l12 2l1 1zM919 614l-3-1l1-1l2 0zM1009 630l-3-1l-2-2l3-2l4 4zM1151 641l-2-2l-1-4l-2-2l3 0l1-2l1-4l6 2l1 2l-2 8zM939 639l0-6l-4 2l-1 2l1 1l2 0zM1020 643l2-2l-5-2l-1 4zM931 643l2-2l-4 2zM1092 647l1-3l0-4l-2 1l-2 6l2 1zM989 645l-2-1l-2 1l2 1zM1024 649l-1-1l-1 1l1 2zM1022 661l0-2l-3-2l-1 2zM1060 667l-1-1l-1 1l1 1zM1108 671l-1-4l-2 2l2 3zM964 683l-3-14l-1 0l1 6l-3 6l3 3zM969 677l-2-2l-1 2zM1112 677l-1-1l-1 1l1 2zM1063 679l-2-1l-1 1zM1005 685l1-2l-1-2l-2 1l-1 3zM1111 689l4-5l0-2l-2 0l-6 5l2 3zM1107 687l-4-2l-1 0l1 3l2 1zM995 697l5-8l-5-3l-3 7l0 2zM897 693l-2 1l-1-1l3-2l1 2zM981 695l-4-4l-5 0l0 2l1 2l6 1zM893 697l0-2l1 0zM904 707l3-2l2-8l-5 4l-2 4zM940 699l-1-3l-2 0l-2 3l4 1zM1053 699l-1-2l-1 0l0 1zM1008 707l2-6l-1-2l-2-1l-2 1l0 2l-2 1l-2-2l-1 1l0 2l3 1l4 5zM1020 707l-1-2l-4 0l4 4zM905 715l1-2l-3-1l-2 1l0 2l2 1zM908 723l-3-2l-1 2l1 1zM943 727l0-2l-2 2zM885 727l-1 0l1-2zM899 743l4-2l2-4l2 0l2-2l0-2l-2-2l-2 0l-1 4l-1 1l-2 0l-2-3l0-4l-2-1l-5 3l3 6l3 2l1 2l-1 2l1 1zM871 738l-3-1l1-2l4-2l0 3zM1141 739l-2-2l-2 0l-1 2l3 2zM919 743l-2-2l-2 2zM926 745l-2-2l-2 0l0 2zM903 751l4-2l-2-2l-4 4zM1111 757l2-2l-2-4l-11-2l0 2l3 4l6 2zM1125 753l-4-3l-2 1l-1 2l1 1l4 1zM919 757l1-2l-4 0l1 4zM923 757l2-1l0-2l-3 3zM1321 853l-10 0l-6-2l-4 2l-8-6l-6-1l-11-11l-4-6l-1-4l2-4l-2-4l3-4l2-4l5-6l2 0l6-7l2 0l4-4l2 0l6-6l2 0l6-5l4 0l4 3l1-1l0-4l1-1l10-2l2-4l2 2l2 0l3-3l-1-9l2 0l2 1l4-6l2 0l6 3l4-1l1 2l-6 2l5 7l6 0l6 3l1 2l-7 0l-2 2l-8 2l-1 2l-1 6l-4 1l-2 5l1 8l-2 4l3 6l1 8l-1 2l1 4l-1 6l3 2l-1 4l-4 4l-8 1l0 3l-5 2l0 2l-7 1zM918 765l-1-5l-2-1l-1 6l3 1zM889 763l-2 0l4 0zM1079 767l3-2l-1-2l-2-1l-2 1l0 2zM1017 771l-3-6l-2 0l3 6l2 1zM1133 770l0-3l-2-2l2 0l1 0zM991 775l2-2l-3-2l-1-3l-2 0l-2 1l3 2l2 2l1 3zM1091 775l8-3l1-3l-3-2l-2 0l-6 6l-1 2l1 1zM1354 771l-1-2l-3 0l0 2l1 1l2 1zM933 777l10-4l0-3l-6 0l-4 2l-4-1l-2 1l-2 5zM971 785l1-6l3-4l-1-2l-3-1l-2 1l2 8l-6 2l0 2l4 2zM996 775l1-2l-2-1l-2 1l2 3zM1076 779l-3-6l-2 0l-3 2l3 3l2 0l2 1zM1050 777l2-2l-3-2l-2 2l2 3zM1346 781l1-2l5-2l-3-4l-4 3l-2-1l-2 2l0 2l1 2l3 1zM1379 779l-3 0l-3-4l4-2l2 1l1 3zM1385 777l-1 0l1-2zM1001 785l1-2l0-2l-1-1l-4 1l-2-3l0 6l4 2zM1036 791l1-4l-2-2l-2 4l2 3zM930 795l6-2l-1-1l-4 1l-4-1l-2 1l2 2zM975 795l-3 0l1-3l3 1zM555 801l-2 0l-2-1l0-4l6 3zM959 799l-2 0l2 0zM969 803l-2 1l-3-1l0-2l1-3l6 2l0 1zM987 800l-1-1l1-1l2 1zM1109 805l-4-2l0-3l2-3l4 3l0 5zM993 828l-4-2l-2-4l-4 0l-2 3l-4-2l4-4l2-5l4-4l6 5l0 2l-3 4l1 1l2 1l6 0l1 2zM1015 823l-4 2l-1-2l1-2l2-1l2 1zM921 823l-2-1l-2 1l0 1zM973 826l-2-1l2-2l1 2zM971 833l-3-4l0-2l1-1l2 2zM851 838l-3-3l-2-6l1-1l2 0l1 1l1 4l1 2l0 2zM938 829l-3 0l2 1zM1251 830l0-2l1 1zM932 831l-3 0l2 1zM857 840l-2-1l2-6l2 1l0 3zM903 853l0-3l2 0l1 1zM1389 863l-4 2l-4-4l-6 2l-2-10l2-1l4 3l6-1l4-4l2 1l1 2l0 2l-2 2l1 4zM907 863l-3-2l1-1l4 3zM1395 863l-2-2l2-1l1 1zM905 877l-2-1l-2 0l-1-1l1-2l7 2zM911 874l-2 0l0-1l2-2l1 2zM909 943l-2 2l-2-2l0-1l2-1z"/>
<path fill="#f5f7ab" d="M927 834l-5-1l-1-4l-3-2l3-1l6 1l5-4l-1-2l-8-1l-1-1l0-2l-1-1l-6 7l1 4l-1 1l-10-3l-2 3l-6 2l-6-2l-1 1l0 2l-1 1l-2 0l-2 0l-4-2l-2 1l-2-2l0-4l-2-3l-6 0l-4-4l-1-5l1-4l1-2l5 0l2-2l-6-6l0-2l2-1l4 2l2-5l4-3l2-3l-2-4l-3 0l0-2l1-4l3 0l1-3l10-1l4 4l2 0l2-3l2 0l2-2l2-6l2-3l-1-2l-5-1l-2-3l-2 0l-2 6l-4-1l5-7l-4-6l1-4l0-4l-2-2l0-4l2-1l4 7l-2 2l1 2l4 2l-2 4l0 4l1 1l4-3l4-2l4 2l3 4l-1 2l-1 6l2 2l5 2l0 2l0-6l-1-4l1-2l6 3l0-3l1-2l1-4l-2-2l-4 3l-2-1l-2-2l-6 1l-3-3l1-2l-1-2l3 0l2-2l2 2l8 2l2 0l4-2l2 0l1-2l-3-2l-2 2l-11-4l-5-4l-2-5l-8-2l-2-2l-6 3l-2-1l0-1l2-4l4 1l3-3l1-2l2-1l6-5l-2-3l-2 1l-2-2l6 0l1-2l1-2l-2-2l2-6l0-6l-2-4l-4-2l2-2l10 3l1-1l-1-2l1-4l-2-8l1-2l0-2l-2 2l-1-2l2-6l0-4l2-6l-1-10l3-8l1-6l4 3l6-1l3-2l1-3l2 1l2 3l10 0l3 5l-2 4l1 2l0 4l3 2l1 4l2 3l1-1l3-7l2-1l1 4l-1 6l0 2l2 1l2-1l1-2l3-2l2-6l4-2l4 0l1 2l7 3l1-3l-1-2l-3-2l4-4l3-1l12 3l2-4l3-2l4-6l-1-6l1-2l1-7l2 0l2-1l-3-12l3-2l3 0l1-2l-4-6l-4-2l2-4l-6-2l3-8l-1-6l0-2l3-2l-3-8l2-2l-1-2l3-4l7 0l2-2l0-4l1 0l1 2l13 9l6 0l4 2l4-1l4 2l1-2l5-2l2-2l6 0l4-2l2 1l4 5l-1 2l4 4l-1 6l4 3l1 3l-7 12l-2-1l-2-2l-4 1l-1 2l7 1l8 3l2 4l3 14l-3 1l-2-2l-2 0l-3 1l0 2l5 1l1 1l0 4l-1 2l-3 0l-1 4l3 4l1 4l3 2l0 2l-2 4l-1 8l-2 4l3 4l0 4l7 6l-1 4l1 2l2 2l1 0l3-6l1 8l4 4l0 4l2 4l-3 2l-4-2l-2 0l-2 2l4 6l4 2l2 0l6-7l2-6l6 0l0 2l-5 5l-1 2l4 3l7 1l1 4l-1 4l0 2l11 8l-1 12l7 4l2 8l-2 5l-3-3l-3-1l-4 1l1 4l5 2l1 2l-2 8l-3 4l-2 0l-2-2l0-2l-2-1l-1 1l5 4l-5 2l-2 4l-1 0l-2 3l-8 1l-4 2l0 2l3 6l-3 4l1 2l-7 7l-7 1l-1 3l-4-2l-1 5l3 1l2 9l3 2l-3 3l-6-1l-3 2l1 8l-2 2l-7-6l1-4l2-2l-2-2l0-6l2-2l2 0l1-2l-3-2l-4-1l-2 2l-2-1l-10 10l-10-1l-1-1l1-1l0-2l-2-1l-4 1l-6 3l-2-6l-5-4l1-8l-1-2l-3-1l-3 3l0 6l-2 2l-3 1l-2 1l-4-4l-6 5l-2 0l-2-3l-5-2l-3-3l-6 3l-2-2l1-2l1-2l6-1l1-3l-2-4l-6-2l2-4l-1-1l-4-1l-2-2l2-4l-1-2l-3 0l-4 2l-2 4l1 2l4 2l1 4l3 4l-1 2l-4 3l-1-1l0-2l-1-1l-6 4l-1-1l-3-6l2-3l2 0l1-3l-1-1l-2 1l-2-2l-2-8l-3 2l1 3l2 1l-4 2l-1 2l1 6l-1 2l-7 1l0-3l-4-3l-2 3l0 4l-2 2l-9-4l1-8l2-4l4-1l4 2l3-1l0-2l-2-2l3-3l0-1l-2 0l0 2l-6 3l-4-3l-2 0l-4 6l-2 0l-2-2l-4 3l-4-1l-7 8l0 2l3 1l16-4l1 1l-1 2l2 4l-2 4l1 8l-1 2l-5 2l-1 10l-6 6l8 1l0 5l3 4l-1 2l-4-1l-2 3l-4 0l-1 2l0 2zM1060 557l-1-2l-1 2zM1060 577l-2-4l0-4l-1-1l-2 3l0 4l2 2zM1065 585l0-2l-2-3l-2 1l-2 4zM1040 597l3-2l2 0l3-4l-5-1l-2-2l-3 1l0 8zM1029 591l-2-1l-1 1l1 1zM909 606l-2 0l-2-3l0-2l4 1zM913 601l-1 0l1-2zM1081 619l0-3l-2-1l-1 2l1 2zM979 631l-2-2l4 0l0 2zM1153 639l-2 1l-1-3l-1-4l2-5l3 1l2 2l-1 6zM930 645l7-6l2 2l3 0l0-8l-3-3l-5 5l-1 4l-6 4l0 2zM1014 647l3-2l4 0l2-3l4 3l1-6l1-2l3 0l0-2l-1-1l-4 4l-6 0l-3-1l-1-2l-1 2l-1 6l-3 2l0 2l1 1zM967 640l-1-1l1-2l5 0zM1097 651l-3-4l0-4l3-4l2 4zM1047 645l0-3l-1 1zM1061 647l2-3l4 1l0-2l-4 0l-2 1l-4-2l-3 5l1 2l4 0zM1023 661l1-2l3-2l3-4l0-2l-3-1l-4-4l-2-1l-1 4l3 6l-2 1l-4-1l-1 4l1 2l4 2zM1044 651l1-2l-2-2l-4 1l0 2l2 2zM1061 657l0-2l-2-5l-1 1l-1 4l2 3zM939 663l2-2l0-2l-2-3l-2 0l-1 1l3 4zM995 661l4-2l-2-3l-3 1l-1 2l0 2zM1111 674l-2-1l2-10l-4-2l0-2l2-4l2 0l2 2l2 1l2 3l-1 4l-4 2l0 2l1 4zM961 663l0-2l-2 0l-1 2l1 1zM1008 663l-1-3l-3 1l-1 2l4 1zM1062 669l1-6l-6-3l-2 0l-1 1l1 4l2 4l4 1zM950 669l-1-2l0 2zM965 685l1-2l-1-4l4 0l2-2l-3-4l0-4l-5 0l-2-2l-3 2l1 6l-2 8l4 3zM1006 673l5-2l0-5l-9 5zM913 669l0-1l2 1zM1121 675l-6 2l-2-4l4-3l2 1l3 2zM924 681l1-2l-2-2l0-4l-2 0l-1 2l1 2l-2 4l2 2zM931 677l0-2l-2-3l-2 1l1 4zM945 675l0-3l-3 1zM1062 681l2-2l-1-3l-2-1l-6 1l-2-3l-2 1l-3 5l1 1l4-3l2 1l2 3l2 1zM1028 679l0-2l-1-1l-2 0l0 3l2 1zM1020 717l2-2l1-8l2 3l2 0l2-6l-2-1l-2 2l-2 0l-4-2l-4-4l-5-2l-1-2l-10 4l-1-4l1-2l4-6l4-2l0-2l1-2l-3-2l-4 2l0 2l-2 2l-6-2l-2 5l-6 1l-6-2l-4 2l-4-1l-3 1l3 6l8 2l4-2l-1-2l0-2l3-2l3 4l0 2l3 1l4 4l3-1l0 4l7 7l2 0l2-1l1-4l1-2l8 8l1 2l-2 2l1 2zM1019 689l3-2l0-2l-1-1l-6 3l0 2zM1055 691l1-4l-3-1l-2 1l-1 2l1 2l4 1zM940 701l2-2l-1-2l4-7l-4 1l-3 2l-3 4l-1 2l1 1zM1034 691l-3-1l-1 1l1 1zM1038 695l0-2l-1-1l-2 1zM1056 699l5-2l0-2l-2-2l-2 0l-2 2l-4 0l-2 2l2 3l2 0zM907 697l-2 0l0-2l2-1zM925 701l2-2l-2-2l-5 2l-1 2l4 1zM917 715l1-8l-1-2l-2 2l-2 8zM1007 715l0-1l-1 1l1 2zM944 727l3-6l-4-3l-2 3l-1 6l1 2l2 0zM909 725l2-2l-2-2l-4-1l-2 0l-1 1l3 6zM924 721l-2 0l1 2zM937 735l-6-4l2 4l2 1zM1153 731l-2 1l-1-1l1-1zM901 734l0-2l2 1zM905 745l-2 1l-2-1l6-6l1 0l-1 6zM950 749l5-2l0-2l-6-3l-4 7l2 2zM1111 759l3-2l1-3l0 1l4 2l4 0l2-1l1-3l-6-4l-3-3l-6 3l-4-4l-2 3l-6 0l-4 7l2 3l4-4l8 5zM960 755l3-4l0-2l-2 1l-6 1l-1 2l3 2zM974 759l-1-1l-1 1l1 1zM1000 763l-1-3l-2 1l-1 2zM1077 783l3-2l-5-6l4-5l6 0l1-1l-1-3l-2-1l2-4l-2 1l-6-1l-2 8l-4 1l-4 2l-4-2l-2 1l1 4l-3 2l0 1l2 1l2-2l4 0l6 4l2 2zM1020 773l-5-8l-4-3l-3 1l0 2l3 2l2 5l4 2l2 0zM937 765l0-1l0 3zM1005 767l1-2l-3-1l-1 1l1 4zM1090 777l9-4l5-6l0-2l-1 0l-4 1l-4 0l-8 7l0 3zM1347 769l-4-2l4-4l3 2zM1030 769l-1-1l-2 1l2 2zM1052 777l2-2l-1-2l-4-1l-3 1l1 5l2 1zM1109 775l1-2l-1 0l-1 0zM1359 776l-1-1l1-1l1 1zM1010 781l2-2l-3-1l-2 1l1 2zM1025 779l-2-1l-1 1l1 2zM1095 783l3-2l0-2l-3-1l-1 1l-1 4zM1321 852l-8 0l-8-2l-4 0l-8-5l-5 0l-5-6l-5-4l0-4l-4-6l1-4l-1-4l4-8l8-6l3-6l2-1l4-3l2 0l6-7l2 0l4-4l2 0l6 3l4 0l2-2l-1-4l7-1l3 1l1 3l3-1l3 3l2-2l2 1l2 2l1 6l0 4l1 4l-2 4l-1 4l3 2l1 4l0 4l-3 4l0 2l3 2l-2 6l2 4l-1 4l-4 1l-6 0l-10 9zM1033 781l-2-2l-1 2l1 1zM1351 785l-2-2l0-3l2 1zM871 785l-2-2l2-1l1 1zM1328 783l-1-1l-1 1zM922 801l1-5l4 1l2 3l3-1l1-3l2 0l3-3l2-6l-3-2l-2 0l-1 4l-3 1l-2-1l2-2l-2-3l-2 0l-2 5l-6 0l-1 2l4 4l-5 4l1 2l3 2zM1046 793l0-2l-3-7l-4 3l0 2l6 5zM1336 789l0-2l-1-2l-1 2l1 2zM1069 791l2-2l-4-3l-1 1zM969 790l-1-1l2 0zM863 803l-2-3l0-5l4-2l3 2l-1 2l-3 0zM1050 797l2-2l-3-3l-2 3l2 2zM1068 801l-1-1l-1 1l1 1zM1035 809l-2 2l0-5l2 2zM1087 811l0-2l-2 2zM989 819l-4 1l-1-1l1-4l2-2l4 2zM1013 823l-2 0l2-1zM907 829l-3 0l3-1zM1296 843l1-2l-4-4l-2 1l-2-1l-2-4l-2-2l0 4l4 2l1 4l3 3l2 0zM849 835l0-1l2 1zM931 838l-2-3l2 0zM1332 837l-1-3l-2 0l0 2l2 2zM1387 863l-4-4l0-2l5 0l0 4z"/>
<path fill="#fbf9b0" d="M1109 785l-7-8l-5 0l-1-2l3-1l6-5l1-4l-1-2l-6 1l-4 0l-6 6l-2-1l0-2l0-2l2-2l-4-5l-8 2l-3 7l-7 4l-8-3l-2 1l-2 3l-4-1l-7 0l-1 2l3 4l-1 4l-4 0l-2 3l-2-1l-2-4l-4-1l-4 1l-5-4l-5-10l-6-5l-6 2l-3-1l-1-2l-2-1l-6 4l-4-2l-2 1l-4-2l-2-1l-1 1l0 2l-1 4l-2 2l-2-4l2-4l-2-2l-4-1l-1 3l1 2l-3 2l-1 2l3 4l-4 2l1 8l-2 1l-5-3l5-8l0-3l-4-1l-1-4l-3-4l-3 6l-3 1l-2-1l2-2l0-3l-7 1l-1-5l-2 1l-1 2l4 4l-3 5l-4-9l-4 0l-1 2l3 4l-1 4l-1 1l-4-1l-6 5l-2-1l0-4l2-2l4-1l1-1l0-6l3-5l4-3l-2-2l0-4l-4-5l-2-1l-2-2l-2-1l-2 5l-2 0l-5-4l-3-6l2-3l4-1l1-4l-1-1l-4 1l-2-2l-4 0l-1-2l3-2l4 2l6-1l0-7l2-4l6-3l2-3l-1-2l-3-1l-8 1l-1 4l-3 2l-2-2l2-4l0-10l4 2l14-10l2 0l2 2l1 0l1-2l-3-2l0-2l1-1l4 0l2 1l4 5l2-1l1-6l1-1l8 4l0 1l0 2l-2 2l-4-3l-4 3l0 4l-4 4l-8 3l-2 7l0 2l2 1l4 1l6-2l-2-4l6-8l4-3l10 2l4 3l4 6l4-1l4 2l10 0l3 3l1 4l10 6l-2 2l4 5l2 0l2-1l-1-6l3-2l6 2l-3 4l3 4l2 0l4-2l2-4l2 0l2 2l2 0l3-4l-4-4l1-3l4 0l4 1l-2-2l-4-2l-10 2l-4-2l-1-4l3-2l1-6l3-4l-2-2l-11 0l1 2l0 4l2 2l6 0l-6 5l-2 1l-4-6l-1 0l2-2l-1-4l1-4l-5-4l-4 1l-4 4l-2-2l-2 0l-2 2l0 3l-4 2l-10-2l-2-5l-4 5l-2-2l0-2l3-4l-2-4l1-6l2 0l2-2l-2-1l-2 0l-2 3l-5 0l-2-2l3-4l-4-4l2-1l2 1l4 5l2 0l1-3l-1-3l4 0l4 6l2 1l2-2l2-5l5 1l1 2l0 2l2 2l6-1l2 4l2-1l2 2l-8 4l-1 4l1 1l6-2l2 2l4-3l3 0l1-6l4-3l6 0l2-5l5-2l1-2l2 1l1-1l0-2l-3-3l-2-1l0-2l6-1l6 8l4-2l4 1l6 18l1 0l-5 2l-3 4l0 4l2 2l0 4l-6 8l1 1l2-1l1 4l5 3l4-2l4-1l1-2l-1-5l-3-1l-1-2l2-1l2 2l5-11l-4-6l3-6l4 4l2-2l1-2l-8-6l-1-2l2-1l0-3l-3-6l2-2l5-2l0-2l-6-3l-2 1l-4-1l-2 4l-4 3l-2-4l2-4l0-3l-8 7l-2 0l-4-3l-6 1l0-2l3-2l-1-4l-2-2l-4 5l-6 1l-1-2l-3-2l-4 3l-2 0l-1 3l-1 1l-2-1l0-2l11-12l-3-2l-2-2l2-7l4 1l3-6l-1-6l-3-2l-1-2l2-1l2 1l2 4l4-2l2 2l1-2l3-2l6 0l4-1l2 1l4-6l4-1l0-1l-4-2l-6 0l-2-2l-2 0l-6 2l0 2l2-1l1 3l-5 3l-4 1l-2-1l0-2l2 0l4-3l-4-2l-3 0l-1 2l-5-10l-5-1l-1-1l4-6l-1-6l3-2l0-2l-2-4l1-6l-2-2l2-2l4 1l8-5l7 4l5 5l6-1l6 3l2-1l4 4l2 1l1-1l0-6l3 0l2 0l-3 6l1 4l2-1l2-7l-2-2l0-2l2-1l4 0l4-2l4 3l0 4l3 4l0 6l4 4l0 2l-3 4l-2 5l-4-1l-4 1l-2 1l-1 4l7 0l4 3l4-1l2 2l1 4l-2 4l2 4l-11 5l0 1l4 1l5 3l-4 2l-1 5l-2-5l-4 2l0 2l1 4l-4 2l0 2l3 0l2-3l7 1l1 2l-2 4l2 4l-5 4l5 5l-2 0l-2 1l5 8l0 4l1 2l6 4l-1 6l13 9l0 6l-8-1l-2 1l0 5l2 4l6 6l0-2l8-2l4-4l4 3l6 1l1 4l-2 4l1 2l2 3l7 5l0 4l-1 1l-4 1l-1 2l1 1l4-2l1 1l-1 3l-4 0l0 1l0 1l4-1l8 4l2 8l-2 1l-6-2l-3 3l0 4l-3 2l2 2l4-2l2 0l1 2l-1 6l-2 2l-2 1l-3-3l-7-6l-2-4l-4-1l-8 5l-4-3l-4 4l-4 0l-2 1l-4 8l2 4l2 0l4-3l8 5l2 0l4 4l-5 6l-3 0l-1 2l1 2l2 1l4-2l2 3zM1060 587l5-1l1-1l-1-4l1-6l-1-1l-4 0l-1-1l2-6l-2-4l-1-1l-5 3l0 4l-1 3l-2 0l-1 1l0 4l3 4l0 3l2-1l-2-2l1-2l5 2l-1 6zM1080 599l0-2l-3-2l0 4zM1057 611l0-4l-2-1l-2 5l2 1zM1057 623l2-4l3 0l-1-1l-2 1l-6-1l1 5l1 1zM1061 633l3-2l0-2l-5-1l-2 2l0 1l2 2zM941 671l-6 0l-2 1l-2 0l-4-6l-2 6l-6 0l-1-1l1-4l-2-4l1-4l-1-2l2-5l2-1l-3-10l3-7l4-1l2-2l4 0l2 2l-2 6l-6 4l0 2l2 2l4-1l6-6l4 2l1-1l1-5l2 0l1 1l2 8l-2 4l0 2l-3 4l-2 0l-4-5l-6-1l-2 2l-4-2l-4 2l4 4l4-4l3 4l-3 3l0 3l2 2l4-1l2 1l-4 2l2 2l2-2l2 1l4-2l2 0l2 1l-2 4zM949 634l-3-3l1-1l2-1l1 2zM1013 659l-2 1l-2 0l-2-3l-2 0l-2 2l-6-4l-4 0l-4-2l-8 2l-6-1l-2-3l0-3l2-3l2 0l2 2l6 0l4 3l3-3l-1-6l6-3l4 0l5 3l0 4l3 1l6 5l-1 4l0 4zM1013 643l-2 0l-1-2l1-2l2 0l1 2zM1097 645l-1 0l1-2zM951 664l-4 0l-1-1l3-2l-6-2l-1-2l1-2l6 2l2-5l2-1l2 2l3 6l-3 3l-2-1l-4 0l2 1zM1111 659l-2 1l0-3zM992 669l-1-1l0 1zM1057 674l-1-1l1-2l2 2zM1119 673l-2 1l-1-1zM1030 681l0-6l-1-1l-4 1l-2 2l2 4l2 1zM1040 685l-5-6l-3 0l-1 2l4 4l2 1zM1055 684l-2 0l-2-1l2-3l2 1zM1117 688l1-7l1-1l2 1l-1 4l-3 2zM1005 695l-3-2l1-4l2-1l2 5zM1028 697l5-3l6 2l1-1l1-2l-5-4l-7-2l-5 4l3 2l-3 2l3 3zM922 691l-1-1l-1 1zM945 739l2-5l3-1l-5-4l1-4l2-2l1-2l-3-4l2-4l-5-1l-6-4l-6 5l0 2l2 2l1-2l3-3l3 1l0 2l-1 2l-4 2l4 4l-1 4l1 4l-2 2l-2-1l-4-4l-3 1l0 2l3 5l4 2l6 3zM926 723l0-2l-3-2l-2 0l-1 2l3 3l2 0zM920 733l-1-3l-2 1l1 2l1 1zM963 755l4-4l1-4l-5-1l-4 3l-2-2l-1-4l-5-3l-4 1l-2 5l-2 1l-2-2l-2-1l-1 3l0 2l5 2l8 6l4-1l2 1l4 0zM895 750l-1-1l1-3l1 1l0 2zM913 750l-3-1l3-3l1 1l0 2zM1125 750l-3-1l0-2l3-2l2 2l0 2zM909 759l-2 0l-3-2l1-4l2 0l5 4l-1 2zM1131 757l-2 1l-2-1l2-2zM1123 764l-2 0l0-1l2-3l1 3zM1005 778l-7-1l1-4l-1-2l-5-2l2-4l4 0l1 2l1 3l2 1l6-3l1 1l-1 4l0 2zM1031 771l0-4l-6-4l-2 2l4 6l2 1zM887 831l-6-3l-2 1l-2-6l-10-6l-1-6l1-2l4 1l2-2l1-3l-2-4l3-4l2-5l2 1l0 2l10 0l2-2l-1-4l1-1l4 1l0-4l-2 0l-4 3l-2 1l-1-2l-3-1l-2-3l1-4l1-1l4 1l1 0l1-2l8 1l6-4l2-3l2 0l4-5l5 3l1 9l4 2l4 1l0 4l-2 2l-4-3l-4 0l0 3l-4 4l-2 1l-2-4l-2 0l-9 7l5 4l6 0l2 2l4-3l1 3l-1 2l-2 0l-2-2l-1 2l1 2l6 0l2-1l6 1l4-4l4 0l3 2l-1 6l-2 3l-4 2l-2 1l-2-3l-2 0l-2 3l-2 1l-6 1l-1 2l3 2l0 2l-2 2l-6-2l-4 4l-2-1l-2 1l-6 0l-2 1zM953 782l-4 0l-3-1l0-2l3-5l6-2l2 1l-3 4zM981 783l-2 1l-1-3l5-8l4 2l0 4zM1079 778l-2-3l2-3l2-1l4 2l0 2zM1015 797l-9-6l1-4l3-4l5-4l0-2l2-2l3 2l0 2l2 4l-3 3l-2 1l-2-1l-2 1l2 3l2-2l2 0l2 3zM1067 806l-9-1l0-8l4-2l-7-2l-2-4l-6 0l-1-4l7-7l2-1l2 3l2 1l6-2l5 2l1 2l0 2l-2 1l-2-1l-3 2l5 6l2 0l1-2l1-4l8-3l7-1l-5 0l-2-2l1-2l3-2l6 2l0 3l-2 1l2 2l6-1l4-3l2 0l1 2l4 2l-1 3l-2 1l-6 1l-4-1l-2 1l-1 7l-1 3l-4-4l-4-1l-6 1l-6 4l-4-2l-2 1l-1 2l3 3l1 1zM935 784l-2 1l-2-1l-1-3l1-2l6 1l1 1l-1 2zM1029 794l-4-1l-2-6l1-4l3-4l5 6l-2 4l1 2zM1323 849l-2 1l-8 1l-15-4l1-6l-9-8l4-4l-1-2l-2-1l-4 3l-2-2l-4 1l-4-3l-1-8l1-2l4-3l1-3l3-3l4-2l2 1l2 0l0-3l-4 0l0-1l1-4l5-4l4 0l3-6l3-1l4-3l6 3l16 0l4 8l6-5l0-2l0 2l2 0l1 2l1 6l-4 4l1 6l2 4l-1 4l2 2l-2 6l3 4l-8 4l0 2l1 4l-4 0l-4-5l-6-2l-2 1l-1 2l0 2l5 2l2 6l-2 4zM883 790l-1-1l1-1l2 1zM999 790l-1-1l2 0zM919 795l-2 2l-2-1l-2-3l2-3l2 1zM939 796l-1-1l1-1l1 1zM1055 799l-2 1l-4-1l2 0l2-4l2-1l2 3zM1047 802l-3-3l1-2l2 0l2 2zM900 803l-1-2l-2 2l2 1zM1091 810l-4-4l-2 1l0-4l4-2l4 2l2-1l2 3l0 3zM871 813l0-1l-1 1l1 1zM1087 818l-2-2l0-2l2 1l2 2zM929 819l-3 0l1-3l2 2l1 1zM935 824l-2-1l0-4l2-1l1 5zM1321 823l-2-1l0 1zM933 825l0-1l1 1zM1286 825l-1-2l-4 2l4 2zM931 827l-1 0l1-1l1 1zM1314 833l0-2l-1-1l-5 1l1 2zM1281 835l0-2l1 2zM1343 836l-2 1l-2-2l4-2l1 2z"/>
<path fill="#f5e89d" d="M1045 588l-4-2l-8 0l-4 2l-6-1l-4-7l-4-1l-1-2l3-4l0-6l4-2l-1-2l-3-4l1-6l1-1l2 0l6-6l2 0l8 5l-1 2l-2 2l2 2l3 0l3-2l5-1l6 4l2 0l2 1l0 2l-4 2l-2 6l-3 2l1 6l2 6l-2 2zM1069 585l-2-1l-1-3l2-4l0-4l-6-2l4-4l3-6l1-6l-1-4l6 1l2-3l3 2l0 6l3 2l0 3l-3 1l-1 2l4 0l3 4l1 2l-6 6l-9 2zM1043 642l-2-1l-2-2l1-2l3-2l0-2l-4-1l-2 1l0 4l0-2l-2-1l-2-5l-4 1l-4-1l-2 5l-5-3l-1-2l3-4l0-2l-5-2l0-4l2-1l4 4l2 1l0-10l1-2l0-4l3-1l8 1l0-4l6-1l4 0l4-5l4 2l2-1l0-3l2-2l6-4l6 2l4-2l4 3l6 1l4-2l1 2l-3 4l3 6l-3 2l-3-2l1-4l-6-5l-2 1l0 6l5 4l-3 2l0 2l2 4l-4 6l2 2l-6 4l1 4l-5 2l-2-2l-6-1l-4 5l4 4l2 0l1 2l-1 1l-4 0l-2 1l-4-6l-4 6zM1033 602l-1-1l3 0zM1050 631l3-6l4 0l4-3l5 1l-11-22l-2 1l-4 12l-8-2l-4-5l-2 2l0 2l2 4l6-1l1 1l0 2l1 2l4-2l2 2l1 2l1 4l-5 2l-2 4l3 1zM1066 609l0-4l-1-1l0 5zM1031 611l0-2l-2-2l-3 2l3 3zM1083 629l-3-4l3 0l1 2zM1079 633l-4-2l-1-2l1-1l2 0l3 3zM921 647l-2-6l2-4l4-2l2-3l4 1l-1 6l-7 3zM1035 777l-8 0l-3-2l-3-4l-1-4l-9-8l-4 2l-2 0l-4-4l-8 3l-2-3l-2 0l-2 2l-4-2l-6 0l-4-2l3-4l-1-1l-2 0l-2 2l-1-5l-1-2l-10 1l-3-5l-3-1l-2-3l-2 0l2 0l0-4l-5-6l4-4l-1-6l1-4l-9-5l-2-2l-4 0l0-1l2-2l2 2l4 0l3-4l0-4l2-4l5-4l4-1l10 4l1 5l3 4l2 0l0-2l2-2l6 2l4 2l4 0l2 2l0 2l8 6l-2 4l2-1l6 5l8 0l4 6l1 0l2-4l11-4l8-9l1-3l0-6l1-1l2-1l10 7l4-3l2 0l2 1l3-7l-2-4l5-10l1-2l-3-4l6-4l2-4l-1-2l-6-4l0-6l-2-4l0-2l3-2l4 0l1-4l-6-4l2-2l0-4l5-1l4 4l5 3l-1 4l6 8l-1 10l3 1l2-1l1 6l5 4l-2 2l3 4l-2 2l-1 8l4 6l0 3l6 4l10-3l2-2l-1-2l2-2l1 0l7 2l1 2l-2 6l1 2l3 4l6 4l0 2l-6 4l-1 2l1 6l12 2l2 2l0 4l-2 1l-2-2l-6-2l-1 1l-1 4l2 4l-4 4l0 2l-3-2l0-2l1-2l-2-1l-4 0l-4 1l-1-2l-3-1l-6 3l-4 5l-6 1l-5 8l0 2l1 4l-2 2l-6-8l-4 5l-4 1l-4 6l-4 3l-2 1l-6-1l-4-5l-2 2l-1 4l-1 1l-4-1l-6 0l-4 2l2 2zM1081 633l-2 0l3 0zM1009 656l-6-3l-2 2l-4-2l-4 0l-3-2l3-4l0-5l6-3l5 2l0 6l1 2l4-1l4 3l0 2zM1053 645l-2-1l-1-1l3-4l2 0l-1 4zM943 652l-2 0l-4-4l-4-1l2-4l2-1l2 1l2 0l2-1l2 1l-1 8zM923 647l-2 0l2-1zM981 653l-6-1l-1-3l1-2l5 4zM987 652l-2 0l-1-3l1-1l2 1l1 2zM1037 652l-2 0l-2-1l-1-2l1-2l2 0zM921 657l-2-2l2-1zM1019 682l-8-2l-3-3l1-2l5-2l0-4l1-1l8-3l2-4l2-1l4 0l6-5l4 2l4-3l2 0l2 1l1 2l-1 5l3 3l1 4l-6 7l-4 1l-4-4l-2 6l-5-2l-3-5l-2 0l-4 3l-1 4zM957 659l-2 1l-2-1l0-4l3 2zM987 685l-4-1l-4 0l-1-3l0-4l-3-1l-3-3l2-4l10-6l1-4l2-1l2 1l0 2l4 4l4-2l3 4l-3 1l-4-3l-4 2l2 6l2-1l1 1l0 4l-3 3l-1-1l0-4l-1-1l-1 5l0 4zM921 670l0-3l-2-4l4-2l2-2l2 2l-1 2l-5 4l2 2zM975 662l-2 0l0-2l2 0l1 1zM967 665l-2 0l2-2l1 2zM933 670l-2-1l-1-2l1-2l3 4zM943 668l-2-1l2-1zM929 696l-7-1l0-2l3-4l-2-2l2-2l2 0l2-2l0-2l2-1l4 3l2 0l1-2l-1-4l2-1l2 1l1 4l2 2l0 2l-5 5l-4-1l-2 4zM1101 678l-1-1l1-1zM1031 685l-2 0l2-2l1 2zM917 694l-2 1l-2-2l2-3l3 3zM1013 695l-2-4l2 0l1 2zM1037 699l-2 0l-2-2l3 0l2 2zM1025 701l-3 0l0-2l1-1l2 0l1 1zM1119 705l-1-2l-3-1l-1 1l1 2l2 1zM929 719l-2 1l-1-1l0-2l1-2l-6-1l-1-3l1-3l2 0l2-3l10 2l-8 8l2 2zM1033 707l0-1l1 1zM1011 714l-1-1l1-2l1 2zM909 718l-2-1l2-1l1 1zM925 732l-3-1l1-2l-4-1l-2-1l-2 3l-2-1l2-2l2 0l4-3l4 3zM935 731l-1-2l1 0zM927 735l-1-2l1-1l1 3zM935 747l0-6l2 2zM1137 752l-2 0l-3-3l1-2l4-2l2 2l0 2zM939 754l-2 0l-1-1l1-2l2 0l1 2zM909 757l-3 0l0-2l3 1l1 1zM963 764l-1-1l0-4l3-5l2 1l1 4zM1101 761l-4 0l4-3l2 1zM1031 773l2-2l0-4l-6-5l-4 1l-2 2l0 2l6 6zM1109 770l-2-1l2-6l3 2zM925 769l-2 0l1-2l1-1l2 0l1 1zM997 770l-3-1l1-3l4 1l0 2zM1091 767l-2 2l-1-2l1-1zM913 782l-4-3l1-2l-5-2l4-3l2-4l3 1l1 2l-1 4l1 4zM1007 775l-6 1l-2-1l2-3l5 1zM965 777l-2 0l2 0zM983 779l0-3l2 1zM905 787l-2 1l-4 0l-1-9l3 0l1 2l3 2l1 2zM949 781l-2-2l2-2l2 2l-1 2zM887 785l-4-1l-1-3l1-1l5 1l1 2zM933 783l-1 0l0-2l2 0zM1019 784l-7-1l3 0l2-4l3 2l0 2zM1073 798l-2 0l-7-1l-1-4l-6-2l-4-4l-4-2l4-5l6 2l6-1l1 2l-3 4l6 7l2 0l6-6l4-2l13 1l-3 3l-4 0l-2 3l-8 1zM923 784l-2-1l2-1l1 1zM1027 788l-2-1l2-5l2 3zM913 787l-2 2l-2-1l-1-3l3-1l2 1zM1049 787l-1 0l1-2l1 2zM1101 787l-2 0l3 0zM1305 788l-2-1l3 0zM1015 796l-7-5l1-3l2 0l2 4l3 1zM1303 841l-2 0l-2-4l-2-10l-5-4l-3-5l-10 4l-1-5l1-2l4-2l1-4l3-2l6 2l4-8l-3-4l5-2l4-5l4-1l2 2l6-3l10-1l5 2l3 7l2 1l6-4l0 2l-2 4l-1 6l-3 2l1 6l-1 4l2 2l2-3l2 0l2 3l-2 3l-6 3l1 4l-1 2l-4-2l-1-4l-1-1l-6 3l-2-2l6-6l1-4l-3 0l-2 3l-2 0l-1-3l-3-2l-1 4l0 2l-1 2l1 6l-10 4l1 3l4 1l0 3l-2 2zM887 829l-8-3l-2-5l-4-2l-1-2l2-2l-1-4l2-6l2-2l0-4l4-3l8 1l2-2l2-3l2 0l1 1l-2 2l4 4l-3 4l2 3l3-1l3-5l3 1l1 4l2 2l14-1l2-1l2-2l5 0l0 6l-3 3l-10-1l-2 4l-6 1l-4 5l-2 0l-4-1l-2 1l-4 5l-6 0zM1061 803l-2-2l2-2l1 2zM1335 803l-2-1l-1 1l1 1zM1095 807l-3-2l3-1l1 1zM1303 811l-2-1l-2 1l2 1zM1343 826l-2-1l2 0zM1319 849l-6 0l-2-1l-4-1l-2-2l2-2l4 3l3-7l3-4l8 3l2 4l0 3l-4 3z"/>
<path fill="#f2da8b" d="M1039 585l-4 0l-4-1l-2 1l-6 0l-4-6l-3-2l2-4l0-4l1-1l4 1l2-2l2-6l2 2l4 1l0-1l-6-2l0-2l-3-4l0-4l0-2l3-2l2 0l3 2l1 2l0 6l2 1l4 0l6-3l2 2l3 10l-4 4l3 12l-2 2zM1023 561l-4-1l0-5l3 0l2 4l0 2zM1075 576l-4 1l-1-2l0-2l-2-4l3-10l2-1l6 1l-1 6l1 2l4 0l2 2l0 2l-4 4l-2 0l-2-2zM1069 583l-1-2l1-4l1 4zM1073 619l-2 2l-4-1l-2-1l-2-4l0-2l5-4l-1-6l-3 0l-1 5l-2 1l-6-10l2-4l2 0l2 1l1-1l0-4l1-2l6 1l4-1l1 2l0 8l3 4l-2 2l-1 6l1 2zM1047 612l-6-2l-4-7l4-2l5 0l3-4l2 0l1 2l-3 12zM1085 602l-1-1l1-3l1 3zM1027 618l-2-1l0-2l2-2l6 2zM1037 632l-2-1l-2-3l-4 1l-4-4l8-3l4 1l4-3l2 0l2 5l0 4l-2 2zM1051 624l-2 0l-1-1l-1-2l2-2l2 2zM1055 628l-1-1l1-1l1 1zM1021 630l-1-1l1-2l1 2zM1045 640l-2 0l-2-1l2-3l4-2l1 3zM1069 767l-2 1l-6-2l-2-5l-2 0l-6 7l-6-2l-4 2l-6 1l-1-2l1-2l2-2l0-2l-2-1l-4 2l-6-2l-4 3l-2 1l-8-6l-4 2l-6-4l-8 1l-2-2l-6 2l-2-1l-8-1l2-4l-2-2l-6-5l-8 0l-2-1l0-3l2-1l-6-2l-2-1l-2-5l-4-4l4-4l-1-4l2-6l-1-2l-6-2l0-2l5-12l3-4l4-1l6 4l2 0l1 3l7 6l2-2l0-2l6 0l4 3l2 0l2 1l2 6l4 2l-1 4l1 2l6 0l10 5l6 4l6 2l2-1l0-4l15-14l3-8l3 2l3 3l2-1l2 1l4-3l2 0l2 3l2-1l0-4l2-6l-1-4l2-6l3-4l-1-6l6-6l0-2l-1-2l-5-4l0-6l-3-4l1-2l1-1l4 1l5-8l-1-2l-4 0l-1-2l0-2l3-1l4 4l3 1l1 2l-1 2l6 8l-2 8l6 6l0 4l3 2l1 6l0 10l4 6l1 5l6 3l4 1l2-1l2 4l4 3l2-1l2-2l4-1l2 3l4 2l2 2l-1 2l-4 4l-1 9l-5 1l3 4l3 2l-3 2l-6 1l-6-1l-8 4l-2 2l-4 0l-2 2l-2 0l-2-5l-1 5l2 2l0 2l-1 4l-4 2l-2-2l-4 1l-4 5l-2 1l-3 3l-2 4zM927 639l-2 0l2-4l1 2zM921 642l0-3l1 0zM1001 653l-2 0l-3-2l0-4l-2-4l7-3l2 1l0 2zM941 650l-4-3l0-2l6 0l0 4zM1011 654l-4 0l-1-3l3-1l2 1l1 2zM1021 679l-2 1l-4 0l-5-3l4-2l4-6l1-1l4 1l4-8l4 1l4-4l2 0l2 1l2-1l6-3l1 2l0 6l4 4l0 2l-5 5l-4 0l-4-2l-4 4l-2 0l-4-5l-6 0zM985 676l-2-7l-2-2l2-3l3 1l2 6zM981 681l-2 0l0-4l-4-4l2-3l2 0l2 1l2 6zM931 694l-2 0l-5-1l3-6l4-3l2 1l4-1l2 1l1 2l-1 2l-4-1l-2 0l0 3zM1121 702l-2 1l-3-2l0-2l2-2l0-4l1-1l5 1l2 2l-1 3zM1046 711l1-2l0-1l-3 1l-2 2l3 1zM927 712l-2-1l2-2l1 2zM1115 723l-2-2l0 2zM1139 729l-7-2l5 0zM1137 750l-3-1l3-2l1 2zM965 759l0-3l2 1l0 1zM1027 775l-1 0l3 0zM885 783l-1-2l2 0zM903 787l-3-2l1-1l3 1zM1061 791l-2 0l0-2l-4-2l0-2l6-1l1 1l-2 2l1 1l2 3zM1079 793l-2 0l0-3l4-2l2 1l0 2zM1331 814l-6-3l-4 2l-4-4l-2-4l-5 0l0-2l-1-1l-6-3l-2 6l-1 2l-3 1l0-3l1-2l1-4l3-6l1-1l2 0l2 2l2 1l6-5l12-1l2 2l3 8l-3 4l0 2l4 6l0 2zM891 825l-4-1l-2 1l-4 1l-2-8l-4-4l1-7l5-9l2 0l2 2l8-4l3 3l-3 2l0 2l2 5l5-1l2-2l1-2l2 0l0 2l2 3l8 0l2 1l0 4l-6 2l-6 5l-5-1zM929 811l-3 0l-5-2l0-1l1-1l3 0l2-1l4 3zM1303 836l-2-2l-2-8l-2-1l-5-6l0-6l3-1l2 3l6 0l2-2l0-4l4-4l1 2l-1 2l1 2l5 4l-2 3l-2-1l-1 2l0 2l3 2l0 2l-2 2l-4 0l-3 6l1 2zM1289 814l-3-1l1-2l3 2zM1333 822l-3-3l1-3l2 1l1 4zM1321 848l-4 0l-3-3l0-4l3-3l6 1l2 4l0 2z"/>
<path fill="#f1cd7c" d="M1029 555l-2-1l-2-3l1-2l3-1l2 3zM1045 583l-6-3l-1 3l-1 1l-10-2l-1-1l1-2l-2-2l-4 1l-3-1l0-2l3-4l2 1l4-4l2-1l4 2l6-4l-3-4l3-1l3 1l1-3l2 0l4 9l-4 2l-1 2l4 10l-1 2zM1073 575l-1-2l1-6l-3-4l3-4l3 2l0 6l0 4zM1081 573l-3-2l1-2l2-1l2 1l1 2zM1073 608l-2-1l-4-6l-4 1l-2 3l-4-5l0-2l2-2l3 1l3-6l6 0l1 8l3 4zM1047 610l-5-1l-1-6l8-1zM1065 616l0-3l3 0zM1073 613l-2 2l-1-2l1-1zM1039 629l-2 1l-2-3l-2-1l-4 1l0-2l4-1l4 1l4-4l2 2l0 2l-4 2zM1043 639l0-2l2-1l1 1zM999 652l-2-3l2-2l-1-4l3-2l1 2l-3 4l2 2l0 2zM1075 664l-6-3l0-6l-2-4l2-2l2 2l2-2l1-4l3-1l5 3l3 6l-2 4l-3 2l0 2zM1009 653l-1-2l1 0zM1043 673l-4-2l-2 0l-2 4l-2 0l-4-6l-3-2l3-4l4 0l2-3l8 0l2 3l-2 4l2 1l2-3l4 2l-4 5zM1041 767l-4-8l-2 0l-4 1l-3-1l3-3l0-2l-2 1l-4 4l-6 3l-3-3l-1-2l-4 0l-4 2l-4-3l-4-2l-2-3l-2 4l-6-1l-2 2l-2 0l-2-4l-4 1l-2-4l-8-6l-7 0l1-4l-2-2l-6-2l-6-8l3-4l-1-4l2-4l0-6l-4 0l-2-2l1-6l5-8l2-2l2 0l3 4l1 3l4 1l8 5l4-1l0-2l2 0l8 2l1 8l-1 2l0 4l2 2l2-4l-1-2l1 0l0 2l4 3l6 0l7 3l5 5l11 3l3-1l2-7l8-8l2 0l4 1l2 0l4-5l2-1l2 3l4-6l2 2l0 6l2 2l1-2l0-4l3-4l-1-4l2-4l1-10l2-4l2-8l6-5l1-3l3-2l0-3l2-1l5 4l0 4l3 2l2 4l0 12l4 6l0 4l2 4l6 1l10 5l1 2l-2 4l11 6l0 2l-2 0l0 2l-4 4l2 2l2 4l-4 2l-6-2l-6 4l-6-1l-2 0l-2 2l-2 0l-2-4l-2 0l-1 9l3 4l0 2l-2 2l-4-3l-4 2l-11 11l0 2l-3 3l-4 0l-4-3l1-2l4-4l-3-1l-4 3l-4 1l-4 6l-6-2zM1019 675l0-5l1 3zM929 693l-2 0l0-2l2-4l2 0l1 4zM937 687l0-1l1 1zM1123 697l-2 0l-2-4l4 0l1 2zM1045 708l-2 0l-1-1l1-3l3 1zM1127 715l-6-2l-1-2l2-4l3-1l-1 3l5 2l1 2zM1095 717l-2-1l-1 1zM1118 729l1-2l-2-2l0-2l-4-3l-2 1l0 2l5 4l0 2l1 1zM1327 802l-3-1l-3-3l-2 3l-4-4l-1-4l1-2l12 0l0 1l-4 2l-1 1l1 2l5 2zM891 800l0-1l1 0zM1311 800l-2-1l3 0zM891 824l-4-3l-4 2l-6-10l1-4l-1-2l3-4l1-4l2 1l0 3l2 1l4-4l2 1l1 6l-3 2l0 2l2 1l10-4l4 2l8 0l2 1l-2 2l-4 2l-2 2l-2 1l-6 0zM1313 801l-1 0l1-1l1 1zM1321 809l-2-2l0-3l4 3zM1307 818l-1-1l1-6l3 2l0 2zM1319 847l-3-2l-1-2l2-4l2 0l4 2l2 2l-2 3z"/>
<path fill="#efbd6d" d="M1029 553l-3-2l1-2l2 0l1 2zM1073 564l0-4l1 1zM1047 567l-4-1l-1-1l1-2l2-1l2 3zM1045 581l-4-2l-2-3l-4 6l-2-2l-4 1l-1-2l3-5l6-6l4 3l2 0l2 6zM1027 576l-7-1l3-1l4-5l3 2l0 2zM1081 571l0-1l1 1zM1069 600l-5-3l1-5l2 0l3 1l1 4zM1059 601l0-3l1 1zM1061 602l-1-1l1-1l1 1zM1045 609l-1-2l1-2l1 2zM1081 657l-4 0l2-2l-1-2l-3 0l0-7l4 1l2 2l0 2l2 2l0 2zM1077 660l-6-1l0-2l4-2l2 2l1 2zM1035 673l-2 0l-2-2l-1-6l7 1l3-1l1-3l1 1l-1 4l3 4l-3 0l-4-2zM1049 764l-2-1l-2-4l-2-1l-2 4l-2-2l-2-8l-2 2l-2 0l-3-5l-1 0l-2 6l-2 2l-6 3l-1-3l-3-2l-8 2l-3-2l2-4l-3-2l-2 1l-4-2l-2 1l-1 4l-5-1l-2 2l-2-3l-6-1l-10-7l-4 0l-1-2l0-2l-1-2l-8-3l-2-3l-1-4l2-2l-2-4l1-2l3 0l1-4l-2-2l-1-6l-5 0l0-6l3-2l1-4l2-2l4 2l0 2l2 2l5 2l-1 2l-2-1l-2 6l4-5l12 2l4-3l5 3l1 4l-3 4l0 4l5 4l4-2l4 1l4-1l8 4l2 6l2 2l2-2l12 2l2-2l1-6l5-6l4-3l4 2l3-1l3-4l4 3l4-3l2 4l2 1l7-1l-1-2l-4-2l1-2l4-2l-3-6l3-2l-1-4l1-2l0-6l3-4l2-8l4-2l3-4l5-4l2 0l0 4l5 6l1 6l-1 4l2 6l1 2l2 7l2 3l4 0l2 1l1 1l-1 2l2 2l2-3l5 3l-2 4l0 2l8 2l1 2l-1 4l-1 0l-1-2l-5-2l-2 1l-1 1l0 2l4 4l-2 4l-5 5l-2 0l-4-4l-4 3l-2-2l-4-1l-8 4l-4 1l-5 4l1 4l4-2l2-3l3 1l-2 4l0 4l-4 4l-5 4l-2 0l-2 0l-2-5l-6 0l-2 4l-8 4l0 3zM931 691l-2 1l-1-1l1-1zM1087 721l2-2l8 1l1-1l0-2l-5-3l-4 1l-3-4l-1 0l0 1l4 3l-2 1l-1 3zM1091 749l-3-2l1-1l3 1zM1060 749l-3 0l2 1zM1025 753l-1-2l-3 0l0 3zM1055 755l1-2l-1 0zM1069 765l-4 0l-2-2l4-4l4 4zM885 820l-2 0l-2-2l-2-5l1-4l-2-2l3-3l5 3l1 4l3 4zM891 821l0-2l2-6l2-1l2 1l0 4l-2 3zM1321 846l-3-1l-1-2l1-2l3 0l3 2z"/>
<path fill="#edae63" d="M1069 598l-2 0l-2-3l1-2l3 1l1 3zM1049 760l-2-1l-2-3l-4 1l-1-2l0-6l-1-2l-4 1l-6-1l-4 3l-4 0l-4 4l-4-1l-4 2l-4-7l-4 0l-6-2l-3 1l1 2l0 3l-8-4l-4 0l-2-4l-4 2l-6-4l-4-1l0-4l-10-6l-1-2l5-8l-1-6l-3-4l1-6l1-2l-2-2l1-2l1-1l4 3l-1 6l1 4l2 2l4 0l2 4l2-2l-6-4l-1-2l0-2l3-2l8 1l4 1l-1 4l3 2l2 8l3 0l5 5l4-4l6-2l7 3l0 4l5 6l3-2l3 0l6 0l0 2l4 0l2-2l0-4l1-2l7-2l3 2l1-2l-8-1l0-3l4-2l4 1l6-4l4 1l4-1l2 3l2 0l6 0l2-2l-2-4l3-4l-3-4l3-4l1-4l-2-5l0-3l3-4l1-6l2-2l2 0l4-5l5-3l1 5l3 3l2 16l3 4l2 7l2 2l5 1l1 6l2 0l2-2l2 2l-2 3l-2 0l-2 3l4 4l2 6l-4 8l-3-2l-3-5l-2-1l1 2l-3 2l-4 0l-2-2l-4 1l-4 5l-4 0l-7 4l1 7l2 0l4-1l2 2l0 2l-5 4l-5 2l-1-2l1-2l-6-1l-4-3l-4 0l-5 6l0 4zM1033 672l0-4l1 3zM953 704l-2 1l-1-2l1-2l3 2zM1088 723l3-3l6 1l2-2l0-2l-6-4l-4 0l-2-4l-2 0l-2 2l3 4l-2 6l3 4zM1111 718l-1-1l1-1l2 1zM1117 720l-3-1l0-2l4 0l1 2zM1002 735l-1-2l-2 0l-1 2l1 2zM1039 743l0-4l-2-1l-1 1l3 5zM1067 765l-2-2l2-2l2 2zM885 819l-2 0l-2-2l-1-4l1-5l4 1l1 6zM895 818l-2-1l2-3zM1323 844l-2 1l-2-2l2-2l2 1l1 1z"/>
<path fill="#ec9c57" d="M1045 753l-4-10l0-6l-2-1l-4 1l0 1l2 7l-2 1l-6-1l0-2l-2 0l2 2l-4 3l-4 0l-4 2l-4-5l-3 2l1 5l-2 0l-1-5l-3-1l-4 0l-10-1l-4 2l-4-1l-4-6l-2-1l-1-2l-3-2l-2 0l-2 2l4 3l2 0l1 1l-1 3l-2-1l-6-3l0-2l2-1l-1-2l-5 0l-6-6l1-4l3-2l0-5l2 0l2-2l2 2l4 0l2-3l-2-6l1-2l3 0l2 4l2 2l1 2l-1 4l-2 2l0 2l2 1l8 1l2 3l4 1l4 7l2 2l5-3l0-4l1-1l2-1l2 1l2 4l2 1l2 0l2-3l6 1l2 2l6 1l1-1l0-2l0-2l3-4l4-2l4 1l1-1l2-4l-4-2l5-2l8-1l4 2l10 0l2-3l-2-4l2-4l-2-4l4-5l3-1l-5-6l-1-4l3-4l1-6l7-2l1-4l3-1l1 3l3 2l1 6l0 4l1 3l0 3l3 6l2 6l1 2l4 0l1 2l2 6l-2 4l2 4l-3 1l-1-1l1-4l-6-4l-1-2l2-2l-1-3l-4 3l-6-1l-3 3l2 6l-2 2l2 4l-4 4l-2 8l-5 2l-2-1l-2-4l-3 1l0 2l1 2l3 0l-1 3l-2-3l-1 4l4 4l-1 4l-3 0l-5-3l-4-1l-4 4l-5 0l-2 2zM967 709l-2 0l1-2l1 0l1 2zM959 711l-2 0l0-4zM1078 715l-1-1l-4 1l2 1zM1039 720l0-1l1 0zM1066 723l2-2l-1-2l-3 4zM1095 729l-2 0l-3-4l1-4l8 1l1 1l-5 4zM1003 731l-4-4l-2 2l-2-1l-1-3l1-2l2 0l2 1l4-2l3 1l-2 4l1 2zM1105 729l-3-2l0-2l1-1l4-1l2 2l-2 4zM1059 727l1-2l-1-1l-2 1l0 1zM974 727l-1-1l0 2zM1083 733l-2 0l2-2zM1079 748l-1-1l1 0zM1077 750l-2 1l0-2l2-2l1 2zM1049 757l-2-2l3 0zM883 818l0-3l1 2zM1323 844l-2 0l-2-1l2-1l2 0l1 1z"/>
<path fill="#ec8a4b" d="M1081 712l-2 0l-8 0l1-5l-1-4l2-1l4 2l1-1l0-6l-2-4l-3-2l-1-4l3-4l0-4l8-3l6 3l1 2l-4 8l3 2l2 4l2 2l1 4l-1 2l-2 3l-6-1zM1101 714l-4-1l-1-2l3-4l2 1zM977 716l-1-1l1-2l1 2zM1053 748l-8 0l-2-7l3-2l-1-2l-4-6l-4 4l-2 0l-2-2l0-2l6-5l4 3l4-4l2 2l0-2l-2-2l2-3l6 0l3 1l-3 4l1 2l3 1l3-3l7-2l2-4l4 0l6-5l1 3l-2 4l-1 2l-4 0l0 2l3 2l-1 4l-1 0l1 2l-2 1l-1-3l-3-5l-3 5l-4 2l-1 10l-2 1l-4-1zM963 725l0-3l4-1l3 0l0 2l-1 1l-4 0zM973 722l-2-1l2-1l1 1zM1095 726l-2 0l-2-1l0-3l6 1zM1105 727l-1 0l1-2l2 0zM969 734l-1-1l-1-4l2-3l2 2l1 3zM1017 747l-2-3l-2 0l-4 1l-4-1l-4 1l-8-1l-4-3l-2 3l-4 0l-2-3l4-2l1-4l-3 0l-2 2l-2 0l1-2l3-4l4 0l4-1l3 1l3 7l2 1l8-4l0-3l2 1l0 2l6 2l5-2l3 4l-2 2l-1 4zM1057 741l6-4l-2-2l-2 1zM1025 740l-1-1l2 0zM1033 745l-5-6l1-1l4 1l2 4l0 2zM1323 844l-2 0l-1-1l3-1l1 1z"/>
<path fill="#ec7843" d="M1079 689l-2 1l-1-1l-1-2l2-5l4-3l0 2l2 1l4-2l1 1l-3 7zM1085 702l-4 0l-3-7l1-3l4-1l6 3l1 3l-3 2zM1079 721l-2 0l-1-2l3-2zM1053 725l-3-2l5 0zM1053 745l-2 2l-3-4l0-4l-3-6l1-4l1-1l2 1l2 5l2-3l0-2l2-1l4 2l2-1l2-3l4-1l1 2l-1 3l-4 3l-4 1l-4 5l0 4zM1039 730l0-2l1 1zM993 742l-2-2l-4 0l-1-1l5-8l2 1l2 5l0 4zM1037 733l-2 0l0-1zM1011 744l-2 0l-4-2l-2 1l-3-2l1-2l4-1l8-1l2 2l-1 2zM1061 742l-1-1l1-1l1 1zM1323 844l-3-1l3-1l1 1z"/>
<path fill="#e8693e" d="M1083 687l-4 0l-2-2l1-2l6 2zM1083 700l-2-1l-2-4l2-3l3 1l1 2zM1065 729l-1-2l2 0zM993 737l-2-1l0-2l2 0zM1051 744l-1-1l1-6l4-4l2 0l-1 4l-5 4zM1009 743l-4-2l0-2l6-1l2 0l0 3zM1323 844l-3-1l3-1z"/>
<path fill="#df5a42" d="M1011 742l-2 0l-2-1l2-2l2 0z"/>
</g>
<polygon points="671.5,472.9 675.9,477.3 671.5,481.7 667.1,477.3" fill="#000"/>
</g>
<rect x="148" y="72" width="800" height="800" fill="none" stroke="#000" stroke-width="2"/>
<g stroke="#000" stroke-width="2">
<line x1="330.5" y1="873" x2="330.5" y2="883"/>
<line x1="602" y1="873" x2="602" y2="883"/>
<line x1="873.5" y1="873" x2="873.5" y2="883"/>
<line x1="137" y1="106" x2="147" y2="106"/>
<line x1="137" y1="283.5" x2="147" y2="283.5"/>
<line x1="137" y1="461" x2="147" y2="461"/>
<line x1="137" y1="638.5" x2="147" y2="638.5"/>
<line x1="137" y1="816" x2="147" y2="816"/>
</g>
<g font-size="28" opacity="0.999">
<text x="330.5" y="914" text-anchor="middle">−108</text>
<text x="602" y="914" text-anchor="middle">−107</text>
<text x="873.5" y="914" text-anchor="middle">−106</text>
<text x="128.5" y="116" text-anchor="end">41.5</text>
<text x="128.5" y="293.5" text-anchor="end">41.0</text>
<text x="128.5" y="471" text-anchor="end">40.5</text>
<text x="128.5" y="648.5" text-anchor="end">40.0</text>
<text x="128.5" y="826" text-anchor="end">39.5</text>
<text x="548" y="953" text-anchor="middle">Longitude</text>
<text transform="translate(58,472) rotate(-90)" text-anchor="middle">Latitude</text>
<text x="548" y="58" text-anchor="middle" font-weight="bold">SEA-POL 20250331 0533-0534 UTC Composite Reflectivity</text>
</g>
<g shape-rendering="crispEdges">
<rect x="984" y="857.45" width="24" height="15.15" fill="#000000"/>
<rect x="984" y="842.91" width="24" height="15.15" fill="#0e0c14"/>
<rect x="984" y="828.36" width="24" height="15.15" fill="#181522"/>
<rect x="984" y="813.82" width="24" height="15.15" fill="#221d33"/>
<rect x="984" y="799.27" width="24" height="15.15" fill="#2a2440"/>
<rect x="984" y="784.73" width="24" height="15.15" fill="#312a4c"/>
<rect x="984" y="770.18" width="24" height="15.15" fill="#3a305a"/>
<rect x="984" y="755.64" width="24" height="15.15" fill="#423768"/>
<rect x="984" y="741.09" width="24" height="15.15" fill="#4a3e75"/>
<rect x="984" y="726.55" width="24" height="15.15" fill="#534584"/>
<rect x="984" y="712.00" width="24" height="15.15" fill="#5c4c94"/>
<rect x="984" y="697.45" width="24" height="15.15" fill="#6454a3"/>
<rect x="984" y="682.91" width="24" height="15.15" fill="#6660b0"/>
<rect x="984" y="668.36" width="24" height="15.15" fill="#5a71ba"/>
<rect x="984" y="653.82" width="24" height="15.15" fill="#4680c0"/>
<rect x="984" y="639.27" width="24" height="15.15" fill="#3f8ebd"/>
<rect x="984" y="624.73" width="24" height="15.15" fill="#449db0"/>
<rect x="984" y="610.18" width="24" height="15.15" fill="#4faaa6"/>
<rect x="984" y="595.64" width="24" height="15.15" fill="#5fb39b"/>
<rect x="984" y="581.09" width="24" height="15.15" fill="#70bd92"/>
<rect x="984" y="566.55" width="24" height="15.15" fill="#87c392"/>
<rect x="984" y="552.00" width="24" height="15.15" fill="#9fcc8f"/>
<rect x="984" y="537.45" width="24" height="15.15" fill="#b0d38b"/>
<rect x="984" y="522.91" width="24" height="15.15" fill="#c2db8a"/>
<rect x="984" y="508.36" width="24" height="15.15" fill="#d3e28d"/>
<rect x="984" y="493.82" width="24" height="15.15" fill="#e4eb97"/>
<rect x="984" y="479.27" width="24" height="15.15" fill="#f5f7ab"/>
<rect x="984" y="464.73" width="24" height="15.15" fill="#fbf9b0"/>
<rect x="984" y="450.18" width="24" height="15.15" fill="#f5e89d"/>
<rect x="984" y="435.64" width="24" height="15.15" fill="#f2da8b"/>
<rect x="984" y="421.09" width="24" height="15.15" fill="#f1cd7c"/>
<rect x="984" y="406.55" width="24" height="15.15" fill="#efbd6d"/>
<rect x="984" y="392.00" width="24" height="15.15" fill="#edae63"/>
<rect x="984" y="377.45" width="24" height="15.15" fill="#ec9c57"/>
<rect x="984" y="362.91" width="24" height="15.15" fill="#ec8a4b"/>
<rect x="984" y="348.36" width="24" height="15.15" fill="#ec7843"/>
<rect x="984" y="333.82" width="24" height="15.15" fill="#e8693e"/>
<rect x="984" y="319.27" width="24" height="15.15" fill="#df5a42"/>
<rect x="984" y="304.73" width="24" height="15.15" fill="#d34545"/>
<rect x="984" y="290.18" width="24" height="15.15" fill="#c63444"/>
<rect x="984" y="275.64" width="24" height="15.15" fill="#b92342"/>
<rect x="984" y="261.09" width="24" height="15.15" fill="#aa1145"/>
<rect x="984" y="246.55" width="24" height="15.15" fill="#99004c"/>
<rect x="984" y="232.00" width="24" height="15.15" fill="#ad1c68"/>
<rect x="984" y="217.45" width="24" height="15.15" fill="#c72b7c"/>
<rect x="984" y="202.91" width="24" height="15.15" fill="#d84594"/>
<rect x="984" y="188.36" width="24" height="15.15" fill="#e064a8"/>
<rect x="984" y="173.82" width="24" height="15.15" fill="#e27fb3"/>
<rect x="984" y="159.27" width="24" height="15.15" fill="#de9bcf"/>
<rect x="984" y="144.73" width="24" height="15.15" fill="#ad82c0"/>
<rect x="984" y="130.18" width="24" height="15.15" fill="#9e6bb0"/>
<rect x="984" y="115.64" width="24" height="15.15" fill="#8c4f9f"/>
<rect x="984" y="101.09" width="24" height="15.15" fill="#692276"/>
<rect x="984" y="86.55" width="24" height="15.15" fill="#55105f"/>
<rect x="984" y="72.00" width="24" height="15.15" fill="#3d0049"/>
</g>
<rect x="984" y="72" width="24" height="800" fill="none" stroke="#000" stroke-width="2"/>
<g stroke="#000" stroke-width="2">
<line x1="1009" y1="872.00" x2="1019" y2="872.00"/>
<line x1="1009" y1="799.27" x2="1019" y2="799.27"/>
<line x1="1009" y1="726.55" x2="1019" y2="726.55"/>
<line x1="1009" y1="653.82" x2="1019" y2="653.82"/>
<line x1="1009" y1="581.09" x2="1019" y2="581.09"/>
<line x1="1009" y1="508.36" x2="1019" y2="508.36"/>
<line x1="1009" y1="435.64" x2="1019" y2="435.64"/>
<line x1="1009" y1="362.91" x2="1019" y2="362.91"/>
<line x1="1009" y1="290.18" x2="1019" y2="290.18"/>
<line x1="1009" y1="217.45" x2="1019" y2="217.45"/>
<line x1="1009" y1="144.73" x2="1019" y2="144.73"/>
<line x1="1009" y1="72.00" x2="1019" y2="72.00"/>
</g>
<g font-size="28" opacity="0.999">
<text x="1025.5" y="882.00">−10</text>
<text x="1025.5" y="809.27">−5</text>
<text x="1025.5" y="736.55">0</text>
<text x="1025.5" y="663.82">5</text>
<text x="1025.5" y="591.09">10</text>
<text x="1025.5" y="518.36">15</text>
<text x="1025.5" y="445.64">20</text>
<text x="1025.5" y="372.91">25</text>
<text x="1025.5" y="300.18">30</text>
<text x="1025.5" y="227.45">35</text>
<text x="1025.5" y="154.73">40</text>
<text x="1025.5" y="82.00">45</text>
<text transform="translate(1110.3,472) rotate(-90)" text-anchor="middle">dBZ</text>
</g>
</svg>
</body>
</html>
